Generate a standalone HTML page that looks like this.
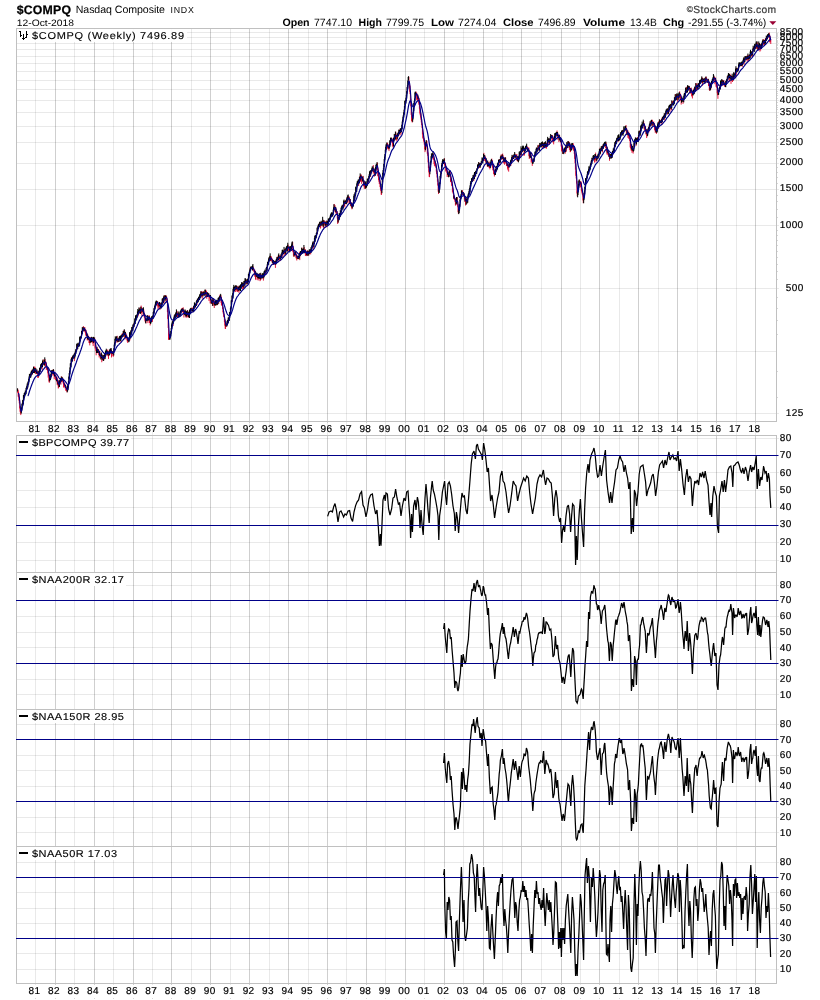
<!DOCTYPE html>
<html><head><meta charset="utf-8"><title>$COMPQ</title>
<style>html,body{margin:0;padding:0;background:#fff}svg{display:block}text{font-family:"Liberation Sans",sans-serif;text-rendering:geometricPrecision}.a{stroke:#000;stroke-width:0.2px}.b{stroke:#000;stroke-width:0.12px}</style></head>
<body><div style="will-change:transform;width:820px;height:1000px"><svg width="820" height="1000" viewBox="0 0 820 1000" shape-rendering="auto">
<line x1="35.5" y1="28" x2="35.5" y2="423" stroke="#000" stroke-width="1" stroke-opacity="0.088"/>
<line x1="55.5" y1="28" x2="55.5" y2="423" stroke="#000" stroke-width="1" stroke-opacity="0.19"/>
<line x1="74.5" y1="28" x2="74.5" y2="423" stroke="#000" stroke-width="1" stroke-opacity="0.088"/>
<line x1="94.5" y1="28" x2="94.5" y2="423" stroke="#000" stroke-width="1" stroke-opacity="0.19"/>
<line x1="113.5" y1="28" x2="113.5" y2="423" stroke="#000" stroke-width="1" stroke-opacity="0.088"/>
<line x1="133.5" y1="28" x2="133.5" y2="423" stroke="#000" stroke-width="1" stroke-opacity="0.19"/>
<line x1="152.5" y1="28" x2="152.5" y2="423" stroke="#000" stroke-width="1" stroke-opacity="0.088"/>
<line x1="171.5" y1="28" x2="171.5" y2="423" stroke="#000" stroke-width="1" stroke-opacity="0.19"/>
<line x1="191.5" y1="28" x2="191.5" y2="423" stroke="#000" stroke-width="1" stroke-opacity="0.088"/>
<line x1="210.5" y1="28" x2="210.5" y2="423" stroke="#000" stroke-width="1" stroke-opacity="0.19"/>
<line x1="230.5" y1="28" x2="230.5" y2="423" stroke="#000" stroke-width="1" stroke-opacity="0.088"/>
<line x1="249.5" y1="28" x2="249.5" y2="423" stroke="#000" stroke-width="1" stroke-opacity="0.19"/>
<line x1="269.5" y1="28" x2="269.5" y2="423" stroke="#000" stroke-width="1" stroke-opacity="0.088"/>
<line x1="288.5" y1="28" x2="288.5" y2="423" stroke="#000" stroke-width="1" stroke-opacity="0.19"/>
<line x1="308.5" y1="28" x2="308.5" y2="423" stroke="#000" stroke-width="1" stroke-opacity="0.088"/>
<line x1="327.5" y1="28" x2="327.5" y2="423" stroke="#000" stroke-width="1" stroke-opacity="0.19"/>
<line x1="346.5" y1="28" x2="346.5" y2="423" stroke="#000" stroke-width="1" stroke-opacity="0.088"/>
<line x1="366.5" y1="28" x2="366.5" y2="423" stroke="#000" stroke-width="1" stroke-opacity="0.19"/>
<line x1="385.5" y1="28" x2="385.5" y2="423" stroke="#000" stroke-width="1" stroke-opacity="0.088"/>
<line x1="405.5" y1="28" x2="405.5" y2="423" stroke="#000" stroke-width="1" stroke-opacity="0.19"/>
<line x1="424.5" y1="28" x2="424.5" y2="423" stroke="#000" stroke-width="1" stroke-opacity="0.088"/>
<line x1="444.5" y1="28" x2="444.5" y2="423" stroke="#000" stroke-width="1" stroke-opacity="0.19"/>
<line x1="463.5" y1="28" x2="463.5" y2="423" stroke="#000" stroke-width="1" stroke-opacity="0.088"/>
<line x1="483.5" y1="28" x2="483.5" y2="423" stroke="#000" stroke-width="1" stroke-opacity="0.19"/>
<line x1="502.5" y1="28" x2="502.5" y2="423" stroke="#000" stroke-width="1" stroke-opacity="0.088"/>
<line x1="521.5" y1="28" x2="521.5" y2="423" stroke="#000" stroke-width="1" stroke-opacity="0.19"/>
<line x1="541.5" y1="28" x2="541.5" y2="423" stroke="#000" stroke-width="1" stroke-opacity="0.088"/>
<line x1="561.5" y1="28" x2="561.5" y2="423" stroke="#000" stroke-width="1" stroke-opacity="0.19"/>
<line x1="580.5" y1="28" x2="580.5" y2="423" stroke="#000" stroke-width="1" stroke-opacity="0.088"/>
<line x1="599.5" y1="28" x2="599.5" y2="423" stroke="#000" stroke-width="1" stroke-opacity="0.19"/>
<line x1="619.5" y1="28" x2="619.5" y2="423" stroke="#000" stroke-width="1" stroke-opacity="0.088"/>
<line x1="638.5" y1="28" x2="638.5" y2="423" stroke="#000" stroke-width="1" stroke-opacity="0.19"/>
<line x1="658.5" y1="28" x2="658.5" y2="423" stroke="#000" stroke-width="1" stroke-opacity="0.088"/>
<line x1="677.5" y1="28" x2="677.5" y2="423" stroke="#000" stroke-width="1" stroke-opacity="0.19"/>
<line x1="697.5" y1="28" x2="697.5" y2="423" stroke="#000" stroke-width="1" stroke-opacity="0.088"/>
<line x1="716.5" y1="28" x2="716.5" y2="423" stroke="#000" stroke-width="1" stroke-opacity="0.19"/>
<line x1="736.5" y1="28" x2="736.5" y2="423" stroke="#000" stroke-width="1" stroke-opacity="0.088"/>
<line x1="755.5" y1="28" x2="755.5" y2="423" stroke="#000" stroke-width="1" stroke-opacity="0.19"/>
<line x1="16" y1="413.5" x2="779" y2="413.5" stroke="#000" stroke-width="1" stroke-opacity="0.088"/>
<line x1="16" y1="351.5" x2="776" y2="351.5" stroke="#000" stroke-width="1" stroke-opacity="0.088"/>
<line x1="16" y1="288.5" x2="779" y2="288.5" stroke="#000" stroke-width="1" stroke-opacity="0.088"/>
<line x1="16" y1="225.5" x2="779" y2="225.5" stroke="#000" stroke-width="1" stroke-opacity="0.088"/>
<line x1="16" y1="189.5" x2="779" y2="189.5" stroke="#000" stroke-width="1" stroke-opacity="0.088"/>
<line x1="16" y1="163.5" x2="779" y2="163.5" stroke="#000" stroke-width="1" stroke-opacity="0.088"/>
<line x1="16" y1="142.5" x2="779" y2="142.5" stroke="#000" stroke-width="1" stroke-opacity="0.088"/>
<line x1="16" y1="126.5" x2="779" y2="126.5" stroke="#000" stroke-width="1" stroke-opacity="0.088"/>
<line x1="16" y1="112.5" x2="779" y2="112.5" stroke="#000" stroke-width="1" stroke-opacity="0.088"/>
<line x1="16" y1="100.5" x2="779" y2="100.5" stroke="#000" stroke-width="1" stroke-opacity="0.088"/>
<line x1="16" y1="89.5" x2="779" y2="89.5" stroke="#000" stroke-width="1" stroke-opacity="0.088"/>
<line x1="16" y1="80.5" x2="779" y2="80.5" stroke="#000" stroke-width="1" stroke-opacity="0.088"/>
<line x1="16" y1="71.5" x2="779" y2="71.5" stroke="#000" stroke-width="1" stroke-opacity="0.088"/>
<line x1="16" y1="63.5" x2="779" y2="63.5" stroke="#000" stroke-width="1" stroke-opacity="0.088"/>
<line x1="16" y1="56.5" x2="779" y2="56.5" stroke="#000" stroke-width="1" stroke-opacity="0.088"/>
<line x1="16" y1="49.5" x2="779" y2="49.5" stroke="#000" stroke-width="1" stroke-opacity="0.088"/>
<line x1="16" y1="43.5" x2="779" y2="43.5" stroke="#000" stroke-width="1" stroke-opacity="0.088"/>
<line x1="16" y1="37.5" x2="779" y2="37.5" stroke="#000" stroke-width="1" stroke-opacity="0.088"/>
<line x1="16" y1="32.5" x2="779" y2="32.5" stroke="#000" stroke-width="1" stroke-opacity="0.088"/>
<line x1="35.5" y1="423" x2="35.5" y2="435" stroke="#ececec" stroke-width="1" />
<line x1="35.5" y1="998" x2="35.5" y2="999" stroke="#d8d8d8" stroke-width="1" />
<line x1="55.5" y1="423" x2="55.5" y2="435" stroke="#ececec" stroke-width="1" />
<line x1="55.5" y1="998" x2="55.5" y2="999" stroke="#d8d8d8" stroke-width="1" />
<line x1="74.5" y1="423" x2="74.5" y2="435" stroke="#ececec" stroke-width="1" />
<line x1="74.5" y1="998" x2="74.5" y2="999" stroke="#d8d8d8" stroke-width="1" />
<line x1="94.5" y1="423" x2="94.5" y2="435" stroke="#ececec" stroke-width="1" />
<line x1="94.5" y1="998" x2="94.5" y2="999" stroke="#d8d8d8" stroke-width="1" />
<line x1="113.5" y1="423" x2="113.5" y2="435" stroke="#ececec" stroke-width="1" />
<line x1="113.5" y1="998" x2="113.5" y2="999" stroke="#d8d8d8" stroke-width="1" />
<line x1="133.5" y1="423" x2="133.5" y2="435" stroke="#ececec" stroke-width="1" />
<line x1="133.5" y1="998" x2="133.5" y2="999" stroke="#d8d8d8" stroke-width="1" />
<line x1="152.5" y1="423" x2="152.5" y2="435" stroke="#ececec" stroke-width="1" />
<line x1="152.5" y1="998" x2="152.5" y2="999" stroke="#d8d8d8" stroke-width="1" />
<line x1="171.5" y1="423" x2="171.5" y2="435" stroke="#ececec" stroke-width="1" />
<line x1="171.5" y1="998" x2="171.5" y2="999" stroke="#d8d8d8" stroke-width="1" />
<line x1="191.5" y1="423" x2="191.5" y2="435" stroke="#ececec" stroke-width="1" />
<line x1="191.5" y1="998" x2="191.5" y2="999" stroke="#d8d8d8" stroke-width="1" />
<line x1="210.5" y1="423" x2="210.5" y2="435" stroke="#ececec" stroke-width="1" />
<line x1="210.5" y1="998" x2="210.5" y2="999" stroke="#d8d8d8" stroke-width="1" />
<line x1="230.5" y1="423" x2="230.5" y2="435" stroke="#ececec" stroke-width="1" />
<line x1="230.5" y1="998" x2="230.5" y2="999" stroke="#d8d8d8" stroke-width="1" />
<line x1="249.5" y1="423" x2="249.5" y2="435" stroke="#ececec" stroke-width="1" />
<line x1="249.5" y1="998" x2="249.5" y2="999" stroke="#d8d8d8" stroke-width="1" />
<line x1="269.5" y1="423" x2="269.5" y2="435" stroke="#ececec" stroke-width="1" />
<line x1="269.5" y1="998" x2="269.5" y2="999" stroke="#d8d8d8" stroke-width="1" />
<line x1="288.5" y1="423" x2="288.5" y2="435" stroke="#ececec" stroke-width="1" />
<line x1="288.5" y1="998" x2="288.5" y2="999" stroke="#d8d8d8" stroke-width="1" />
<line x1="308.5" y1="423" x2="308.5" y2="435" stroke="#ececec" stroke-width="1" />
<line x1="308.5" y1="998" x2="308.5" y2="999" stroke="#d8d8d8" stroke-width="1" />
<line x1="327.5" y1="423" x2="327.5" y2="435" stroke="#ececec" stroke-width="1" />
<line x1="327.5" y1="998" x2="327.5" y2="999" stroke="#d8d8d8" stroke-width="1" />
<line x1="346.5" y1="423" x2="346.5" y2="435" stroke="#ececec" stroke-width="1" />
<line x1="346.5" y1="998" x2="346.5" y2="999" stroke="#d8d8d8" stroke-width="1" />
<line x1="366.5" y1="423" x2="366.5" y2="435" stroke="#ececec" stroke-width="1" />
<line x1="366.5" y1="998" x2="366.5" y2="999" stroke="#d8d8d8" stroke-width="1" />
<line x1="385.5" y1="423" x2="385.5" y2="435" stroke="#ececec" stroke-width="1" />
<line x1="385.5" y1="998" x2="385.5" y2="999" stroke="#d8d8d8" stroke-width="1" />
<line x1="405.5" y1="423" x2="405.5" y2="435" stroke="#ececec" stroke-width="1" />
<line x1="405.5" y1="998" x2="405.5" y2="999" stroke="#d8d8d8" stroke-width="1" />
<line x1="424.5" y1="423" x2="424.5" y2="435" stroke="#ececec" stroke-width="1" />
<line x1="424.5" y1="998" x2="424.5" y2="999" stroke="#d8d8d8" stroke-width="1" />
<line x1="444.5" y1="423" x2="444.5" y2="435" stroke="#ececec" stroke-width="1" />
<line x1="444.5" y1="998" x2="444.5" y2="999" stroke="#d8d8d8" stroke-width="1" />
<line x1="463.5" y1="423" x2="463.5" y2="435" stroke="#ececec" stroke-width="1" />
<line x1="463.5" y1="998" x2="463.5" y2="999" stroke="#d8d8d8" stroke-width="1" />
<line x1="483.5" y1="423" x2="483.5" y2="435" stroke="#ececec" stroke-width="1" />
<line x1="483.5" y1="998" x2="483.5" y2="999" stroke="#d8d8d8" stroke-width="1" />
<line x1="502.5" y1="423" x2="502.5" y2="435" stroke="#ececec" stroke-width="1" />
<line x1="502.5" y1="998" x2="502.5" y2="999" stroke="#d8d8d8" stroke-width="1" />
<line x1="521.5" y1="423" x2="521.5" y2="435" stroke="#ececec" stroke-width="1" />
<line x1="521.5" y1="998" x2="521.5" y2="999" stroke="#d8d8d8" stroke-width="1" />
<line x1="541.5" y1="423" x2="541.5" y2="435" stroke="#ececec" stroke-width="1" />
<line x1="541.5" y1="998" x2="541.5" y2="999" stroke="#d8d8d8" stroke-width="1" />
<line x1="561.5" y1="423" x2="561.5" y2="435" stroke="#ececec" stroke-width="1" />
<line x1="561.5" y1="998" x2="561.5" y2="999" stroke="#d8d8d8" stroke-width="1" />
<line x1="580.5" y1="423" x2="580.5" y2="435" stroke="#ececec" stroke-width="1" />
<line x1="580.5" y1="998" x2="580.5" y2="999" stroke="#d8d8d8" stroke-width="1" />
<line x1="599.5" y1="423" x2="599.5" y2="435" stroke="#ececec" stroke-width="1" />
<line x1="599.5" y1="998" x2="599.5" y2="999" stroke="#d8d8d8" stroke-width="1" />
<line x1="619.5" y1="423" x2="619.5" y2="435" stroke="#ececec" stroke-width="1" />
<line x1="619.5" y1="998" x2="619.5" y2="999" stroke="#d8d8d8" stroke-width="1" />
<line x1="638.5" y1="423" x2="638.5" y2="435" stroke="#ececec" stroke-width="1" />
<line x1="638.5" y1="998" x2="638.5" y2="999" stroke="#d8d8d8" stroke-width="1" />
<line x1="658.5" y1="423" x2="658.5" y2="435" stroke="#ececec" stroke-width="1" />
<line x1="658.5" y1="998" x2="658.5" y2="999" stroke="#d8d8d8" stroke-width="1" />
<line x1="677.5" y1="423" x2="677.5" y2="435" stroke="#ececec" stroke-width="1" />
<line x1="677.5" y1="998" x2="677.5" y2="999" stroke="#d8d8d8" stroke-width="1" />
<line x1="697.5" y1="423" x2="697.5" y2="435" stroke="#ececec" stroke-width="1" />
<line x1="697.5" y1="998" x2="697.5" y2="999" stroke="#d8d8d8" stroke-width="1" />
<line x1="716.5" y1="423" x2="716.5" y2="435" stroke="#ececec" stroke-width="1" />
<line x1="716.5" y1="998" x2="716.5" y2="999" stroke="#d8d8d8" stroke-width="1" />
<line x1="736.5" y1="423" x2="736.5" y2="435" stroke="#ececec" stroke-width="1" />
<line x1="736.5" y1="998" x2="736.5" y2="999" stroke="#d8d8d8" stroke-width="1" />
<line x1="755.5" y1="423" x2="755.5" y2="435" stroke="#ececec" stroke-width="1" />
<line x1="755.5" y1="998" x2="755.5" y2="999" stroke="#d8d8d8" stroke-width="1" />
<line x1="777" y1="397.5" x2="778" y2="397.5" stroke="#d8d8d8" stroke-width="1" />
<line x1="777" y1="371.5" x2="778" y2="371.5" stroke="#d8d8d8" stroke-width="1" />
<line x1="777" y1="334.5" x2="778" y2="334.5" stroke="#d8d8d8" stroke-width="1" />
<line x1="777" y1="320.5" x2="778" y2="320.5" stroke="#d8d8d8" stroke-width="1" />
<line x1="777" y1="308.5" x2="778" y2="308.5" stroke="#d8d8d8" stroke-width="1" />
<line x1="777" y1="297.5" x2="778" y2="297.5" stroke="#d8d8d8" stroke-width="1" />
<line x1="777" y1="279.5" x2="778" y2="279.5" stroke="#d8d8d8" stroke-width="1" />
<line x1="777" y1="271.5" x2="778" y2="271.5" stroke="#d8d8d8" stroke-width="1" />
<line x1="777" y1="264.5" x2="778" y2="264.5" stroke="#d8d8d8" stroke-width="1" />
<line x1="777" y1="257.5" x2="778" y2="257.5" stroke="#d8d8d8" stroke-width="1" />
<line x1="777" y1="251.5" x2="778" y2="251.5" stroke="#d8d8d8" stroke-width="1" />
<line x1="777" y1="245.5" x2="778" y2="245.5" stroke="#d8d8d8" stroke-width="1" />
<line x1="777" y1="240.5" x2="778" y2="240.5" stroke="#d8d8d8" stroke-width="1" />
<line x1="777" y1="235.5" x2="778" y2="235.5" stroke="#d8d8d8" stroke-width="1" />
<line x1="777" y1="230.5" x2="778" y2="230.5" stroke="#d8d8d8" stroke-width="1" />
<line x1="777" y1="217.5" x2="778" y2="217.5" stroke="#d8d8d8" stroke-width="1" />
<line x1="777" y1="209.5" x2="778" y2="209.5" stroke="#d8d8d8" stroke-width="1" />
<line x1="777" y1="201.5" x2="778" y2="201.5" stroke="#d8d8d8" stroke-width="1" />
<line x1="777" y1="195.5" x2="778" y2="195.5" stroke="#d8d8d8" stroke-width="1" />
<line x1="777" y1="183.5" x2="778" y2="183.5" stroke="#d8d8d8" stroke-width="1" />
<line x1="777" y1="177.5" x2="778" y2="177.5" stroke="#d8d8d8" stroke-width="1" />
<line x1="777" y1="172.5" x2="778" y2="172.5" stroke="#d8d8d8" stroke-width="1" />
<line x1="777" y1="167.5" x2="778" y2="167.5" stroke="#d8d8d8" stroke-width="1" />
<line x1="777" y1="158.5" x2="778" y2="158.5" stroke="#d8d8d8" stroke-width="1" />
<line x1="777" y1="154.5" x2="778" y2="154.5" stroke="#d8d8d8" stroke-width="1" />
<line x1="777" y1="150.5" x2="778" y2="150.5" stroke="#d8d8d8" stroke-width="1" />
<line x1="777" y1="146.5" x2="778" y2="146.5" stroke="#d8d8d8" stroke-width="1" />
<line x1="777" y1="139.5" x2="778" y2="139.5" stroke="#d8d8d8" stroke-width="1" />
<line x1="777" y1="135.5" x2="778" y2="135.5" stroke="#d8d8d8" stroke-width="1" />
<line x1="777" y1="132.5" x2="778" y2="132.5" stroke="#d8d8d8" stroke-width="1" />
<line x1="777" y1="129.5" x2="778" y2="129.5" stroke="#d8d8d8" stroke-width="1" />
<line x1="777" y1="123.5" x2="778" y2="123.5" stroke="#d8d8d8" stroke-width="1" />
<line x1="777" y1="120.5" x2="778" y2="120.5" stroke="#d8d8d8" stroke-width="1" />
<line x1="777" y1="117.5" x2="778" y2="117.5" stroke="#d8d8d8" stroke-width="1" />
<line x1="777" y1="115.5" x2="778" y2="115.5" stroke="#d8d8d8" stroke-width="1" />
<line x1="777" y1="109.5" x2="778" y2="109.5" stroke="#d8d8d8" stroke-width="1" />
<line x1="777" y1="107.5" x2="778" y2="107.5" stroke="#d8d8d8" stroke-width="1" />
<line x1="777" y1="105.5" x2="778" y2="105.5" stroke="#d8d8d8" stroke-width="1" />
<line x1="777" y1="102.5" x2="778" y2="102.5" stroke="#d8d8d8" stroke-width="1" />
<line x1="777" y1="98.5" x2="778" y2="98.5" stroke="#d8d8d8" stroke-width="1" />
<line x1="777" y1="95.5" x2="778" y2="95.5" stroke="#d8d8d8" stroke-width="1" />
<line x1="777" y1="93.5" x2="778" y2="93.5" stroke="#d8d8d8" stroke-width="1" />
<line x1="777" y1="91.5" x2="778" y2="91.5" stroke="#d8d8d8" stroke-width="1" />
<line x1="777" y1="87.5" x2="778" y2="87.5" stroke="#d8d8d8" stroke-width="1" />
<line x1="777" y1="85.5" x2="778" y2="85.5" stroke="#d8d8d8" stroke-width="1" />
<line x1="777" y1="83.5" x2="778" y2="83.5" stroke="#d8d8d8" stroke-width="1" />
<line x1="777" y1="82.5" x2="778" y2="82.5" stroke="#d8d8d8" stroke-width="1" />
<line x1="777" y1="78.5" x2="778" y2="78.5" stroke="#d8d8d8" stroke-width="1" />
<line x1="777" y1="76.5" x2="778" y2="76.5" stroke="#d8d8d8" stroke-width="1" />
<line x1="777" y1="74.5" x2="778" y2="74.5" stroke="#d8d8d8" stroke-width="1" />
<line x1="777" y1="73.5" x2="778" y2="73.5" stroke="#d8d8d8" stroke-width="1" />
<line x1="777" y1="69.5" x2="778" y2="69.5" stroke="#d8d8d8" stroke-width="1" />
<line x1="777" y1="68.5" x2="778" y2="68.5" stroke="#d8d8d8" stroke-width="1" />
<line x1="777" y1="66.5" x2="778" y2="66.5" stroke="#d8d8d8" stroke-width="1" />
<line x1="777" y1="65.5" x2="778" y2="65.5" stroke="#d8d8d8" stroke-width="1" />
<line x1="777" y1="62.5" x2="778" y2="62.5" stroke="#d8d8d8" stroke-width="1" />
<line x1="777" y1="60.5" x2="778" y2="60.5" stroke="#d8d8d8" stroke-width="1" />
<line x1="777" y1="59.5" x2="778" y2="59.5" stroke="#d8d8d8" stroke-width="1" />
<line x1="777" y1="57.5" x2="778" y2="57.5" stroke="#d8d8d8" stroke-width="1" />
<line x1="777" y1="55.5" x2="778" y2="55.5" stroke="#d8d8d8" stroke-width="1" />
<line x1="777" y1="53.5" x2="778" y2="53.5" stroke="#d8d8d8" stroke-width="1" />
<line x1="777" y1="52.5" x2="778" y2="52.5" stroke="#d8d8d8" stroke-width="1" />
<line x1="777" y1="51.5" x2="778" y2="51.5" stroke="#d8d8d8" stroke-width="1" />
<line x1="777" y1="48.5" x2="778" y2="48.5" stroke="#d8d8d8" stroke-width="1" />
<line x1="777" y1="47.5" x2="778" y2="47.5" stroke="#d8d8d8" stroke-width="1" />
<line x1="777" y1="45.5" x2="778" y2="45.5" stroke="#d8d8d8" stroke-width="1" />
<line x1="777" y1="44.5" x2="778" y2="44.5" stroke="#d8d8d8" stroke-width="1" />
<line x1="777" y1="42.5" x2="778" y2="42.5" stroke="#d8d8d8" stroke-width="1" />
<line x1="777" y1="41.5" x2="778" y2="41.5" stroke="#d8d8d8" stroke-width="1" />
<line x1="777" y1="40.5" x2="778" y2="40.5" stroke="#d8d8d8" stroke-width="1" />
<line x1="777" y1="38.5" x2="778" y2="38.5" stroke="#d8d8d8" stroke-width="1" />
<line x1="777" y1="36.5" x2="778" y2="36.5" stroke="#d8d8d8" stroke-width="1" />
<line x1="777" y1="35.5" x2="778" y2="35.5" stroke="#d8d8d8" stroke-width="1" />
<line x1="777" y1="34.5" x2="778" y2="34.5" stroke="#d8d8d8" stroke-width="1" />
<line x1="777" y1="33.5" x2="778" y2="33.5" stroke="#d8d8d8" stroke-width="1" />
<rect x="16.5" y="28.5" width="760" height="393" fill="none" stroke="#c0c0c0"/>
<text x="803.6" y="416.1" font-size="10" text-anchor="end" font-weight="normal" fill="#000" letter-spacing="0.4" class="a">125</text>
<text x="803.6" y="290.8" font-size="10" text-anchor="end" font-weight="normal" fill="#000" letter-spacing="0.4" class="a">500</text>
<text x="803.6" y="228.1" font-size="10" text-anchor="end" font-weight="normal" fill="#000" letter-spacing="0.4" class="a">1000</text>
<text x="803.6" y="191.4" font-size="10" text-anchor="end" font-weight="normal" fill="#000" letter-spacing="0.4" class="a">1500</text>
<text x="803.6" y="165.4" font-size="10" text-anchor="end" font-weight="normal" fill="#000" letter-spacing="0.4" class="a">2000</text>
<text x="803.6" y="145.3" font-size="10" text-anchor="end" font-weight="normal" fill="#000" letter-spacing="0.4" class="a">2500</text>
<text x="803.6" y="128.8" font-size="10" text-anchor="end" font-weight="normal" fill="#000" letter-spacing="0.4" class="a">3000</text>
<text x="803.6" y="114.9" font-size="10" text-anchor="end" font-weight="normal" fill="#000" letter-spacing="0.4" class="a">3500</text>
<text x="803.6" y="102.8" font-size="10" text-anchor="end" font-weight="normal" fill="#000" letter-spacing="0.4" class="a">4000</text>
<text x="803.6" y="92.1" font-size="10" text-anchor="end" font-weight="normal" fill="#000" letter-spacing="0.4" class="a">4500</text>
<text x="803.6" y="82.6" font-size="10" text-anchor="end" font-weight="normal" fill="#000" letter-spacing="0.4" class="a">5000</text>
<text x="803.6" y="74.0" font-size="10" text-anchor="end" font-weight="normal" fill="#000" letter-spacing="0.4" class="a">5500</text>
<text x="803.6" y="66.1" font-size="10" text-anchor="end" font-weight="normal" fill="#000" letter-spacing="0.4" class="a">6000</text>
<text x="803.6" y="58.9" font-size="10" text-anchor="end" font-weight="normal" fill="#000" letter-spacing="0.4" class="a">6500</text>
<text x="803.6" y="52.2" font-size="10" text-anchor="end" font-weight="normal" fill="#000" letter-spacing="0.4" class="a">7000</text>
<text x="803.6" y="46.0" font-size="10" text-anchor="end" font-weight="normal" fill="#000" letter-spacing="0.4" class="a">7500</text>
<text x="803.6" y="40.1" font-size="10" text-anchor="end" font-weight="normal" fill="#000" letter-spacing="0.4" class="a">8000</text>
<text x="803.6" y="34.6" font-size="10" text-anchor="end" font-weight="normal" fill="#000" letter-spacing="0.4" class="a">8500</text>
<path d="M17.79 388.79V393.13M18.16 390.10V396.68M18.54 391.77V397.28M18.91 394.07V400.60M19.29 397.07V403.39M19.66 400.22V408.55M20.04 406.04V411.74M20.41 408.40V413.49M20.79 410.72V415.09M27.54 383.62V388.64M30.16 374.74V376.31M32.03 369.62V374.85M33.91 366.81V372.51M34.28 366.62V373.00M35.03 366.83V372.27M35.41 368.67V373.94M36.16 369.43V373.71M37.28 370.73V374.37M37.66 371.66V377.78M38.03 372.51V375.80M38.41 373.24V377.81M39.91 369.09V370.70M42.16 362.89V369.90M43.28 359.45V364.04M43.66 361.59V365.27M45.16 359.11V366.73M45.53 361.85V366.18M45.91 361.65V366.46M46.28 362.80V369.91M46.66 365.39V369.17M47.03 367.54V369.53M47.41 367.66V370.39M47.78 367.07V373.33M48.16 368.77V377.59M48.53 371.00V375.63M48.91 373.82V381.65M49.28 375.45V382.83M50.03 375.96V379.49M51.91 370.32V375.89M52.66 369.88V372.91M53.03 369.70V375.26M53.78 369.85V375.52M54.16 372.61V379.24M54.91 372.39V377.14M55.28 374.63V378.61M55.66 375.43V380.06M56.03 375.51V380.07M56.78 377.40V382.15M57.16 377.36V384.71M57.53 379.65V385.31M58.28 379.81V388.52M58.66 382.99V388.04M60.91 378.79V384.73M61.66 376.35V382.06M62.78 377.84V382.26M63.16 379.46V383.54M63.53 381.17V387.57M63.91 381.68V385.25M64.28 383.24V387.03M64.66 383.15V386.70M65.03 384.19V388.35M65.78 385.89V390.56M66.16 387.11V390.99M66.53 388.41V390.58M66.91 388.22V392.33M71.78 356.96V362.51M74.41 353.66V361.07M77.03 344.98V347.69M77.41 344.16V349.51M78.53 343.58V346.48M81.91 330.83V334.08M82.66 327.95V330.71M83.41 326.10V329.87M83.78 327.26V331.39M84.53 327.54V331.33M84.91 327.18V331.34M85.28 329.81V332.96M85.66 329.31V334.72M86.03 330.02V335.93M86.41 331.74V336.60M87.16 333.59V340.32M87.91 334.66V340.37M88.66 336.07V339.56M89.03 337.02V343.00M89.41 338.05V343.13M89.78 339.71V345.40M90.91 337.04V342.83M92.41 337.58V342.09M92.78 339.95V343.54M93.16 340.73V346.07M94.66 337.46V342.50M95.03 339.59V348.43M95.41 344.35V346.67M95.78 344.56V350.86M96.16 347.07V355.31M97.28 347.32V353.19M98.41 349.11V353.10M98.78 350.61V355.06M99.16 350.43V357.45M99.91 350.96V356.31M100.28 353.37V358.72M100.66 355.36V358.55M101.78 354.08V362.24M102.53 355.38V359.93M102.91 356.93V360.63M104.03 355.66V359.48M104.78 353.81V359.32M107.03 349.88V356.11M107.78 349.54V353.44M108.16 350.91V356.21M108.53 352.89V358.94M109.28 350.87V354.97M110.78 348.43V353.76M111.53 349.95V357.45M111.91 351.57V355.76M112.28 351.99V353.87M113.03 351.45V356.35M113.41 350.86V356.61M116.03 337.14V342.85M117.16 335.78V340.66M117.53 338.82V342.36M118.28 338.80V341.80M119.78 336.83V340.51M120.16 337.67V342.15M122.03 333.62V338.07M122.78 333.01V336.25M123.53 330.50V335.21M124.66 330.42V337.42M125.03 332.47V339.42M125.78 333.09V337.35M126.16 333.75V338.46M126.91 335.58V340.26M127.28 336.96V341.72M127.66 337.63V342.90M128.41 338.35V341.46M129.91 333.02V340.40M130.28 334.72V337.87M131.41 329.79V334.01M132.53 326.79V330.90M133.66 323.72V327.58M138.16 311.36V316.34M139.66 307.70V313.48M141.16 305.57V309.98M141.53 307.17V313.03M141.91 307.69V315.78M142.66 308.90V310.93M143.03 308.97V313.38M143.78 309.54V315.84M144.16 313.15V317.35M144.53 314.59V317.58M144.91 314.14V320.74M145.28 317.72V322.08M146.03 318.84V323.40M146.41 319.02V320.90M147.91 315.09V323.16M148.28 317.93V320.21M149.41 315.46V322.97M149.78 317.97V322.91M150.16 319.91V325.45M152.41 316.23V322.02M157.28 301.20V306.35M157.66 301.27V304.59M158.03 302.58V309.05M158.41 303.36V306.51M158.78 303.29V307.89M159.91 303.01V310.03M160.28 302.88V308.72M162.53 298.61V302.03M163.28 298.48V303.62M164.41 295.73V298.18M164.78 295.03V302.60M166.28 295.45V300.08M166.66 296.63V302.78M167.03 298.36V302.53M167.41 300.29V312.09M167.78 307.16V318.86M168.16 314.88V327.97M168.53 322.96V339.74M168.91 333.31V339.91M169.28 336.19V339.50M173.03 320.33V325.97M174.53 314.78V320.06M176.78 310.73V315.55M177.16 311.40V315.97M177.53 312.67V317.20M177.91 313.12V316.60M178.66 312.99V316.65M181.66 308.19V311.37M182.41 308.37V312.07M183.16 307.24V313.11M183.53 309.22V313.98M183.91 310.47V317.49M185.41 310.21V315.83M186.16 313.49V317.90M186.91 312.41V316.99M187.66 310.11V316.72M188.03 313.87V317.67M188.78 312.17V316.13M189.16 313.14V317.87M191.41 307.85V310.70M191.78 308.43V310.60M192.16 307.64V310.80M192.91 307.55V312.23M195.16 304.01V307.82M197.03 299.75V304.97M198.91 297.22V300.01M201.16 291.25V296.78M201.53 291.45V296.55M202.28 291.81V298.59M202.66 293.60V295.92M203.41 291.15V295.45M204.16 291.57V295.41M204.53 292.25V295.07M205.66 289.60V293.91M206.03 290.35V297.39M206.41 291.09V297.35M206.78 292.95V298.75M207.91 292.73V296.10M209.03 293.77V301.04M209.41 295.63V297.65M209.78 295.49V298.76M210.16 296.63V303.39M210.91 298.08V303.42M211.66 299.43V303.74M212.41 300.13V305.68M213.53 298.75V304.27M213.91 300.24V305.77M214.28 300.74V308.01M215.03 301.18V305.63M215.78 301.37V305.14M216.91 300.17V305.37M217.66 300.05V304.78M218.78 297.73V303.80M219.91 294.66V299.38M221.03 295.36V302.81M221.41 296.97V305.10M221.78 299.43V305.85M222.16 300.77V304.91M222.53 302.54V309.06M222.91 306.79V312.28M223.28 310.69V313.75M223.66 311.22V316.79M224.03 313.76V317.43M224.41 316.02V322.08M224.78 318.94V325.66M225.16 319.77V328.73M225.53 322.89V329.02M226.28 322.50V326.84M226.66 324.50V326.41M232.28 295.91V301.91M234.16 287.25V291.49M235.66 285.44V292.03M236.41 286.34V290.56M237.16 286.33V291.78M237.53 286.47V291.46M237.91 287.85V292.04M239.03 285.77V292.90M239.78 285.96V289.85M242.41 282.65V289.08M243.53 284.17V289.31M244.66 281.41V286.58M245.78 278.77V283.96M246.16 280.16V283.68M246.53 280.07V283.24M247.28 281.13V284.55M250.28 267.50V270.41M252.16 266.56V269.64M253.28 266.54V270.24M253.66 268.10V271.39M254.03 269.70V271.86M254.41 270.07V274.59M254.78 269.75V276.75M255.53 270.85V279.33M255.91 272.89V280.07M257.41 273.81V279.57M258.16 274.65V280.50M258.91 274.50V277.98M259.28 275.51V278.71M260.03 273.10V281.14M260.41 275.90V280.32M261.16 274.24V279.32M261.91 275.69V278.40M263.41 273.91V280.59M265.28 270.66V275.27M265.66 270.28V273.93M266.78 266.64V270.79M269.41 256.98V260.61M270.53 256.04V260.98M270.91 256.17V258.97M271.28 256.59V261.13M271.66 257.77V260.68M272.03 258.31V262.31M272.78 259.65V263.61M273.16 261.32V264.74M273.91 261.01V264.78M274.66 260.78V264.70M275.03 260.91V263.82M275.41 260.88V267.90M277.28 256.52V260.08M278.03 256.81V261.14M279.16 255.13V260.50M279.53 256.20V259.71M280.28 254.95V261.11M282.91 251.68V257.87M284.41 248.91V253.68M284.78 249.89V255.19M285.53 249.27V255.40M287.03 246.93V251.57M288.16 244.68V247.97M288.53 246.43V250.40M288.91 246.83V251.32M289.28 246.89V251.69M290.41 246.28V251.22M291.16 246.39V250.96M292.66 241.90V251.36M293.03 245.83V252.29M293.41 248.39V255.66M293.78 249.94V256.90M295.66 251.88V256.33M296.03 252.81V258.27M296.41 254.96V257.82M296.78 254.58V260.48M297.53 255.75V259.06M297.91 255.75V259.04M299.78 251.61V260.10M300.91 251.48V254.06M302.03 247.66V253.72M302.78 248.95V252.35M304.28 247.09V252.83M305.41 249.23V255.96M305.78 251.18V254.55M306.16 250.77V256.06M306.91 252.39V256.07M307.66 250.36V254.29M308.03 251.03V255.29M308.41 252.42V255.69M309.53 250.44V253.99M310.66 248.75V254.40M313.28 242.65V248.93M313.66 241.98V246.72M317.41 228.45V233.95M319.28 223.33V226.69M320.41 221.86V228.64M320.78 222.79V227.58M321.91 221.52V224.41M323.03 219.68V227.04M323.41 221.51V228.16M324.16 220.44V223.84M324.53 221.16V224.62M324.91 221.37V225.31M325.28 222.36V227.47M326.41 220.60V225.18M326.78 222.40V227.42M334.28 203.96V211.44M335.03 205.20V209.61M335.41 207.06V212.70M336.16 208.37V214.11M336.53 209.65V213.72M336.91 211.26V213.95M337.28 211.35V218.52M337.66 214.84V223.99M338.41 217.89V222.51M342.53 205.08V208.79M344.41 200.98V206.04M344.78 200.88V207.33M346.28 199.19V204.28M347.41 196.27V202.86M348.53 196.30V198.76M348.91 197.08V202.83M349.28 196.59V201.27M349.66 199.22V203.54M350.41 199.14V206.03M350.78 202.06V205.42M351.53 202.36V207.83M351.91 205.21V209.31M354.53 195.09V200.63M356.41 188.57V191.98M358.66 180.03V186.06M359.78 176.13V180.92M360.53 174.69V181.84M361.28 174.48V180.25M361.66 175.94V183.86M362.03 177.93V181.40M363.16 175.89V182.36M363.53 180.51V186.28M364.28 180.98V188.82M364.66 183.12V186.87M365.03 184.63V188.84M365.78 182.82V186.58M366.16 183.51V188.24M368.41 177.95V182.91M370.66 170.69V177.02M373.28 165.03V173.59M373.66 169.10V172.38M374.41 168.91V176.63M374.78 171.04V174.96M377.41 162.61V170.19M377.78 167.78V176.11M378.16 169.99V176.49M378.53 171.36V180.00M378.91 173.75V181.70M379.28 177.96V184.06M379.66 178.34V183.53M380.03 180.45V187.00M380.41 182.68V189.40M380.78 186.14V191.16M381.16 188.80V194.64M381.53 189.84V194.90M387.16 143.21V148.25M387.53 142.64V148.50M387.91 144.10V148.53M388.28 144.68V149.54M389.03 146.32V151.11M391.28 137.40V142.52M392.03 138.48V141.62M392.41 139.35V146.54M392.78 140.58V144.05M393.16 141.48V147.73M394.66 134.42V140.84M395.03 134.83V140.06M395.78 131.65V136.50M396.16 134.39V140.14M396.53 134.72V138.84M396.91 135.55V141.43M397.66 133.92V137.99M399.16 130.55V133.31M399.91 129.18V135.44M401.03 128.34V134.69M408.91 76.77V83.66M409.28 81.69V87.97M409.66 84.45V91.75M410.03 85.71V94.14M410.41 91.64V102.82M410.78 98.74V106.29M411.16 103.08V114.83M411.53 111.40V121.39M411.91 114.60V120.70M412.28 115.50V122.55M416.03 91.54V94.82M416.41 92.67V96.50M416.78 92.87V99.80M417.16 94.22V100.37M417.53 95.16V101.08M418.28 96.39V100.82M418.66 97.18V103.53M419.03 98.21V105.01M419.41 101.19V108.82M419.78 105.09V113.53M420.16 108.81V115.31M420.53 110.33V117.52M420.91 113.31V119.67M421.28 117.24V122.42M421.66 119.05V125.08M422.03 123.51V128.12M422.41 125.88V134.38M422.78 129.19V138.53M423.16 132.85V137.49M423.53 135.54V140.60M423.91 138.04V142.23M424.28 139.92V144.62M424.66 141.91V149.30M425.03 146.03V152.11M426.53 140.41V146.11M426.91 140.86V148.59M427.28 146.02V153.77M427.66 148.27V155.79M428.03 152.53V162.48M428.41 159.56V168.09M428.78 165.51V172.41M429.16 169.30V176.86M429.53 171.10V177.16M431.78 155.17V159.90M433.28 153.35V158.93M433.66 154.47V160.07M434.03 157.81V164.09M434.41 158.41V165.92M434.78 160.50V163.84M435.16 160.88V166.74M435.53 162.96V165.83M435.91 163.53V167.95M436.28 165.54V171.54M436.66 169.36V174.05M437.03 170.85V177.53M437.41 175.32V181.67M437.78 179.20V185.55M438.16 183.25V191.66M438.53 186.07V194.02M444.53 158.39V165.31M444.91 162.63V165.90M445.28 163.25V167.14M445.66 164.43V171.49M446.03 166.25V169.90M446.41 167.15V170.55M446.78 169.01V172.85M447.16 169.68V177.00M447.91 171.37V175.51M448.28 172.37V176.69M449.78 171.17V175.71M450.16 171.42V176.45M450.53 173.99V182.09M450.91 176.33V182.14M451.66 178.73V185.73M452.03 181.43V186.16M452.41 184.02V192.48M452.78 187.63V191.11M453.16 189.24V193.84M453.53 191.98V198.37M454.28 195.62V199.79M454.66 197.18V200.35M455.03 198.03V201.93M455.41 198.84V205.52M455.78 199.08V205.30M457.28 197.06V204.97M457.66 201.24V206.75M458.03 204.36V212.22M458.41 206.85V213.92M462.16 190.51V194.67M462.53 190.40V195.09M462.91 192.16V194.68M463.66 192.33V196.48M464.41 194.20V199.64M464.78 196.54V201.90M465.53 197.90V205.53M465.91 200.55V204.24M466.66 197.96V202.11M467.41 199.66V202.67M473.78 175.23V181.15M475.28 172.95V176.82M477.91 164.58V168.79M479.03 162.50V167.59M479.78 163.55V168.06M483.91 152.86V159.10M484.28 156.78V160.89M485.03 155.65V160.48M485.41 157.00V161.12M485.78 157.68V162.84M486.53 159.47V164.21M487.28 160.99V166.49M488.03 162.30V167.02M489.16 161.53V168.10M489.53 163.69V167.70M489.91 165.17V169.36M491.78 158.60V161.72M492.16 160.00V163.65M492.53 160.84V167.73M492.91 163.94V170.18M493.28 166.34V170.65M493.66 166.79V174.08M494.03 170.05V174.37M494.41 170.65V176.50M496.28 166.19V171.72M499.28 159.06V165.40M500.03 159.53V162.17M501.16 154.36V157.78M501.53 155.09V159.62M502.66 153.56V158.91M503.03 155.06V159.78M503.41 157.92V163.32M504.16 157.67V161.47M504.53 157.65V164.74M505.66 157.57V162.81M506.03 160.01V163.93M506.41 160.58V165.79M506.78 162.41V166.15M507.53 163.93V168.67M507.91 164.57V170.28M508.28 163.84V167.61M508.66 164.75V171.64M509.41 163.84V166.83M510.91 161.67V165.79M512.41 155.60V161.38M512.78 155.82V159.03M515.03 153.63V158.88M516.16 154.74V156.88M516.53 154.52V160.31M516.91 154.11V159.78M517.28 156.48V161.08M518.03 156.58V162.00M520.28 152.39V157.53M521.41 148.26V155.56M522.16 148.33V151.69M524.03 148.23V155.96M524.41 148.72V155.14M527.03 145.95V149.87M527.78 146.96V151.29M528.16 147.61V150.95M528.91 147.54V156.14M529.28 150.64V158.99M529.66 154.53V157.65M530.78 151.97V157.99M531.16 154.51V162.56M531.53 157.82V161.17M531.91 158.62V162.44M532.28 159.95V165.90M536.78 147.67V152.20M537.53 147.93V150.69M538.28 144.81V149.72M538.66 145.65V149.51M539.03 146.37V149.54M540.53 143.87V146.12M540.91 144.41V147.00M542.03 142.70V146.13M542.78 143.55V148.77M543.53 142.82V147.93M545.03 142.55V147.22M545.78 142.13V148.25M546.16 142.97V147.45M546.53 143.31V148.62M548.03 138.95V141.31M548.78 139.25V144.66M549.53 138.54V144.56M551.03 135.22V140.80M552.16 135.00V138.04M552.53 135.44V141.56M552.91 136.55V142.47M553.28 138.14V141.51M553.66 137.85V144.36M557.03 130.54V136.43M557.78 132.70V139.71M558.16 134.78V137.76M558.91 134.55V142.08M559.66 135.46V139.21M560.41 137.12V142.36M561.16 139.58V146.51M561.53 142.90V151.47M561.91 145.52V150.32M562.28 145.58V149.29M562.66 147.12V153.94M565.28 147.18V153.64M566.41 145.23V151.56M567.16 141.93V145.90M567.53 143.79V148.11M568.66 141.03V146.47M569.41 142.05V149.94M570.16 143.90V152.21M570.53 145.41V152.01M572.03 144.25V147.92M572.78 143.02V149.24M573.16 143.38V147.99M573.53 144.79V150.77M573.91 146.10V149.28M574.28 146.27V153.79M574.66 150.31V158.85M575.03 153.20V163.22M575.41 159.53V169.64M575.78 164.16V175.78M576.16 171.13V178.48M576.53 174.23V183.58M576.91 181.03V193.49M577.28 190.44V196.33M579.53 179.64V185.75M580.28 181.47V187.35M580.66 181.60V187.24M581.03 181.44V186.03M581.41 182.40V191.09M581.78 187.84V192.65M582.16 189.32V194.39M582.53 191.35V195.27M582.91 192.78V200.47M583.28 194.75V203.18M586.28 178.02V180.76M592.28 158.13V161.11M593.78 156.36V159.21M594.53 156.01V162.61M595.66 152.60V160.59M596.03 155.91V162.38M596.41 156.58V160.22M597.16 155.18V159.87M600.16 147.65V154.71M602.41 145.40V152.47M605.41 142.54V148.07M606.16 142.41V150.50M606.53 144.41V151.62M606.91 146.56V154.50M607.66 148.70V154.22M608.03 150.02V155.16M608.41 151.33V155.60M608.78 152.79V156.86M609.53 154.45V160.77M610.66 154.03V158.34M612.91 150.77V154.58M615.16 143.03V146.72M618.16 136.87V141.98M618.91 136.70V140.10M622.66 129.89V134.73M624.16 128.53V130.89M626.03 125.05V131.33M626.41 128.08V134.20M626.78 128.64V134.87M627.91 130.40V137.80M628.66 131.70V138.66M629.03 133.67V136.21M629.41 132.88V139.31M629.78 135.19V141.10M630.16 137.98V147.39M630.53 141.45V148.10M630.91 144.00V149.46M631.28 145.30V151.04M632.03 145.81V152.86M632.78 145.84V151.66M633.16 148.75V153.58M635.78 137.68V142.26M636.16 138.69V145.77M637.66 137.02V141.98M639.53 130.82V134.41M639.91 131.48V135.86M641.78 125.10V129.05M642.53 124.55V127.68M643.66 121.11V125.92M644.03 123.22V125.55M644.41 123.84V130.59M644.78 125.69V129.55M645.53 126.12V131.68M645.91 128.87V134.50M646.66 129.21V138.04M647.03 133.07V136.15M648.91 126.29V132.36M650.41 121.20V125.42M650.78 122.89V126.14M651.91 119.89V123.07M652.28 119.80V126.33M652.66 122.25V125.10M653.78 121.44V125.53M654.16 123.16V126.37M654.53 123.38V130.36M654.91 125.35V128.90M655.28 125.84V132.91M655.66 128.86V131.80M656.41 128.07V133.93M658.66 121.22V128.57M659.78 119.70V123.69M661.28 119.58V123.37M662.03 117.83V124.79M662.78 116.85V119.59M664.66 113.65V120.46M667.66 108.59V114.61M669.91 106.10V112.24M670.66 104.25V109.03M671.41 103.86V110.30M672.16 100.84V104.69M672.53 101.22V104.62M675.53 94.03V100.32M677.41 93.92V100.31M677.78 95.50V102.31M678.53 95.53V98.13M679.66 91.25V97.69M680.03 93.47V99.18M680.41 93.78V99.74M680.78 94.56V100.90M681.16 95.75V104.59M682.28 98.18V100.52M683.03 98.64V103.90M683.41 99.04V102.06M686.41 86.80V93.04M686.78 90.20V91.89M687.91 86.90V89.38M689.41 86.05V89.83M689.78 87.61V93.26M690.53 88.11V93.51M691.28 87.59V92.17M691.66 89.59V96.31M692.03 90.50V96.31M692.41 91.56V98.47M693.91 88.33V93.66M695.03 87.25V90.61M696.16 83.22V86.98M696.53 84.07V90.00M696.91 83.45V88.94M697.28 85.99V89.53M698.78 82.94V86.48M702.16 77.35V82.97M702.53 78.03V85.74M703.28 79.14V82.04M704.03 78.66V82.23M705.16 78.43V83.64M705.53 77.08V81.92M706.28 76.72V80.27M706.66 78.31V81.42M707.03 78.94V81.69M707.41 79.90V82.76M708.53 79.06V86.08M708.91 80.79V85.96M709.28 84.17V90.09M709.66 87.14V90.81M710.78 83.25V89.44M714.16 76.61V80.90M714.53 76.72V79.86M714.91 77.13V84.20M715.66 77.80V82.83M716.03 79.95V86.72M716.41 82.75V87.43M716.78 83.95V87.50M717.16 84.93V93.23M717.53 88.29V95.30M717.91 91.29V98.80M722.41 79.91V85.18M722.78 80.15V85.65M723.91 80.15V85.13M724.66 82.74V86.63M725.03 82.60V86.65M727.66 75.89V80.38M729.16 75.23V81.65M729.91 73.75V81.51M730.66 74.94V78.57M731.03 75.33V83.86M731.78 76.94V79.71M732.53 75.86V81.99M732.91 76.93V80.95M734.41 73.16V78.32M736.28 67.89V75.71M737.03 67.83V71.88M737.41 69.05V71.28M740.41 63.61V66.39M742.28 62.08V66.87M744.16 57.64V64.73M745.66 57.30V60.39M746.41 56.46V60.13M747.16 55.37V61.67M748.28 55.08V61.34M749.03 54.85V60.61M750.91 51.29V57.15M751.28 53.34V56.48M752.41 51.17V56.60M753.53 47.24V50.51M755.03 44.69V48.92M756.53 42.59V48.82M757.28 42.12V47.65M757.66 45.57V50.71M758.41 45.76V49.89M759.16 42.84V49.53M759.91 44.41V51.62M760.66 44.28V50.49M761.03 44.44V48.56M763.28 39.03V44.53M763.66 40.19V44.88M764.41 40.05V46.18M765.16 38.82V42.24M765.91 37.99V40.99M766.66 36.32V39.12M769.28 32.57V38.12M769.66 34.73V42.28M770.03 35.96V42.24M770.41 37.66V41.84M770.78 39.31V43.98" stroke="#e0002a" stroke-width="0.9" fill="none"/>
<path d="M17.41 388.27V391.58M21.16 409.01V413.64M21.54 407.35V412.49M21.91 403.85V410.50M22.29 402.92V407.20M22.66 400.10V406.25M23.04 399.75V405.30M23.41 395.14V404.03M23.79 394.98V400.33M24.16 393.20V398.17M24.54 392.59V397.10M24.91 392.65V396.38M25.29 390.53V394.88M25.66 391.23V394.59M26.04 387.96V394.07M26.41 387.18V391.34M26.79 385.70V389.73M27.16 383.51V389.17M27.91 381.73V387.50M28.29 381.36V384.58M28.66 378.70V384.29M29.04 376.47V381.71M29.41 373.85V379.24M29.79 374.41V377.21M30.54 373.61V377.79M30.91 372.25V377.36M31.29 370.86V375.53M31.66 370.63V373.95M32.41 370.37V374.34M32.78 369.41V372.71M33.16 368.48V372.39M33.53 366.65V373.01M34.66 368.04V373.12M35.78 368.03V371.98M36.53 370.82V373.32M36.91 369.40V373.77M38.78 370.97V376.32M39.16 370.29V374.75M39.53 367.80V374.14M40.28 367.26V371.90M40.66 364.55V369.46M41.03 363.96V368.52M41.41 363.52V366.24M41.78 362.95V367.00M42.53 360.80V367.15M42.91 359.70V363.97M44.03 362.59V365.13M44.41 359.98V365.52M44.78 357.34V362.61M49.66 375.10V381.47M50.41 376.37V380.15M50.78 373.91V378.89M51.16 370.03V377.19M51.53 370.98V373.64M52.28 369.98V373.98M53.41 369.14V374.23M54.53 372.41V376.43M56.41 377.17V380.98M57.91 381.18V384.13M59.03 383.69V386.92M59.41 380.90V386.95M59.78 379.83V384.23M60.16 379.39V382.38M60.53 378.28V382.23M61.28 376.62V381.47M62.03 377.69V381.08M62.41 377.37V379.65M65.41 384.95V387.90M67.28 385.63V392.30M67.66 385.33V391.14M68.03 384.14V389.91M68.41 381.00V387.65M68.78 376.50V383.80M69.16 373.09V379.19M69.53 370.63V376.97M69.91 367.38V374.23M70.28 363.33V369.18M70.66 363.21V367.37M71.03 359.27V367.23M71.41 357.74V361.72M72.16 357.52V361.36M72.53 356.30V361.40M72.91 355.45V359.30M73.28 355.31V357.69M73.66 355.31V358.31M74.03 353.83V356.85M74.78 352.80V358.49M75.16 351.62V356.57M75.53 350.46V353.88M75.91 348.94V353.78M76.28 348.95V351.78M76.66 343.67V351.02M77.78 342.89V349.09M78.16 343.99V346.88M78.91 342.88V346.61M79.28 341.85V346.40M79.66 336.64V345.42M80.03 337.71V341.57M80.41 336.33V340.50M80.78 336.77V338.74M81.16 335.45V338.36M81.53 330.83V337.74M82.28 327.15V334.22M83.03 326.92V331.32M84.16 327.65V331.12M86.78 332.69V335.92M87.53 334.51V339.23M88.28 335.90V339.79M90.16 338.40V343.10M90.53 337.96V341.59M91.28 338.19V342.04M91.66 336.80V342.17M92.03 336.99V341.66M93.53 336.87V342.80M93.91 338.16V341.28M94.28 337.43V340.17M96.53 348.45V352.99M96.91 346.72V352.04M97.66 348.95V353.00M98.03 348.89V353.01M99.53 351.23V355.74M101.03 354.90V359.62M101.41 352.48V358.03M102.16 354.70V359.58M103.28 357.88V360.85M103.66 354.97V360.92M104.41 354.27V358.37M105.16 354.16V358.85M105.53 351.11V356.63M105.91 350.16V354.98M106.28 348.71V353.21M106.66 350.64V353.43M107.41 351.20V354.74M108.91 351.10V355.92M109.66 349.68V355.11M110.03 348.88V352.74M110.41 348.67V352.60M111.16 348.09V353.51M112.66 351.13V354.07M113.78 348.28V355.45M114.16 344.59V350.48M114.53 342.50V347.42M114.91 338.79V345.73M115.28 336.29V343.22M115.66 337.51V341.21M116.41 336.74V341.34M116.78 336.18V339.77M117.91 338.82V342.17M118.66 338.30V341.51M119.03 337.39V341.79M119.41 335.94V339.96M120.53 335.77V340.72M120.91 335.31V340.99M121.28 336.11V338.49M121.66 334.68V338.05M122.41 334.13V336.97M123.16 330.97V336.92M123.91 331.32V335.50M124.28 329.28V335.21M125.41 331.89V337.14M126.53 335.95V337.91M128.03 337.39V341.04M128.78 339.25V342.25M129.16 337.65V341.50M129.53 332.13V339.62M130.66 331.19V338.43M131.03 330.03V335.49M131.78 326.95V334.25M132.16 327.27V330.30M132.91 324.56V330.73M133.28 324.49V328.23M134.03 322.75V326.94M134.41 321.37V325.22M134.78 318.56V323.88M135.16 318.29V324.02M135.53 315.44V321.74M135.91 315.32V320.80M136.28 317.11V319.09M136.66 314.67V319.62M137.03 314.53V317.91M137.41 311.50V316.64M137.78 309.01V315.18M138.53 310.06V314.37M138.91 307.44V312.97M139.28 308.65V311.83M140.03 310.17V313.67M140.41 309.34V313.88M140.78 306.71V312.64M142.28 308.25V311.90M143.41 307.29V313.77M145.66 318.10V323.32M146.78 318.22V320.85M147.16 315.13V321.20M147.53 315.77V320.16M148.66 316.61V320.65M149.03 315.89V319.74M150.53 320.95V323.82M150.91 318.43V323.41M151.28 319.08V322.19M151.66 316.60V321.16M152.03 315.99V318.86M152.78 315.37V319.25M153.16 312.05V318.69M153.53 311.39V315.58M153.91 308.24V314.16M154.28 307.80V312.61M154.66 305.78V310.15M155.03 304.50V308.84M155.41 302.36V307.09M155.78 301.47V305.16M156.16 300.63V305.46M156.53 300.76V304.99M156.91 300.94V302.57M159.16 302.57V306.48M159.53 301.96V306.24M160.66 305.40V307.72M161.03 302.63V308.67M161.41 303.08V307.07M161.78 302.35V305.99M162.16 298.66V305.14M162.91 297.95V302.56M163.66 296.45V302.90M164.03 295.38V299.93M165.16 295.80V300.89M165.53 295.42V299.30M165.91 295.74V297.51M169.66 336.30V339.56M170.03 334.42V339.53M170.41 333.86V337.49M170.78 330.97V336.53M171.16 328.06V333.60M171.53 324.58V329.44M171.91 323.30V328.83M172.28 321.99V326.46M172.66 321.01V326.17M173.41 319.42V323.61M173.78 317.43V322.11M174.16 315.56V320.53M174.91 314.31V320.79M175.28 314.55V317.18M175.66 312.45V318.18M176.03 313.69V317.02M176.41 309.38V316.75M178.28 311.46V317.70M179.03 314.63V316.57M179.41 314.04V317.07M179.78 312.35V316.85M180.16 311.05V316.07M180.53 310.78V315.05M180.91 310.16V314.75M181.28 308.96V312.52M182.03 309.05V311.55M182.78 308.10V311.40M184.28 311.18V315.16M184.66 310.54V314.19M185.03 309.37V314.40M185.78 311.11V316.66M186.53 311.23V316.43M187.28 310.22V315.15M188.41 311.62V317.23M189.53 309.90V317.99M189.91 309.28V314.47M190.28 308.59V313.16M190.66 308.27V311.13M191.03 307.86V312.37M192.53 308.63V311.33M193.28 308.57V311.77M193.66 305.65V312.09M194.03 305.95V309.03M194.41 302.38V308.02M194.78 302.81V306.63M195.53 303.60V307.34M195.91 303.91V305.97M196.28 301.29V305.97M196.66 300.22V303.27M197.41 298.72V302.69M197.78 298.45V302.79M198.16 298.79V302.02M198.53 296.73V301.39M199.28 296.77V299.88M199.66 294.39V300.18M200.03 294.52V298.42M200.41 293.51V297.09M200.78 291.35V297.77M201.91 291.76V296.15M203.03 291.78V296.49M203.78 292.00V294.94M204.91 289.64V296.03M205.28 289.85V294.64M207.16 294.02V296.08M207.53 292.26V296.96M208.28 294.23V296.12M208.66 293.14V296.58M210.53 295.02V300.28M211.28 300.32V303.64M212.03 300.82V303.45M212.78 297.93V305.99M213.16 299.64V301.93M214.66 302.04V305.31M215.41 300.98V305.54M216.16 301.09V305.24M216.53 299.85V304.37M217.28 300.22V305.03M218.03 298.26V304.10M218.41 297.58V302.13M219.16 296.82V301.81M219.53 296.23V300.42M220.28 295.12V298.37M220.66 293.87V297.79M225.91 323.52V326.60M227.03 320.99V326.31M227.41 319.96V325.01M227.78 319.86V323.83M228.16 317.51V322.90M228.53 318.28V322.52M228.91 316.65V321.03M229.28 316.86V320.92M229.66 311.86V318.25M230.03 312.15V316.01M230.41 308.00V315.31M230.78 306.46V310.35M231.16 300.38V308.46M231.53 300.20V305.18M231.91 295.48V301.65M232.66 293.22V298.82M233.03 288.95V298.47M233.41 287.12V294.14M233.78 284.89V291.67M234.53 286.80V291.08M234.91 286.07V289.99M235.28 285.62V289.66M236.03 285.20V289.18M236.78 285.72V289.38M238.28 287.30V291.08M238.66 286.57V289.81M239.41 285.54V290.31M240.16 287.63V290.74M240.53 284.53V291.00M240.91 284.62V289.00M241.28 284.07V288.48M241.66 282.23V286.11M242.03 282.27V286.61M242.78 283.15V286.81M243.16 282.94V286.06M243.91 281.06V287.71M244.28 280.81V284.92M245.03 278.22V285.68M245.41 278.43V282.59M246.91 279.14V284.50M247.66 278.84V283.57M248.03 278.53V282.48M248.41 273.80V282.39M248.78 273.67V278.64M249.16 271.79V276.01M249.53 270.36V274.12M249.91 268.51V273.31M250.66 266.64V270.80M251.03 266.80V268.69M251.41 266.51V268.94M251.78 266.71V268.75M252.53 265.38V270.50M252.91 263.99V269.38M255.16 271.22V275.32M256.28 273.81V277.08M256.66 272.60V276.29M257.03 274.04V276.27M257.78 273.27V278.02M258.53 274.09V278.59M259.66 273.38V278.80M260.78 272.79V279.35M261.53 274.93V277.75M262.28 274.71V278.43M262.66 273.10V277.89M263.03 273.81V277.20M263.78 272.47V278.28M264.16 271.08V276.91M264.53 271.20V274.86M264.91 269.65V273.07M266.03 268.15V273.34M266.41 266.99V271.64M267.16 264.35V270.93M267.53 261.86V267.56M267.91 262.16V264.46M268.28 260.66V264.56M268.66 258.35V264.72M269.03 257.22V261.19M269.78 255.74V261.25M270.16 253.32V260.33M272.41 259.59V262.88M273.53 260.09V264.44M274.28 261.02V264.03M275.78 260.68V264.81M276.16 259.37V263.77M276.53 258.69V263.14M276.91 257.07V262.60M277.66 257.32V260.18M278.41 254.64V260.03M278.78 253.38V258.74M279.91 256.57V258.70M280.66 255.97V259.52M281.03 253.78V257.81M281.41 255.06V257.63M281.78 252.43V257.91M282.16 249.80V254.91M282.53 249.72V253.62M283.28 250.29V254.22M283.66 250.93V254.06M284.03 246.93V252.85M285.16 248.60V253.50M285.91 247.87V253.76M286.28 246.86V250.51M286.66 246.04V250.04M287.41 245.18V251.51M287.78 242.77V249.24M289.66 246.41V252.39M290.03 246.76V250.22M290.78 245.94V250.20M291.53 244.53V249.56M291.91 242.36V247.26M292.28 241.41V246.84M294.16 253.33V256.43M294.53 253.03V255.11M294.91 251.41V255.10M295.28 251.48V254.62M297.16 255.96V258.75M298.28 255.99V259.08M298.66 255.89V258.06M299.03 253.77V259.13M299.41 253.12V257.67M300.16 252.45V256.24M300.53 251.03V255.64M301.28 251.02V254.76M301.66 247.74V253.34M302.41 248.78V253.41M303.16 249.95V252.62M303.53 248.43V251.96M303.91 244.99V252.52M304.66 250.40V253.30M305.03 249.78V252.39M306.53 251.81V254.87M307.28 250.63V255.78M308.78 250.96V255.52M309.16 249.56V254.17M309.91 249.00V253.59M310.28 249.91V252.39M311.03 247.09V252.97M311.41 248.04V250.95M311.78 245.56V251.12M312.16 244.60V247.78M312.53 242.72V246.88M312.91 241.48V246.75M314.03 240.93V247.32M314.41 238.03V243.92M314.78 236.06V240.87M315.16 235.07V241.76M315.53 235.50V239.39M315.91 235.37V238.64M316.28 232.93V237.84M316.66 232.43V235.57M317.03 227.66V234.25M317.78 226.30V231.46M318.16 224.79V228.73M318.53 224.36V228.80M318.91 223.69V227.25M319.66 221.83V226.75M320.03 221.79V225.78M321.16 220.72V225.94M321.53 222.23V224.36M322.28 221.21V225.75M322.66 216.81V223.96M323.78 220.10V226.79M325.66 221.70V225.87M326.03 221.70V224.65M327.16 220.68V226.12M327.53 221.28V224.49M327.91 221.82V224.69M328.28 218.59V224.45M328.66 218.53V222.46M329.03 218.94V222.04M329.41 218.17V221.27M329.78 217.30V221.44M330.16 215.60V219.63M330.53 214.50V217.99M330.91 213.69V217.43M331.28 212.81V217.08M331.66 212.55V216.60M332.03 212.18V216.00M332.41 213.56V216.64M332.78 213.26V216.18M333.16 209.65V214.94M333.53 207.33V212.52M333.91 204.27V209.91M334.66 206.54V210.08M335.78 207.01V212.26M338.03 217.24V222.63M338.78 216.60V220.51M339.16 213.17V219.85M339.53 213.91V218.60M339.91 213.00V216.51M340.28 210.26V217.02M340.66 210.84V213.73M341.03 207.66V213.92M341.41 207.43V212.08M341.78 206.03V211.31M342.16 204.87V208.04M342.91 205.75V209.90M343.28 204.02V208.38M343.66 200.56V206.47M344.03 199.57V203.46M345.16 200.95V203.80M345.53 200.54V203.62M345.91 200.32V203.60M346.66 198.41V203.95M347.03 197.11V202.05M347.78 195.21V200.71M348.16 194.46V199.90M350.03 198.97V203.90M351.16 203.11V206.47M352.28 204.21V208.56M352.66 203.96V206.65M353.03 202.54V207.07M353.41 199.99V205.89M353.78 195.69V203.15M354.16 193.99V200.84M354.91 192.41V199.35M355.28 192.47V196.06M355.66 186.61V195.61M356.03 187.46V191.59M356.78 183.40V191.75M357.16 181.36V186.25M357.53 181.36V185.38M357.91 180.57V185.45M358.28 179.42V183.75M359.03 179.38V183.74M359.41 177.09V182.94M360.16 173.40V180.55M360.91 175.47V178.77M362.41 177.23V181.54M362.78 176.37V179.10M363.91 180.41V185.39M365.41 181.39V188.66M366.53 184.27V187.65M366.91 181.20V186.29M367.28 178.75V185.74M367.66 179.00V181.75M368.03 178.21V181.43M368.78 175.88V181.59M369.16 174.10V178.17M369.53 171.25V176.44M369.91 173.45V176.77M370.28 170.45V175.51M371.03 170.08V174.53M371.41 169.99V172.65M371.78 168.26V171.65M372.16 166.51V171.51M372.53 168.16V170.77M372.91 166.38V169.52M374.03 168.31V172.06M375.16 170.16V176.00M375.53 167.12V173.59M375.91 164.98V170.73M376.28 163.72V169.03M376.66 164.30V167.32M377.03 162.14V166.13M381.91 183.71V193.23M382.28 179.72V186.67M382.66 172.77V182.43M383.03 170.12V175.70M383.41 167.85V172.84M383.78 163.83V171.13M384.16 159.13V166.95M384.53 156.52V161.76M384.91 154.07V159.78M385.28 149.71V156.28M385.66 146.73V152.41M386.03 144.38V149.51M386.41 144.65V149.63M386.78 142.46V147.55M388.66 145.92V148.60M389.41 143.73V148.57M389.78 140.19V147.11M390.16 141.16V144.83M390.53 137.87V143.67M390.91 137.61V139.85M391.66 138.21V141.15M393.53 137.77V146.56M393.91 137.63V140.43M394.28 133.91V139.66M395.41 131.62V139.36M397.28 132.80V139.30M398.03 133.98V136.35M398.41 131.96V136.20M398.78 129.64V134.77M399.53 130.04V133.91M400.28 128.27V133.08M400.66 128.61V132.57M401.41 128.11V132.15M401.78 124.67V130.57M402.16 121.54V128.84M402.53 119.70V125.21M402.91 116.67V121.93M403.28 115.10V119.66M403.66 112.30V117.49M404.03 109.66V114.99M404.41 105.97V113.67M404.78 100.96V109.39M405.16 100.27V104.74M405.53 100.32V103.61M405.91 97.70V103.50M406.28 94.80V101.03M406.66 91.14V98.73M407.03 87.08V93.71M407.41 85.13V90.95M407.78 80.54V89.02M408.16 76.94V85.08M408.53 76.21V80.10M412.66 115.50V121.85M413.03 112.24V119.51M413.41 108.01V115.85M413.78 103.00V110.96M414.16 100.89V106.14M414.53 98.46V104.90M414.91 92.53V100.88M415.28 91.59V97.79M415.66 92.30V94.64M417.91 94.69V98.85M425.41 144.51V150.31M425.78 141.80V146.69M426.16 140.09V144.79M429.91 166.78V174.29M430.28 162.04V171.08M430.66 160.66V164.82M431.03 156.19V162.43M431.41 153.28V159.75M432.16 153.93V158.12M432.53 153.25V157.20M432.91 151.27V156.21M438.91 189.61V192.76M439.28 185.66V192.84M439.66 182.29V189.81M440.03 175.94V184.13M440.41 174.12V178.83M440.78 171.97V178.35M441.16 169.42V173.98M441.53 164.70V172.01M441.91 163.00V167.22M442.28 161.14V166.04M442.66 159.33V163.91M443.03 159.30V163.16M443.41 159.93V164.00M443.78 159.85V163.51M444.16 158.33V163.27M447.53 171.89V174.73M448.66 173.73V177.33M449.03 171.40V176.94M449.41 170.96V174.33M451.28 178.80V180.96M453.91 195.51V198.80M456.16 200.31V204.38M456.53 197.01V203.57M456.91 197.10V201.64M458.78 208.96V214.15M459.16 207.69V213.04M459.53 204.23V210.72M459.91 199.40V206.78M460.28 196.66V201.25M460.66 195.77V199.69M461.03 194.05V198.89M461.41 190.38V197.66M461.78 190.45V192.79M463.28 192.21V195.26M464.03 193.00V196.06M465.16 196.09V201.25M466.28 198.80V204.65M467.03 198.26V203.59M467.78 195.50V202.74M468.16 193.73V197.59M468.53 193.29V196.95M468.91 191.23V195.70M469.28 189.10V194.45M469.66 187.74V193.56M470.03 185.33V192.49M470.41 182.95V188.29M470.78 181.10V186.41M471.16 181.14V183.75M471.53 178.26V183.71M471.91 178.31V181.54M472.28 178.70V182.07M472.66 177.17V180.83M473.03 175.05V180.73M473.41 175.39V178.75M474.16 173.63V179.25M474.53 172.01V178.86M474.91 172.38V176.79M475.66 170.83V176.18M476.03 170.83V173.91M476.41 170.67V173.63M476.78 168.48V173.71M477.16 168.16V170.05M477.53 164.49V169.92M478.28 164.20V168.27M478.66 162.09V167.61M479.41 163.31V166.57M480.16 163.40V167.78M480.53 163.07V166.34M480.91 162.67V164.65M481.28 160.88V165.19M481.66 161.74V163.57M482.03 157.45V163.49M482.41 159.31V162.99M482.78 158.04V163.25M483.16 157.41V160.42M483.53 153.78V160.72M484.66 154.87V159.03M486.16 158.17V162.51M486.91 161.54V164.09M487.66 160.48V166.48M488.41 163.24V166.32M488.78 162.32V165.76M490.28 163.87V167.92M490.66 161.60V167.39M491.03 159.89V165.47M491.41 159.14V161.79M494.78 172.08V174.90M495.16 170.48V174.47M495.53 169.18V174.95M495.91 166.70V172.30M496.66 166.08V170.85M497.03 165.62V169.81M497.41 163.65V169.32M497.78 162.71V165.04M498.16 162.59V165.54M498.53 159.92V164.61M498.91 159.51V161.90M499.66 159.35V162.80M500.41 156.75V162.75M500.78 155.62V159.66M501.91 155.85V158.68M502.28 154.34V158.80M503.78 157.37V161.05M504.91 158.13V162.17M505.28 157.19V162.11M507.16 163.15V165.85M509.03 162.76V167.81M509.78 163.13V166.54M510.16 162.63V165.88M510.53 160.17V164.71M511.28 159.03V163.85M511.66 157.09V162.22M512.03 154.85V160.95M513.16 155.36V158.92M513.53 155.72V158.98M513.91 154.34V158.17M514.28 154.61V157.32M514.66 152.03V156.58M515.41 154.70V157.42M515.78 154.79V157.86M517.66 156.29V160.93M518.41 157.37V162.35M518.78 155.74V161.02M519.16 151.71V159.45M519.53 152.67V156.89M519.91 151.05V155.03M520.66 150.78V154.71M521.03 146.25V154.76M521.78 148.05V152.69M522.53 146.45V151.71M522.91 145.52V150.46M523.28 145.86V150.85M523.66 146.67V149.53M524.78 147.69V152.35M525.16 147.94V151.37M525.53 146.18V150.96M525.91 145.96V149.19M526.28 145.08V148.82M526.66 143.61V148.16M527.41 148.40V151.23M528.53 148.51V151.38M530.03 153.62V157.74M530.41 152.13V157.49M532.66 160.63V163.89M533.03 158.60V163.68M533.41 159.58V162.39M533.78 158.55V161.70M534.16 155.76V161.75M534.53 154.66V157.49M534.91 151.62V157.07M535.28 152.39V155.53M535.66 151.32V154.19M536.03 148.79V155.21M536.41 147.54V151.77M537.16 148.17V152.34M537.91 145.33V150.95M539.41 145.07V150.84M539.78 143.02V147.87M540.16 142.86V147.15M541.28 143.13V147.36M541.66 141.97V146.32M542.41 141.41V145.97M543.16 143.45V146.49M543.91 143.41V146.82M544.28 142.17V147.33M544.66 142.60V144.59M545.41 141.19V146.39M546.91 143.30V146.66M547.28 139.55V146.34M547.66 136.87V143.21M548.41 138.26V141.86M549.16 138.40V143.07M549.91 138.70V142.32M550.28 136.21V140.84M550.66 134.04V138.67M551.41 135.39V138.41M551.78 135.10V137.41M554.03 137.99V141.44M554.41 136.01V140.96M554.78 133.26V139.71M555.16 133.39V138.37M555.53 132.81V137.90M555.91 133.06V136.49M556.28 132.34V135.19M556.66 131.86V135.06M557.41 131.99V136.21M558.53 135.70V138.30M559.28 134.75V140.47M560.03 136.88V140.33M560.78 138.76V142.09M563.03 149.15V153.94M563.41 151.40V153.18M563.78 149.81V154.15M564.16 148.12V152.18M564.53 148.60V152.25M564.91 147.40V151.39M565.66 146.33V152.04M566.03 144.90V148.52M566.78 142.13V148.21M567.91 141.08V148.03M568.28 141.50V145.72M569.03 142.37V145.09M569.78 143.00V147.31M570.91 147.57V150.98M571.28 147.13V149.61M571.66 143.21V150.17M572.41 143.08V147.28M577.66 191.25V197.32M578.03 189.57V194.97M578.41 184.03V191.43M578.78 180.56V187.80M579.16 179.51V184.74M579.91 181.23V184.36M583.66 197.48V203.25M584.03 193.11V200.16M584.41 190.39V196.45M584.78 186.74V194.27M585.16 184.49V189.32M585.53 178.30V186.60M585.91 177.97V182.83M586.66 176.34V181.01M587.03 174.44V178.28M587.41 171.93V177.59M587.78 170.91V174.49M588.16 171.46V173.48M588.53 169.30V174.58M588.91 166.28V173.65M589.28 167.56V170.95M589.66 166.80V171.08M590.03 165.45V169.95M590.41 163.92V168.66M590.78 162.71V167.02M591.16 160.67V164.89M591.53 160.08V163.80M591.91 157.73V164.09M592.66 158.24V161.04M593.03 155.75V160.62M593.41 155.03V158.29M594.16 155.64V159.51M594.91 154.17V159.19M595.28 154.10V156.72M596.78 155.99V161.01M597.53 156.11V158.68M597.91 154.48V158.62M598.28 153.55V158.39M598.66 153.92V155.78M599.03 151.44V156.82M599.41 148.84V152.76M599.78 148.81V152.66M600.53 149.82V153.77M600.91 148.12V151.58M601.28 146.14V150.75M601.66 147.51V150.84M602.03 145.99V151.09M602.78 146.12V148.88M603.16 144.16V147.80M603.53 144.33V148.73M603.91 143.29V146.63M604.28 142.86V146.39M604.66 142.01V146.14M605.03 141.76V145.69M605.78 141.46V146.12M607.28 147.37V152.89M609.16 153.15V157.07M609.91 155.86V159.00M610.28 154.09V157.07M611.03 153.98V158.34M611.41 153.69V158.43M611.78 153.59V158.01M612.16 151.76V157.84M612.53 150.87V155.95M613.28 148.37V154.08M613.66 148.82V152.98M614.03 147.39V152.81M614.41 144.77V151.40M614.78 142.05V146.96M615.53 140.85V146.39M615.91 141.07V144.43M616.28 139.85V143.66M616.66 138.22V143.42M617.03 137.66V141.15M617.41 138.10V139.90M617.78 135.31V140.66M618.53 134.41V140.92M619.28 137.19V140.71M619.66 136.53V139.89M620.03 134.34V139.75M620.41 133.28V138.30M620.78 132.07V136.99M621.16 132.03V135.67M621.53 130.61V134.57M621.91 131.10V133.96M622.28 130.02V134.91M623.03 131.69V135.88M623.41 130.44V133.77M623.78 126.37V132.77M624.53 128.68V131.45M624.91 126.28V130.70M625.28 126.23V130.09M625.66 125.86V130.34M627.16 130.56V134.90M627.53 130.74V132.92M628.28 132.49V135.55M631.66 144.26V149.67M632.41 146.07V150.69M633.53 148.43V151.49M633.91 142.33V150.66M634.28 143.18V146.49M634.66 139.40V146.86M635.03 138.82V142.86M635.41 137.47V141.40M636.53 138.33V144.43M636.91 137.72V141.56M637.28 138.43V141.87M638.03 137.60V141.68M638.41 135.19V141.73M638.78 131.27V137.11M639.16 130.66V133.85M640.28 130.46V135.63M640.66 125.47V133.58M641.03 126.37V130.87M641.41 124.30V129.06M642.16 121.57V128.03M642.91 123.03V128.58M643.28 119.67V125.45M645.16 126.59V129.35M646.28 129.71V133.81M647.41 132.55V136.20M647.78 129.23V135.41M648.16 128.16V132.17M648.53 127.22V130.18M649.28 124.57V129.67M649.66 123.45V127.42M650.03 121.37V126.08M651.16 120.05V125.68M651.53 119.83V123.90M653.03 121.93V125.62M653.41 122.31V123.99M656.03 126.05V132.23M656.78 128.41V132.86M657.16 126.95V132.21M657.53 124.34V130.31M657.91 122.42V128.92M658.28 122.68V126.20M659.03 122.21V127.00M659.41 119.30V124.54M660.16 120.77V123.20M660.53 120.85V122.84M660.91 120.12V122.69M661.66 118.79V123.06M662.41 116.69V121.88M663.16 117.06V119.81M663.53 115.60V119.35M663.91 115.73V118.45M664.28 113.16V118.40M665.03 114.52V118.00M665.41 112.70V117.46M665.78 110.69V115.85M666.16 109.44V113.74M666.53 109.63V112.20M666.91 108.83V112.28M667.28 108.26V111.31M668.03 110.53V114.08M668.41 109.57V113.77M668.78 106.24V111.82M669.16 105.26V109.70M669.53 104.94V109.33M670.28 103.89V108.09M671.03 104.35V109.27M671.78 100.38V108.30M672.91 102.68V105.24M673.28 102.51V105.28M673.66 100.71V105.32M674.03 100.16V104.25M674.41 97.18V103.65M674.78 97.76V100.33M675.16 94.26V100.59M675.91 97.24V100.19M676.28 95.82V100.03M676.66 94.15V98.43M677.03 93.10V96.89M678.16 93.97V100.21M678.91 92.81V98.42M679.28 92.19V96.18M681.53 97.42V102.70M681.91 96.66V99.84M682.66 98.43V101.81M683.78 95.64V102.36M684.16 93.62V98.74M684.53 92.96V97.81M684.91 93.88V97.08M685.28 90.90V95.87M685.66 87.85V93.09M686.03 87.42V92.73M687.16 88.74V92.72M687.53 85.17V92.15M688.28 86.66V90.66M688.66 85.65V89.31M689.03 86.25V88.93M690.16 88.67V91.87M690.91 88.34V91.23M692.78 90.63V95.17M693.16 90.87V95.41M693.53 89.73V94.29M694.28 89.39V94.17M694.66 86.60V90.68M695.41 88.03V91.23M695.78 83.08V89.65M697.66 84.98V88.56M698.03 83.45V89.22M698.41 83.28V86.47M699.16 84.26V85.59M699.53 80.23V86.95M699.91 81.21V83.68M700.28 79.73V83.49M700.66 79.80V83.70M701.03 79.76V82.73M701.41 78.51V82.06M701.78 76.37V82.18M702.91 78.09V82.59M703.66 78.90V82.23M704.41 79.88V82.39M704.78 77.83V82.59M705.91 76.53V81.61M707.78 79.91V82.81M708.16 78.80V82.34M710.03 87.28V90.60M710.41 82.73V89.86M711.16 83.75V88.13M711.53 80.84V86.52M711.91 81.11V83.72M712.28 79.07V83.93M712.66 78.50V81.63M713.03 77.19V81.57M713.41 74.05V80.42M713.78 75.37V79.75M715.28 78.03V81.26M718.28 90.65V94.97M718.66 89.98V94.69M719.03 88.24V92.08M719.41 86.75V90.13M719.78 86.83V89.24M720.16 84.20V89.64M720.53 80.43V88.40M720.91 82.94V86.26M721.28 81.82V86.10M721.66 79.22V85.44M722.03 79.51V83.25M723.16 80.73V85.08M723.53 80.66V83.11M724.28 82.67V85.21M725.41 84.23V86.98M725.78 80.78V87.21M726.16 81.07V83.89M726.53 79.46V84.35M726.91 78.75V82.29M727.28 76.34V80.40M728.03 74.86V79.61M728.41 73.09V77.64M728.78 73.31V76.71M729.53 74.08V78.18M730.28 75.21V79.14M731.41 75.90V80.57M732.16 73.63V79.84M733.28 75.92V80.41M733.66 72.21V80.10M734.03 73.31V77.55M734.78 73.80V76.33M735.16 71.97V77.02M735.53 68.66V75.08M735.91 66.20V72.84M736.66 68.07V72.04M737.78 68.43V72.25M738.16 67.70V70.69M738.53 64.43V70.36M738.91 62.59V67.21M739.28 62.32V65.81M739.66 62.77V66.22M740.03 63.14V65.70M740.78 62.36V65.86M741.16 62.37V65.77M741.53 62.28V65.73M741.91 61.41V65.68M742.66 61.47V65.22M743.03 59.87V64.14M743.41 58.53V62.59M743.78 57.37V61.94M744.53 58.84V62.17M744.91 56.45V62.26M745.28 56.01V59.19M746.03 56.35V58.92M746.78 56.10V59.75M747.53 56.16V58.90M747.91 53.55V59.47M748.66 56.10V59.14M749.41 54.38V58.80M749.78 55.11V58.23M750.16 51.54V58.26M750.53 49.82V55.56M751.66 51.59V55.59M752.03 51.07V55.53M752.78 48.49V54.73M753.16 45.69V50.47M753.91 47.73V51.11M754.28 45.94V52.03M754.66 43.87V49.56M755.41 45.32V48.66M755.78 43.45V48.36M756.16 41.66V46.62M756.91 41.08V47.19M758.03 44.71V50.16M758.78 41.41V48.52M759.53 43.26V47.51M760.28 44.51V48.18M761.41 43.56V48.95M761.78 43.39V46.73M762.16 41.55V46.43M762.53 40.55V44.68M762.91 39.45V44.08M764.03 39.99V42.64M764.78 40.01V44.05M765.53 38.41V43.71M766.28 35.57V41.19M767.03 36.23V39.26M767.41 34.79V39.37M767.78 34.25V37.71M768.16 33.97V36.99M768.53 33.41V36.46M768.91 33.46V37.48" stroke="#000" stroke-width="1" fill="none"/>
<path d="M27.91 396.12 L28.29 395.13 L28.66 393.97 L29.04 392.73 L29.41 391.49 L29.79 390.29 L30.16 389.20 L30.54 388.16 L30.91 387.09 L31.29 386.00 L31.66 384.95 L32.03 384.07 L32.41 383.11 L32.78 382.21 L33.16 381.36 L33.53 380.40 L33.91 379.54 L34.28 378.91 L34.66 378.16 L35.03 377.56 L35.41 377.07 L35.78 376.63 L36.16 376.32 L36.53 376.05 L36.91 375.70 L37.28 375.52 L37.66 375.41 L38.03 375.36 L38.41 375.37 L38.78 375.27 L39.16 375.07 L39.53 374.68 L39.91 374.34 L40.28 373.90 L40.66 373.41 L41.03 372.83 L41.41 372.23 L41.78 371.66 L42.16 371.24 L42.53 370.62 L42.91 369.96 L43.28 369.41 L43.66 369.01 L44.03 368.61 L44.41 368.08 L44.78 367.49 L45.16 367.17 L45.53 366.91 L45.91 366.68 L46.28 366.67 L46.66 366.80 L47.03 366.92 L47.41 367.08 L47.78 367.29 L48.16 367.68 L48.53 368.19 L48.91 368.85 L49.28 369.63 L49.66 370.21 L50.03 370.82 L50.41 371.32 L50.78 371.67 L51.16 371.70 L51.53 371.71 L51.91 371.82 L52.28 371.75 L52.66 371.74 L53.03 371.85 L53.41 371.83 L53.78 372.01 L54.16 372.22 L54.53 372.39 L54.91 372.60 L55.28 372.90 L55.66 373.21 L56.03 373.66 L56.41 374.03 L56.78 374.43 L57.16 374.97 L57.53 375.50 L57.91 375.98 L58.28 376.59 L58.66 377.30 L59.03 377.86 L59.41 378.18 L59.78 378.44 L60.16 378.61 L60.53 378.68 L60.91 378.81 L61.28 378.80 L61.66 378.91 L62.03 378.90 L62.41 378.88 L62.78 379.00 L63.16 379.26 L63.53 379.60 L63.91 379.95 L64.28 380.33 L64.66 380.73 L65.03 381.20 L65.41 381.63 L65.78 382.11 L66.16 382.63 L66.53 383.14 L66.91 383.68 L67.28 384.12 L67.66 384.48 L68.03 384.55 L68.41 384.33 L68.78 383.88 L69.16 383.21 L69.53 382.42 L69.91 381.38 L70.28 380.20 L70.66 379.09 L71.03 377.69 L71.41 376.31 L71.78 375.05 L72.16 373.88 L72.53 372.73 L72.91 371.56 L73.28 370.48 L73.66 369.42 L74.03 368.32 L74.41 367.45 L74.78 366.51 L75.16 365.49 L75.53 364.48 L75.91 363.45 L76.28 362.44 L76.66 361.24 L77.03 360.13 L77.41 359.19 L77.78 358.15 L78.16 357.15 L78.53 356.24 L78.91 355.36 L79.28 354.52 L79.66 353.45 L80.03 352.37 L80.41 351.29 L80.78 350.28 L81.16 349.29 L81.53 348.00 L81.91 346.86 L82.28 345.58 L82.66 344.43 L83.03 343.18 L83.41 342.06 L83.78 341.10 L84.16 340.16 L84.53 339.34 L84.91 338.69 L85.28 338.11 L85.66 337.61 L86.03 337.33 L86.41 337.16 L86.78 336.98 L87.16 337.09 L87.53 337.05 L87.91 337.13 L88.28 337.20 L88.66 337.31 L89.03 337.52 L89.41 337.74 L89.78 338.01 L90.16 338.12 L90.53 338.17 L90.91 338.37 L91.28 338.50 L91.66 338.61 L92.03 338.63 L92.41 338.83 L92.78 339.02 L93.16 339.25 L93.53 339.28 L93.91 339.30 L94.28 339.25 L94.66 339.45 L95.03 339.89 L95.41 340.31 L95.78 340.98 L96.16 341.71 L96.53 342.35 L96.91 342.80 L97.28 343.43 L97.66 344.00 L98.03 344.50 L98.41 345.05 L98.78 345.62 L99.16 346.28 L99.53 346.78 L99.91 347.38 L100.28 348.06 L100.66 348.75 L101.03 349.32 L101.41 349.79 L101.78 350.35 L102.16 350.88 L102.53 351.40 L102.91 352.00 L103.28 352.51 L103.66 352.81 L104.03 353.17 L104.41 353.37 L104.78 353.62 L105.16 353.78 L105.53 353.74 L105.91 353.61 L106.28 353.48 L106.66 353.32 L107.03 353.26 L107.41 353.15 L107.78 353.12 L108.16 353.17 L108.53 353.26 L108.91 353.20 L109.28 353.20 L109.66 353.03 L110.03 352.85 L110.41 352.63 L110.78 352.63 L111.16 352.56 L111.53 352.56 L111.91 352.58 L112.28 352.62 L112.66 352.63 L113.03 352.66 L113.41 352.69 L113.78 352.44 L114.16 351.99 L114.53 351.38 L114.91 350.63 L115.28 349.77 L115.66 348.96 L116.03 348.32 L116.41 347.56 L116.78 346.86 L117.16 346.33 L117.53 345.88 L117.91 345.43 L118.28 345.08 L118.66 344.73 L119.03 344.31 L119.41 343.85 L119.78 343.46 L120.16 343.21 L120.53 342.88 L120.91 342.49 L121.28 342.08 L121.66 341.58 L122.03 341.17 L122.41 340.69 L122.78 340.32 L123.16 339.76 L123.53 339.34 L123.91 338.90 L124.28 338.38 L124.66 338.10 L125.03 337.89 L125.41 337.61 L125.78 337.43 L126.16 337.41 L126.53 337.40 L126.91 337.50 L127.28 337.64 L127.66 337.80 L128.03 337.94 L128.41 338.14 L128.78 338.26 L129.16 338.30 L129.53 338.05 L129.91 337.89 L130.28 337.76 L130.66 337.48 L131.03 337.08 L131.41 336.78 L131.78 336.19 L132.16 335.62 L132.53 335.19 L132.91 334.51 L133.28 333.85 L133.66 333.28 L134.03 332.57 L134.41 331.85 L134.78 331.14 L135.16 330.29 L135.53 329.44 L135.91 328.62 L136.28 327.84 L136.66 327.01 L137.03 326.14 L137.41 325.19 L137.78 324.26 L138.16 323.43 L138.53 322.61 L138.91 321.72 L139.28 320.83 L139.66 320.23 L140.03 319.64 L140.41 319.02 L140.78 318.16 L141.16 317.47 L141.53 316.86 L141.91 316.40 L142.28 315.93 L142.66 315.51 L143.03 315.24 L143.41 314.92 L143.78 314.89 L144.16 314.97 L144.53 315.05 L144.91 315.35 L145.28 315.80 L145.66 316.08 L146.03 316.36 L146.41 316.64 L146.78 316.87 L147.16 317.00 L147.53 317.00 L147.91 317.18 L148.28 317.36 L148.66 317.38 L149.03 317.35 L149.41 317.55 L149.78 317.80 L150.16 318.14 L150.53 318.44 L150.91 318.56 L151.28 318.67 L151.66 318.57 L152.03 318.47 L152.41 318.41 L152.78 318.33 L153.16 318.03 L153.53 317.59 L153.91 317.06 L154.28 316.44 L154.66 315.80 L155.03 315.09 L155.41 314.30 L155.78 313.55 L156.16 312.75 L156.53 311.94 L156.91 311.20 L157.28 310.58 L157.66 310.05 L158.03 309.62 L158.41 309.24 L158.78 308.92 L159.16 308.63 L159.53 308.27 L159.91 308.04 L160.28 307.93 L160.66 307.82 L161.03 307.65 L161.41 307.46 L161.78 307.14 L162.16 306.67 L162.53 306.28 L162.91 305.82 L163.28 305.47 L163.66 305.01 L164.03 304.38 L164.41 303.80 L164.78 303.46 L165.16 303.06 L165.53 302.58 L165.91 302.14 L166.28 301.84 L166.66 301.64 L167.03 301.60 L167.41 302.12 L167.78 303.13 L168.16 304.71 L168.53 306.94 L168.91 309.23 L169.28 311.40 L169.66 313.40 L170.03 315.07 L170.41 316.52 L170.78 317.71 L171.16 318.53 L171.53 319.14 L171.91 319.58 L172.28 319.91 L172.66 320.03 L173.03 320.24 L173.41 320.30 L173.78 320.15 L174.16 319.90 L174.53 319.81 L174.91 319.54 L175.28 319.30 L175.66 319.06 L176.03 318.75 L176.41 318.32 L176.78 317.96 L177.16 317.67 L177.53 317.48 L177.91 317.34 L178.28 317.16 L178.66 317.04 L179.03 316.94 L179.41 316.80 L179.78 316.60 L180.16 316.33 L180.53 316.09 L180.91 315.70 L181.28 315.29 L181.66 314.96 L182.03 314.57 L182.41 314.26 L182.78 313.89 L183.16 313.62 L183.53 313.52 L183.91 313.49 L184.28 313.45 L184.66 313.40 L185.03 313.26 L185.41 313.34 L185.78 313.42 L186.16 313.54 L186.53 313.53 L186.91 313.54 L187.28 313.45 L187.66 313.54 L188.03 313.72 L188.41 313.73 L188.78 313.81 L189.16 313.96 L189.53 313.88 L189.91 313.67 L190.28 313.43 L190.66 313.19 L191.03 312.86 L191.41 312.58 L191.78 312.34 L192.16 312.14 L192.53 311.97 L192.91 311.86 L193.28 311.75 L193.66 311.43 L194.03 311.09 L194.41 310.69 L194.78 310.27 L195.16 309.88 L195.53 309.51 L195.91 309.16 L196.28 308.65 L196.66 308.08 L197.03 307.58 L197.41 307.08 L197.78 306.57 L198.16 306.06 L198.53 305.48 L198.91 304.99 L199.28 304.49 L199.66 303.95 L200.03 303.37 L200.41 302.82 L200.78 302.11 L201.16 301.49 L201.53 301.00 L201.91 300.46 L202.28 300.04 L202.66 299.66 L203.03 299.19 L203.41 298.77 L203.78 298.36 L204.16 298.03 L204.53 297.73 L204.91 297.39 L205.28 296.97 L205.66 296.61 L206.03 296.33 L206.41 296.20 L206.78 296.14 L207.16 296.05 L207.53 295.94 L207.91 295.90 L208.28 295.87 L208.66 295.83 L209.03 295.87 L209.41 295.93 L209.78 296.06 L210.16 296.26 L210.53 296.44 L210.91 296.85 L211.28 297.16 L211.66 297.55 L212.03 297.91 L212.41 298.34 L212.78 298.50 L213.16 298.65 L213.53 298.86 L213.91 299.11 L214.28 299.49 L214.66 299.75 L215.03 300.02 L215.41 300.25 L215.78 300.49 L216.16 300.69 L216.53 300.82 L216.91 300.97 L217.28 301.01 L217.66 301.13 L218.03 301.06 L218.41 300.96 L218.78 300.95 L219.16 300.76 L219.53 300.47 L219.91 300.22 L220.28 299.98 L220.66 299.75 L221.03 299.69 L221.41 299.78 L221.78 300.01 L222.16 300.27 L222.53 300.85 L222.91 301.64 L223.28 302.46 L223.66 303.40 L224.03 304.39 L224.41 305.59 L224.78 306.78 L225.16 308.09 L225.53 309.37 L225.91 310.49 L226.28 311.58 L226.66 312.62 L227.03 313.46 L227.41 314.11 L227.78 314.69 L228.16 315.11 L228.53 315.40 L228.91 315.66 L229.28 315.81 L229.66 315.68 L230.03 315.53 L230.41 315.10 L230.78 314.51 L231.16 313.67 L231.53 312.72 L231.91 311.55 L232.28 310.51 L232.66 309.47 L233.03 308.19 L233.41 306.83 L233.78 305.44 L234.16 304.27 L234.53 303.09 L234.91 301.95 L235.28 300.88 L235.66 299.91 L236.03 298.97 L236.41 298.19 L236.78 297.40 L237.16 296.75 L237.53 296.24 L237.91 295.77 L238.28 295.29 L238.66 294.74 L239.03 294.25 L239.41 293.75 L239.78 293.40 L240.16 293.06 L240.53 292.65 L240.91 292.18 L241.28 291.67 L241.66 291.14 L242.03 290.65 L242.41 290.22 L242.78 289.84 L243.16 289.47 L243.53 289.21 L243.91 288.77 L244.28 288.31 L244.66 288.05 L245.03 287.52 L245.41 287.01 L245.78 286.60 L246.16 286.25 L246.53 285.97 L246.91 285.69 L247.28 285.45 L247.66 285.17 L248.03 284.83 L248.41 284.21 L248.78 283.48 L249.16 282.74 L249.53 281.88 L249.91 280.95 L250.28 280.11 L250.66 279.18 L251.03 278.33 L251.41 277.54 L251.78 276.82 L252.16 276.20 L252.53 275.62 L252.91 275.00 L253.28 274.55 L253.66 274.26 L254.03 274.00 L254.41 273.85 L254.78 273.85 L255.16 273.79 L255.53 273.83 L255.91 274.02 L256.28 274.07 L256.66 274.14 L257.03 274.18 L257.41 274.36 L257.78 274.51 L258.16 274.70 L258.53 274.79 L258.91 274.91 L259.28 275.04 L259.66 275.06 L260.03 275.28 L260.41 275.52 L260.78 275.54 L261.16 275.66 L261.53 275.74 L261.91 275.83 L262.28 275.91 L262.66 275.82 L263.03 275.75 L263.41 275.81 L263.78 275.75 L264.16 275.58 L264.53 275.33 L264.91 275.04 L265.28 274.80 L265.66 274.62 L266.03 274.30 L266.41 273.86 L266.78 273.48 L267.16 272.88 L267.53 272.18 L267.91 271.52 L268.28 270.87 L268.66 270.09 L269.03 269.25 L269.41 268.49 L269.78 267.77 L270.16 266.98 L270.53 266.31 L270.91 265.71 L271.28 265.27 L271.66 264.88 L272.03 264.56 L272.41 264.27 L272.78 264.12 L273.16 264.07 L273.53 263.93 L273.91 263.87 L274.28 263.72 L274.66 263.61 L275.03 263.57 L275.41 263.59 L275.78 263.48 L276.16 263.31 L276.53 263.13 L276.91 262.81 L277.28 262.54 L277.66 262.23 L278.03 262.00 L278.41 261.68 L278.78 261.26 L279.16 260.97 L279.53 260.74 L279.91 260.48 L280.28 260.31 L280.66 260.07 L281.03 259.76 L281.41 259.48 L281.78 259.03 L282.16 258.58 L282.53 258.16 L282.91 257.81 L283.28 257.40 L283.66 256.99 L284.03 256.51 L284.41 256.07 L284.78 255.77 L285.16 255.34 L285.53 255.09 L285.91 254.68 L286.28 254.26 L286.66 253.86 L287.03 253.54 L287.41 253.09 L287.78 252.52 L288.16 252.13 L288.53 251.84 L288.91 251.59 L289.28 251.50 L289.66 251.30 L290.03 251.06 L290.41 250.85 L290.78 250.62 L291.16 250.49 L291.53 250.17 L291.91 249.86 L292.28 249.39 L292.66 249.27 L293.03 249.26 L293.41 249.45 L293.78 249.86 L294.16 250.18 L294.53 250.46 L294.91 250.71 L295.28 250.93 L295.66 251.18 L296.03 251.54 L296.41 251.90 L296.78 252.26 L297.16 252.59 L297.53 253.00 L297.91 253.38 L298.28 253.66 L298.66 253.91 L299.03 254.05 L299.41 254.03 L299.78 254.11 L300.16 254.14 L300.53 254.00 L300.91 253.93 L301.28 253.81 L301.66 253.50 L302.03 253.35 L302.41 253.15 L302.78 253.00 L303.16 252.83 L303.53 252.65 L303.91 252.38 L304.28 252.28 L304.66 252.20 L305.03 252.13 L305.41 252.13 L305.78 252.18 L306.16 252.31 L306.53 252.41 L306.91 252.53 L307.28 252.48 L307.66 252.45 L308.03 252.51 L308.41 252.63 L308.78 252.61 L309.16 252.54 L309.53 252.56 L309.91 252.43 L310.28 252.29 L310.66 252.20 L311.03 251.96 L311.41 251.75 L311.78 251.36 L312.16 250.96 L312.53 250.51 L312.91 250.04 L313.28 249.61 L313.66 249.28 L314.03 248.73 L314.41 248.08 L314.78 247.45 L315.16 246.69 L315.53 245.97 L315.91 245.25 L316.28 244.43 L316.66 243.62 L317.03 242.63 L317.41 241.74 L317.78 240.71 L318.16 239.69 L318.53 238.69 L318.91 237.71 L319.28 236.84 L319.66 235.96 L320.03 235.04 L320.41 234.21 L320.78 233.51 L321.16 232.77 L321.53 232.04 L321.91 231.41 L322.28 230.75 L322.66 230.00 L323.03 229.53 L323.41 229.20 L323.78 228.61 L324.16 228.11 L324.53 227.70 L324.91 227.40 L325.28 227.15 L325.66 226.87 L326.03 226.55 L326.41 226.33 L326.78 226.25 L327.16 226.07 L327.53 225.86 L327.91 225.67 L328.28 225.30 L328.66 224.96 L329.03 224.60 L329.41 224.28 L329.78 223.86 L330.16 223.36 L330.53 222.85 L330.91 222.35 L331.28 221.79 L331.66 221.24 L332.03 220.74 L332.41 220.26 L332.78 219.81 L333.16 219.15 L333.53 218.42 L333.91 217.48 L334.28 216.81 L334.66 216.12 L335.03 215.54 L335.41 215.13 L335.78 214.70 L336.16 214.46 L336.53 214.35 L336.91 214.27 L337.28 214.47 L337.66 214.92 L338.03 215.26 L338.41 215.60 L338.78 215.81 L339.16 215.89 L339.53 215.84 L339.91 215.76 L340.28 215.52 L340.66 215.26 L341.03 214.85 L341.41 214.45 L341.78 213.91 L342.16 213.36 L342.53 212.94 L342.91 212.47 L343.28 211.90 L343.66 211.22 L344.03 210.52 L344.41 209.91 L344.78 209.40 L345.16 208.90 L345.53 208.41 L345.91 207.89 L346.28 207.46 L346.66 206.90 L347.03 206.28 L347.41 205.74 L347.78 205.17 L348.16 204.60 L348.53 204.09 L348.91 203.69 L349.28 203.47 L349.66 203.34 L350.03 203.17 L350.41 203.18 L350.78 203.28 L351.16 203.37 L351.53 203.63 L351.91 203.88 L352.28 204.03 L352.66 204.12 L353.03 204.15 L353.41 203.92 L353.78 203.59 L354.16 203.07 L354.53 202.65 L354.91 202.01 L355.28 201.37 L355.66 200.55 L356.03 199.75 L356.41 199.03 L356.78 197.95 L357.16 196.89 L357.53 195.91 L357.91 194.93 L358.28 193.90 L358.66 193.08 L359.03 192.18 L359.41 191.12 L359.78 190.20 L360.16 189.15 L360.53 188.28 L360.91 187.38 L361.28 186.60 L361.66 186.04 L362.03 185.54 L362.41 185.01 L362.78 184.50 L363.16 184.28 L363.53 184.20 L363.91 184.08 L364.28 184.12 L364.66 184.24 L365.03 184.42 L365.41 184.42 L365.78 184.46 L366.16 184.56 L366.53 184.61 L366.91 184.61 L367.28 184.27 L367.66 183.95 L368.03 183.63 L368.41 183.42 L368.78 182.95 L369.16 182.39 L369.53 181.81 L369.91 181.28 L370.28 180.65 L370.66 180.09 L371.03 179.40 L371.41 178.76 L371.78 178.09 L372.16 177.47 L372.53 176.83 L372.91 176.12 L373.28 175.68 L373.66 175.34 L374.03 175.03 L374.41 174.84 L374.78 174.78 L375.16 174.54 L375.53 174.16 L375.91 173.66 L376.28 173.06 L376.66 172.46 L377.03 171.86 L377.41 171.65 L377.78 171.63 L378.16 171.76 L378.53 172.04 L378.91 172.53 L379.28 173.13 L379.66 173.81 L380.03 174.64 L380.41 175.60 L380.78 176.69 L381.16 177.78 L381.53 178.83 L381.91 179.30 L382.28 179.40 L382.66 179.05 L383.03 178.50 L383.41 177.82 L383.78 176.87 L384.16 175.67 L384.53 174.35 L384.91 172.94 L385.28 171.29 L385.66 169.59 L386.03 167.95 L386.41 166.27 L386.78 164.64 L387.16 163.15 L387.53 161.84 L387.91 160.72 L388.28 159.74 L388.66 158.81 L389.03 157.97 L389.41 157.07 L389.78 156.10 L390.16 155.08 L390.53 153.91 L390.91 152.78 L391.28 151.79 L391.66 150.87 L392.03 150.14 L392.41 149.59 L392.78 149.10 L393.16 148.79 L393.53 148.10 L393.91 147.39 L394.28 146.49 L394.66 145.70 L395.03 145.08 L395.41 144.23 L395.78 143.55 L396.16 143.04 L396.53 142.58 L396.91 142.24 L397.28 141.68 L397.66 141.23 L398.03 140.75 L398.41 140.19 L398.78 139.54 L399.16 138.97 L399.53 138.40 L399.91 137.93 L400.28 137.47 L400.66 136.91 L401.03 136.46 L401.41 135.93 L401.78 135.30 L402.16 134.41 L402.53 133.39 L402.91 132.30 L403.28 131.08 L403.66 129.82 L404.03 128.54 L404.41 127.00 L404.78 125.24 L405.16 123.58 L405.53 121.98 L405.91 120.31 L406.28 118.56 L406.66 116.63 L407.03 114.58 L407.41 112.57 L407.78 110.39 L408.16 108.08 L408.53 105.87 L408.91 104.18 L409.28 102.83 L409.66 101.65 L410.03 100.96 L410.41 100.88 L410.78 101.20 L411.16 102.06 L411.53 103.13 L411.91 104.21 L412.28 105.45 L412.66 106.35 L413.03 106.89 L413.41 107.04 L413.78 106.88 L414.16 106.57 L414.53 106.04 L414.91 105.27 L415.28 104.40 L415.66 103.57 L416.03 102.83 L416.41 102.20 L416.78 101.70 L417.16 101.34 L417.53 101.05 L417.91 100.79 L418.28 100.64 L418.66 100.54 L419.03 100.72 L419.41 101.17 L419.78 101.83 L420.16 102.62 L420.53 103.53 L420.91 104.65 L421.28 105.87 L421.66 107.25 L422.03 108.74 L422.41 110.34 L422.78 112.13 L423.16 113.92 L423.53 115.77 L423.91 117.62 L424.28 119.47 L424.66 121.49 L425.03 123.53 L425.41 125.19 L425.78 126.56 L426.16 127.72 L426.53 128.84 L426.91 130.20 L427.28 131.65 L427.66 133.34 L428.03 135.35 L428.41 137.68 L428.78 140.12 L429.16 142.57 L429.53 144.87 L429.91 146.66 L430.28 147.93 L430.66 148.93 L431.03 149.61 L431.41 150.10 L431.78 150.62 L432.16 150.99 L432.53 151.24 L432.91 151.45 L433.28 151.76 L433.66 152.27 L434.03 152.82 L434.41 153.47 L434.78 154.12 L435.16 154.82 L435.53 155.54 L435.91 156.36 L436.28 157.42 L436.66 158.49 L437.03 159.78 L437.41 161.30 L437.78 162.98 L438.16 164.83 L438.53 166.85 L438.91 168.72 L439.28 170.13 L439.66 171.09 L440.03 171.53 L440.41 171.91 L440.78 172.02 L441.16 171.88 L441.53 171.47 L441.91 170.95 L442.28 170.30 L442.66 169.70 L443.03 169.14 L443.41 168.57 L443.78 168.02 L444.16 167.47 L444.53 167.23 L444.91 167.06 L445.28 166.92 L445.66 166.99 L446.03 167.14 L446.41 167.34 L446.78 167.64 L447.16 168.07 L447.53 168.44 L447.91 168.83 L448.28 169.30 L448.66 169.69 L449.03 169.96 L449.41 170.19 L449.78 170.43 L450.16 170.80 L450.53 171.36 L450.91 172.01 L451.28 172.58 L451.66 173.37 L452.03 174.24 L452.41 175.33 L452.78 176.45 L453.16 177.69 L453.53 179.18 L453.91 180.53 L454.28 181.84 L454.66 183.13 L455.03 184.35 L455.41 185.59 L455.78 186.92 L456.16 188.06 L456.53 188.92 L456.91 189.64 L457.28 190.62 L457.66 191.73 L458.03 193.01 L458.41 194.43 L458.78 195.67 L459.16 196.66 L459.53 197.28 L459.91 197.52 L460.28 197.51 L460.66 197.47 L461.03 197.32 L461.41 196.94 L461.78 196.56 L462.16 196.25 L462.53 196.02 L462.91 195.84 L463.28 195.67 L463.66 195.61 L464.03 195.55 L464.41 195.76 L464.78 196.05 L465.16 196.26 L465.53 196.67 L465.91 197.13 L466.28 197.31 L466.66 197.60 L467.03 197.81 L467.41 198.01 L467.78 197.90 L468.16 197.75 L468.53 197.51 L468.91 197.17 L469.28 196.73 L469.66 196.28 L470.03 195.59 L470.41 194.77 L470.78 193.87 L471.16 192.98 L471.53 192.05 L471.91 191.18 L472.28 190.33 L472.66 189.48 L473.03 188.57 L473.41 187.67 L473.78 186.89 L474.16 186.13 L474.53 185.32 L474.91 184.46 L475.28 183.71 L475.66 182.84 L476.03 182.01 L476.41 181.23 L476.78 180.36 L477.16 179.53 L477.53 178.57 L477.91 177.72 L478.28 176.88 L478.66 175.95 L479.03 175.18 L479.41 174.38 L479.78 173.76 L480.16 173.07 L480.53 172.39 L480.91 171.75 L481.28 171.09 L481.66 170.46 L482.03 169.78 L482.41 169.14 L482.78 168.44 L483.16 167.73 L483.53 166.77 L483.91 166.09 L484.28 165.50 L484.66 164.85 L485.03 164.37 L485.41 164.04 L485.78 163.85 L486.16 163.58 L486.53 163.52 L486.91 163.44 L487.28 163.57 L487.66 163.61 L488.03 163.71 L488.41 163.75 L488.78 163.75 L489.16 163.91 L489.53 164.13 L489.91 164.36 L490.28 164.49 L490.66 164.43 L491.03 164.16 L491.41 163.89 L491.78 163.67 L492.16 163.58 L492.53 163.73 L492.91 164.03 L493.28 164.40 L493.66 164.89 L494.03 165.43 L494.41 166.03 L494.78 166.58 L495.16 167.06 L495.53 167.31 L495.91 167.34 L496.28 167.46 L496.66 167.49 L497.03 167.51 L497.41 167.28 L497.78 167.01 L498.16 166.73 L498.53 166.31 L498.91 165.87 L499.28 165.51 L499.66 165.18 L500.03 164.89 L500.41 164.42 L500.78 163.82 L501.16 163.33 L501.53 162.91 L501.91 162.47 L502.28 161.95 L502.66 161.61 L503.03 161.38 L503.41 161.22 L503.78 161.02 L504.16 160.91 L504.53 160.90 L504.91 160.85 L505.28 160.71 L505.66 160.73 L506.03 160.85 L506.41 161.02 L506.78 161.32 L507.16 161.57 L507.53 161.87 L507.91 162.18 L508.28 162.50 L508.66 162.85 L509.03 163.00 L509.41 163.22 L509.78 163.37 L510.16 163.40 L510.53 163.33 L510.91 163.28 L511.28 163.07 L511.66 162.77 L512.03 162.34 L512.41 161.98 L512.78 161.71 L513.16 161.39 L513.53 161.05 L513.91 160.64 L514.28 160.27 L514.66 159.83 L515.03 159.58 L515.41 159.33 L515.78 159.05 L516.16 158.82 L516.53 158.64 L516.91 158.63 L517.28 158.74 L517.66 158.73 L518.03 158.83 L518.41 158.91 L518.78 158.81 L519.16 158.52 L519.53 158.18 L519.91 157.80 L520.28 157.47 L520.66 157.11 L521.03 156.59 L521.41 156.18 L521.78 155.68 L522.16 155.33 L522.53 154.90 L522.91 154.48 L523.28 154.07 L523.66 153.69 L524.03 153.47 L524.41 153.28 L524.78 153.08 L525.16 152.84 L525.53 152.45 L525.91 152.07 L526.28 151.71 L526.66 151.37 L527.03 151.19 L527.41 151.04 L527.78 150.92 L528.16 150.84 L528.53 150.74 L528.91 150.88 L529.28 151.21 L529.66 151.55 L530.03 151.83 L530.41 151.96 L530.78 152.29 L531.16 152.80 L531.53 153.32 L531.91 153.90 L532.28 154.55 L532.66 155.13 L533.03 155.51 L533.41 155.86 L533.78 156.14 L534.16 156.17 L534.53 156.13 L534.91 155.94 L535.28 155.75 L535.66 155.58 L536.03 155.24 L536.41 154.73 L536.78 154.40 L537.16 154.04 L537.53 153.74 L537.91 153.21 L538.28 152.77 L538.66 152.44 L539.03 152.16 L539.41 151.72 L539.78 151.26 L540.16 150.76 L540.53 150.36 L540.91 150.02 L541.28 149.67 L541.66 149.22 L542.03 148.91 L542.41 148.59 L542.78 148.33 L543.16 148.06 L543.53 147.89 L543.91 147.72 L544.28 147.42 L544.66 147.15 L545.03 147.02 L545.41 146.79 L545.78 146.61 L546.16 146.51 L546.53 146.44 L546.91 146.29 L547.28 145.94 L547.66 145.48 L548.03 145.10 L548.41 144.74 L548.78 144.56 L549.16 144.20 L549.53 143.90 L549.91 143.60 L550.28 143.11 L550.66 142.61 L551.03 142.18 L551.41 141.72 L551.78 141.30 L552.16 140.99 L552.53 140.72 L552.91 140.64 L553.28 140.59 L553.66 140.57 L554.03 140.53 L554.41 140.34 L554.78 140.09 L555.16 139.87 L555.53 139.52 L555.91 139.11 L556.28 138.72 L556.66 138.27 L557.03 137.97 L557.41 137.64 L557.78 137.51 L558.16 137.44 L558.53 137.37 L558.91 137.46 L559.28 137.40 L559.66 137.47 L560.03 137.53 L560.41 137.78 L560.78 138.01 L561.16 138.49 L561.53 139.15 L561.91 139.79 L562.28 140.45 L562.66 141.33 L563.03 142.15 L563.41 142.89 L563.78 143.53 L564.16 144.11 L564.53 144.59 L564.91 144.94 L565.28 145.30 L565.66 145.45 L566.03 145.54 L566.41 145.64 L566.78 145.51 L567.16 145.43 L567.53 145.47 L567.91 145.34 L568.28 145.19 L568.66 145.07 L569.03 144.92 L569.41 144.98 L569.78 144.99 L570.16 145.18 L570.53 145.55 L570.91 145.75 L571.28 145.92 L571.66 145.87 L572.03 145.89 L572.41 145.79 L572.78 145.74 L573.16 145.78 L573.53 145.92 L573.91 146.10 L574.28 146.52 L574.66 147.18 L575.03 148.19 L575.41 149.46 L575.78 151.13 L576.16 152.99 L576.53 155.20 L576.91 157.87 L577.28 160.63 L577.66 163.01 L578.03 165.02 L578.41 166.55 L578.78 167.75 L579.16 168.79 L579.53 169.81 L579.91 170.73 L580.28 171.62 L580.66 172.50 L581.03 173.40 L581.41 174.55 L581.78 175.78 L582.16 177.03 L582.53 178.26 L582.91 179.60 L583.28 181.29 L583.66 182.58 L584.03 183.55 L584.41 184.19 L584.78 184.53 L585.16 184.59 L585.53 184.34 L585.91 183.94 L586.28 183.65 L586.66 183.17 L587.03 182.69 L587.41 182.00 L587.78 181.31 L588.16 180.65 L588.53 180.04 L588.91 179.26 L589.28 178.54 L589.66 177.80 L590.03 176.95 L590.41 176.14 L590.78 175.23 L591.16 174.29 L591.53 173.41 L591.91 172.35 L592.28 171.43 L592.66 170.50 L593.03 169.55 L593.41 168.67 L593.78 167.92 L594.16 167.14 L594.53 166.47 L594.91 165.67 L595.28 164.86 L595.66 164.32 L596.03 163.84 L596.41 163.46 L596.78 163.01 L597.16 162.64 L597.53 162.21 L597.91 161.77 L598.28 161.24 L598.66 160.75 L599.03 160.11 L599.41 159.42 L599.78 158.69 L600.16 158.18 L600.53 157.62 L600.91 157.02 L601.28 156.42 L601.66 155.86 L602.03 155.24 L602.41 154.69 L602.78 154.13 L603.16 153.56 L603.53 152.93 L603.91 152.35 L604.28 151.74 L604.66 151.15 L605.03 150.61 L605.41 150.21 L605.78 149.77 L606.16 149.52 L606.53 149.40 L606.91 149.50 L607.28 149.55 L607.66 149.69 L608.03 149.93 L608.41 150.23 L608.78 150.68 L609.16 151.09 L609.53 151.60 L609.91 151.96 L610.28 152.18 L610.66 152.56 L611.03 152.88 L611.41 153.16 L611.78 153.35 L612.16 153.48 L612.53 153.41 L612.91 153.36 L613.28 153.18 L613.66 153.01 L614.03 152.74 L614.41 152.22 L614.78 151.61 L615.16 151.13 L615.53 150.58 L615.91 149.94 L616.28 149.32 L616.66 148.65 L617.03 147.94 L617.41 147.28 L617.78 146.63 L618.16 146.08 L618.53 145.46 L618.91 144.95 L619.28 144.46 L619.66 143.97 L620.03 143.42 L620.41 142.81 L620.78 142.18 L621.16 141.54 L621.53 140.88 L621.91 140.27 L622.28 139.64 L622.66 139.20 L623.03 138.75 L623.41 138.22 L623.78 137.56 L624.16 137.00 L624.53 136.47 L624.91 135.92 L625.28 135.37 L625.66 134.75 L626.03 134.35 L626.41 134.02 L626.78 133.97 L627.16 133.84 L627.53 133.70 L627.91 133.70 L628.28 133.71 L628.66 133.78 L629.03 133.88 L629.41 134.03 L629.78 134.46 L630.16 135.07 L630.53 135.89 L630.91 136.69 L631.28 137.50 L631.66 138.22 L632.03 139.03 L632.41 139.69 L632.78 140.41 L633.16 141.12 L633.53 141.73 L633.91 142.00 L634.28 142.20 L634.66 142.15 L635.03 141.96 L635.41 141.70 L635.78 141.64 L636.16 141.70 L636.53 141.64 L636.91 141.52 L637.28 141.35 L637.66 141.32 L638.03 141.19 L638.41 140.84 L638.78 140.26 L639.16 139.66 L639.53 139.19 L639.91 138.80 L640.28 138.26 L640.66 137.61 L641.03 136.92 L641.41 136.10 L641.78 135.46 L642.16 134.73 L642.53 134.13 L642.91 133.36 L643.28 132.58 L643.66 131.94 L644.03 131.40 L644.41 131.09 L644.78 130.88 L645.16 130.68 L645.53 130.67 L645.91 130.78 L646.28 130.77 L646.66 131.02 L647.03 131.28 L647.41 131.48 L647.78 131.39 L648.16 131.22 L648.53 131.02 L648.91 130.87 L649.28 130.53 L649.66 130.13 L650.03 129.61 L650.41 129.17 L650.78 128.80 L651.16 128.28 L651.53 127.76 L651.91 127.34 L652.28 127.03 L652.66 126.76 L653.03 126.51 L653.41 126.25 L653.78 126.07 L654.16 125.99 L654.53 126.06 L654.91 126.20 L655.28 126.55 L655.66 126.88 L656.03 127.10 L656.41 127.41 L656.78 127.65 L657.16 127.74 L657.53 127.67 L657.91 127.41 L658.28 127.11 L658.66 126.93 L659.03 126.65 L659.41 126.26 L659.78 125.94 L660.16 125.63 L660.53 125.36 L660.91 125.10 L661.28 124.90 L661.66 124.53 L662.03 124.22 L662.41 123.79 L662.78 123.41 L663.16 123.00 L663.53 122.57 L663.91 122.17 L664.28 121.70 L664.66 121.28 L665.03 120.86 L665.41 120.37 L665.78 119.81 L666.16 119.19 L666.53 118.57 L666.91 117.98 L667.28 117.42 L667.66 117.10 L668.03 116.69 L668.41 116.25 L668.78 115.67 L669.16 115.06 L669.53 114.48 L669.91 113.95 L670.28 113.36 L670.66 112.94 L671.03 112.43 L671.41 112.00 L671.78 111.33 L672.16 110.75 L672.53 110.22 L672.91 109.72 L673.28 109.25 L673.66 108.76 L674.03 108.26 L674.41 107.59 L674.78 106.93 L675.16 106.14 L675.53 105.53 L675.91 104.97 L676.28 104.39 L676.66 103.75 L677.03 103.13 L677.41 102.71 L677.78 102.37 L678.16 101.93 L678.53 101.57 L678.91 101.06 L679.28 100.50 L679.66 100.06 L680.03 99.69 L680.41 99.39 L680.78 99.22 L681.16 99.34 L681.53 99.31 L681.91 99.30 L682.28 99.32 L682.66 99.35 L683.03 99.44 L683.41 99.56 L683.78 99.40 L684.16 99.19 L684.53 98.89 L684.91 98.58 L685.28 98.10 L685.66 97.54 L686.03 96.89 L686.41 96.45 L686.78 96.05 L687.16 95.66 L687.53 95.09 L687.91 94.61 L688.28 94.14 L688.66 93.62 L689.03 93.15 L689.41 92.85 L689.78 92.63 L690.16 92.42 L690.53 92.27 L690.91 92.09 L691.28 92.00 L691.66 92.01 L692.03 92.14 L692.41 92.29 L692.78 92.41 L693.16 92.42 L693.53 92.29 L693.91 92.26 L694.28 92.09 L694.66 91.84 L695.03 91.68 L695.41 91.46 L695.78 90.97 L696.16 90.54 L696.53 90.16 L696.91 89.93 L697.28 89.74 L697.66 89.56 L698.03 89.23 L698.41 88.89 L698.78 88.60 L699.16 88.33 L699.53 87.92 L699.91 87.50 L700.28 87.05 L700.66 86.63 L701.03 86.23 L701.41 85.79 L701.78 85.26 L702.16 84.88 L702.53 84.60 L702.91 84.27 L703.28 84.01 L703.66 83.77 L704.03 83.56 L704.41 83.36 L704.78 83.04 L705.16 82.77 L705.53 82.53 L705.91 82.15 L706.28 81.93 L706.66 81.81 L707.03 81.73 L707.41 81.69 L707.78 81.62 L708.16 81.55 L708.53 81.64 L708.91 81.91 L709.28 82.41 L709.66 82.89 L710.03 83.30 L710.41 83.36 L710.78 83.54 L711.16 83.71 L711.53 83.66 L711.91 83.54 L712.28 83.35 L712.66 83.08 L713.03 82.73 L713.41 82.39 L713.78 82.03 L714.16 81.76 L714.53 81.53 L714.91 81.38 L715.28 81.25 L715.66 81.27 L716.03 81.43 L716.41 81.75 L716.78 82.09 L717.16 82.63 L717.53 83.34 L717.91 84.12 L718.28 84.74 L718.66 85.18 L719.03 85.46 L719.41 85.69 L719.78 85.90 L720.16 85.93 L720.53 85.81 L720.91 85.67 L721.28 85.49 L721.66 85.19 L722.03 84.91 L722.41 84.71 L722.78 84.63 L723.16 84.47 L723.53 84.32 L723.91 84.31 L724.28 84.24 L724.66 84.27 L725.03 84.37 L725.41 84.45 L725.78 84.35 L726.16 84.19 L726.53 83.91 L726.91 83.60 L727.28 83.17 L727.66 82.85 L728.03 82.34 L728.41 81.88 L728.78 81.45 L729.16 81.12 L729.53 80.74 L729.91 80.46 L730.28 80.15 L730.66 79.95 L731.03 79.88 L731.41 79.73 L731.78 79.60 L732.16 79.41 L732.53 79.33 L732.91 79.34 L733.28 79.23 L733.66 78.95 L734.03 78.69 L734.41 78.47 L734.78 78.23 L735.16 77.95 L735.53 77.41 L735.91 76.86 L736.28 76.45 L736.66 75.88 L737.03 75.43 L737.41 75.06 L737.78 74.64 L738.16 74.20 L738.53 73.63 L738.91 72.93 L739.28 72.29 L739.66 71.70 L740.03 71.14 L740.41 70.68 L740.78 70.20 L741.16 69.74 L741.53 69.29 L741.91 68.82 L742.28 68.47 L742.66 68.06 L743.03 67.59 L743.41 67.08 L743.78 66.52 L744.16 66.11 L744.53 65.67 L744.91 65.12 L745.28 64.59 L745.66 64.11 L746.03 63.64 L746.41 63.30 L746.78 62.85 L747.16 62.50 L747.53 62.16 L747.91 61.73 L748.28 61.38 L748.66 61.04 L749.03 60.76 L749.41 60.41 L749.78 60.09 L750.16 59.60 L750.53 59.10 L750.91 58.73 L751.28 58.43 L751.66 58.06 L752.03 57.62 L752.41 57.26 L752.78 56.69 L753.16 56.12 L753.53 55.66 L753.91 55.23 L754.28 54.67 L754.66 53.98 L755.03 53.49 L755.41 52.97 L755.78 52.35 L756.16 51.76 L756.53 51.30 L756.91 50.71 L757.28 50.43 L757.66 50.29 L758.03 50.02 L758.41 49.84 L758.78 49.46 L759.16 49.19 L759.53 48.89 L759.91 48.78 L760.28 48.58 L760.66 48.42 L761.03 48.37 L761.41 48.17 L761.78 47.88 L762.16 47.55 L762.53 47.19 L762.91 46.74 L763.28 46.36 L763.66 46.03 L764.03 45.68 L764.41 45.44 L764.78 45.09 L765.16 44.82 L765.53 44.44 L765.91 44.11 L766.28 43.58 L766.66 43.16 L767.03 42.74 L767.41 42.30 L767.78 41.83 L768.16 41.39 L768.53 40.94 L768.91 40.44 L769.28 40.12 L769.66 39.93 L770.03 39.88 L770.41 39.90 L770.78 40.09" stroke="#000088" stroke-width="1.2" fill="none" stroke-linejoin="round"/>
<path d="M18.54 392.81 L18.91 394.65 L19.29 397.03 L19.66 400.46 L20.04 404.15 L20.41 407.66 L20.79 410.20 L21.16 411.33 L21.54 411.20 L21.91 409.56 L22.29 407.77 L22.66 405.76 L23.04 403.95 L23.41 402.27 L23.79 400.09 L24.16 398.04 L24.54 396.11 L24.91 394.98 L25.29 394.11 L25.66 393.26 L26.04 392.00 L26.41 390.60 L26.79 389.27 L27.16 387.53 L27.54 386.54 L27.91 385.34 L28.29 384.18 L28.66 382.85 L29.04 380.79 L29.41 378.84 L29.79 377.00 L30.16 376.02 L30.54 375.48 L30.91 374.95 L31.29 374.20 L31.66 373.25 L32.03 372.76 L32.41 372.10 L32.78 371.76 L33.16 371.48 L33.53 370.28 L33.91 369.72 L34.28 369.73 L34.66 369.26 L35.03 369.67 L35.41 370.21 L35.78 370.23 L36.16 371.15 L36.53 371.82 L36.91 371.89 L37.28 372.44 L37.66 372.82 L38.03 373.35 L38.41 374.39 L38.78 374.57 L39.16 374.19 L39.53 372.95 L39.91 371.59 L40.28 370.20 L40.66 368.90 L41.03 367.84 L41.41 366.51 L41.78 365.55 L42.16 365.22 L42.53 364.55 L42.91 363.77 L43.28 363.29 L43.66 362.79 L44.03 362.96 L44.41 362.89 L44.78 362.29 L45.16 362.07 L45.53 362.09 L45.91 362.71 L46.28 364.30 L46.66 365.60 L47.03 366.81 L47.41 368.10 L47.78 368.96 L48.16 370.00 L48.53 371.54 L48.91 373.54 L49.28 375.88 L49.66 377.14 L50.03 378.09 L50.41 378.23 L50.78 377.40 L51.16 376.05 L51.53 374.38 L51.91 373.27 L52.28 371.99 L52.66 371.88 L53.03 372.23 L53.41 371.83 L53.78 372.67 L54.16 373.46 L54.53 373.80 L54.91 374.73 L55.28 375.29 L55.66 375.89 L56.03 377.05 L56.41 377.91 L56.78 378.62 L57.16 379.75 L57.53 380.50 L57.91 381.31 L58.28 382.53 L58.66 383.64 L59.03 384.29 L59.41 384.35 L59.78 383.71 L60.16 382.36 L60.53 381.07 L60.91 380.62 L61.28 379.85 L61.66 379.75 L62.03 379.53 L62.41 379.09 L62.78 379.55 L63.16 380.09 L63.53 381.36 L63.91 382.80 L64.28 383.94 L64.66 384.76 L65.03 385.56 L65.41 386.23 L65.78 386.98 L66.16 387.83 L66.53 388.45 L66.91 389.28 L67.28 389.66 L67.66 389.61 L68.03 388.62 L68.41 386.42 L68.78 383.56 L69.16 380.05 L69.53 376.82 L69.91 373.49 L70.28 370.32 L70.66 367.89 L71.03 364.80 L71.41 362.47 L71.78 360.94 L72.16 359.43 L72.53 358.99 L72.91 358.47 L73.28 357.87 L73.66 357.12 L74.03 356.16 L74.41 356.07 L74.78 355.54 L75.16 354.67 L75.53 353.97 L75.91 352.50 L76.28 351.25 L76.66 349.60 L77.03 348.24 L77.41 347.43 L77.78 346.25 L78.16 345.89 L78.53 345.54 L78.91 344.76 L79.28 344.49 L79.66 343.31 L80.03 341.82 L80.41 340.21 L80.78 338.58 L81.16 337.83 L81.53 336.06 L81.91 334.76 L82.28 332.76 L82.66 331.01 L83.03 329.95 L83.41 328.81 L83.78 328.69 L84.16 328.31 L84.53 328.67 L84.91 329.29 L85.28 329.74 L85.66 330.47 L86.03 331.65 L86.41 332.78 L86.78 333.74 L87.16 335.51 L87.53 336.19 L87.91 336.97 L88.28 337.78 L88.66 337.87 L89.03 338.76 L89.41 339.34 L89.78 340.17 L90.16 340.35 L90.53 340.04 L90.91 340.12 L91.28 339.84 L91.66 339.94 L92.03 339.99 L92.41 340.08 L92.78 340.39 L93.16 340.95 L93.53 341.13 L93.91 340.71 L94.28 340.00 L94.66 339.94 L95.03 341.37 L95.41 342.88 L95.78 345.54 L96.16 347.81 L96.53 349.04 L96.91 349.74 L97.28 350.23 L97.66 350.29 L98.03 350.39 L98.41 351.27 L98.78 351.64 L99.16 352.48 L99.53 353.05 L99.91 353.81 L100.28 354.75 L100.66 355.47 L101.03 356.32 L101.41 356.50 L101.78 356.74 L102.16 356.76 L102.53 357.10 L102.91 358.08 L103.28 358.44 L103.66 358.21 L104.03 358.16 L104.41 357.24 L104.78 356.72 L105.16 356.49 L105.53 355.40 L105.91 354.44 L106.28 353.19 L106.66 352.10 L107.03 351.92 L107.41 351.87 L107.78 352.11 L108.16 352.71 L108.53 353.18 L108.91 353.33 L109.28 353.45 L109.66 352.73 L110.03 351.80 L110.41 351.15 L110.78 351.00 L111.16 351.21 L111.53 351.68 L111.91 352.43 L112.28 352.55 L112.66 352.80 L113.03 352.92 L113.41 353.01 L113.78 352.04 L114.16 350.44 L114.53 348.16 L114.91 345.15 L115.28 342.59 L115.66 340.72 L116.03 339.84 L116.41 339.07 L116.78 338.82 L117.16 339.04 L117.53 339.03 L117.91 339.48 L118.28 340.13 L118.66 340.31 L119.03 339.99 L119.41 339.53 L119.78 339.01 L120.16 338.93 L120.53 338.89 L120.91 338.78 L121.28 338.35 L121.66 337.19 L122.03 336.47 L122.41 335.77 L122.78 335.44 L123.16 334.78 L123.53 334.31 L123.91 333.97 L124.28 333.05 L124.66 333.51 L125.03 333.81 L125.41 333.95 L125.78 334.78 L126.16 335.42 L126.53 335.92 L126.91 337.10 L127.28 338.16 L127.66 338.81 L128.03 339.40 L128.41 339.87 L128.78 339.98 L129.16 339.70 L129.53 338.53 L129.91 337.34 L130.28 336.42 L130.66 335.25 L131.03 334.54 L131.41 333.82 L131.78 331.98 L132.16 330.61 L132.53 330.03 L132.91 328.30 L133.28 327.48 L133.66 326.87 L134.03 325.37 L134.41 324.56 L134.78 323.76 L135.16 322.15 L135.53 320.92 L135.91 319.78 L136.28 318.73 L136.66 317.97 L137.03 317.09 L137.41 315.83 L137.78 314.44 L138.16 313.57 L138.53 312.82 L138.91 312.16 L139.28 311.45 L139.66 311.35 L140.03 311.34 L140.41 311.49 L140.78 310.91 L141.16 309.94 L141.53 309.21 L141.91 309.05 L142.28 309.72 L142.66 310.05 L143.03 310.71 L143.41 310.77 L143.78 311.87 L144.16 313.30 L144.53 314.37 L144.91 316.38 L145.28 318.13 L145.66 319.05 L146.03 319.96 L146.41 320.25 L146.78 319.84 L147.16 319.57 L147.53 318.90 L147.91 318.71 L148.28 318.67 L148.66 318.44 L149.03 318.40 L149.41 318.56 L149.78 318.90 L150.16 320.09 L150.53 321.40 L150.91 321.40 L151.28 321.17 L151.66 319.88 L152.03 318.66 L152.41 318.06 L152.78 317.39 L153.16 316.63 L153.53 315.33 L153.91 313.53 L154.28 311.37 L154.66 309.74 L155.03 308.28 L155.41 306.77 L155.78 305.63 L156.16 304.41 L156.53 303.30 L156.91 302.67 L157.28 302.34 L157.66 302.49 L158.03 303.10 L158.41 303.77 L158.78 304.29 L159.16 304.66 L159.53 304.55 L159.91 304.71 L160.28 305.10 L160.66 305.50 L161.03 305.91 L161.41 305.91 L161.78 305.05 L162.16 303.62 L162.53 302.60 L162.91 301.36 L163.28 300.85 L163.66 300.45 L164.03 299.23 L164.41 298.34 L164.78 297.88 L165.16 297.59 L165.53 297.63 L165.91 297.62 L166.28 297.34 L166.66 297.61 L167.03 298.73 L167.41 301.73 L167.78 306.17 L168.16 312.49 L168.53 320.90 L168.91 328.23 L169.28 333.90 L169.66 337.41 L170.03 337.70 L170.41 336.86 L170.78 335.38 L171.16 332.96 L171.53 330.70 L171.91 328.32 L172.28 326.17 L172.66 324.38 L173.03 323.36 L173.41 322.38 L173.78 320.95 L174.16 319.73 L174.53 318.70 L174.91 317.47 L175.28 316.96 L175.66 316.82 L176.03 315.88 L176.41 315.05 L176.78 314.34 L177.16 313.81 L177.53 313.89 L177.91 314.53 L178.28 314.91 L178.66 315.31 L179.03 315.42 L179.41 315.31 L179.78 315.10 L180.16 314.44 L180.53 313.80 L180.91 312.76 L181.28 311.77 L181.66 311.21 L182.03 310.37 L182.41 310.26 L182.78 310.04 L183.16 309.92 L183.53 310.55 L183.91 311.23 L184.28 312.15 L184.66 312.77 L185.03 312.59 L185.41 312.90 L185.78 313.25 L186.16 313.82 L186.53 314.31 L186.91 314.13 L187.28 313.61 L187.66 313.50 L188.03 314.15 L188.41 314.19 L188.78 314.84 L189.16 315.12 L189.53 314.35 L189.91 313.65 L190.28 312.54 L190.66 311.15 L191.03 310.09 L191.41 309.60 L191.78 309.32 L192.16 309.21 L192.53 309.49 L192.91 309.85 L193.28 310.09 L193.66 309.53 L194.03 308.78 L194.41 307.59 L194.78 306.23 L195.16 305.64 L195.53 305.15 L195.91 304.92 L196.28 304.25 L196.66 303.23 L197.03 302.35 L197.41 301.36 L197.78 300.83 L198.16 300.49 L198.53 299.73 L198.91 299.21 L199.28 298.75 L199.66 298.14 L200.03 297.59 L200.41 296.90 L200.78 295.64 L201.16 294.76 L201.53 294.46 L201.91 293.87 L202.28 294.26 L202.66 294.59 L203.03 294.19 L203.41 294.14 L203.78 293.77 L204.16 293.48 L204.53 293.66 L204.91 293.58 L205.28 293.19 L205.66 292.74 L206.03 292.46 L206.41 292.81 L206.78 293.71 L207.16 294.45 L207.53 294.85 L207.91 295.06 L208.28 295.10 L208.66 295.18 L209.03 295.66 L209.41 295.98 L209.78 296.50 L210.16 297.36 L210.53 297.94 L210.91 299.26 L211.28 300.12 L211.66 301.05 L212.03 301.97 L212.41 302.40 L212.78 302.27 L213.16 301.79 L213.53 301.56 L213.91 301.19 L214.28 302.14 L214.66 302.74 L215.03 303.21 L215.41 303.45 L215.78 303.24 L216.16 303.29 L216.53 303.05 L216.91 302.98 L217.28 302.49 L217.66 302.37 L218.03 301.80 L218.41 301.01 L218.78 300.87 L219.16 299.76 L219.53 298.93 L219.91 298.28 L220.28 297.30 L220.66 296.97 L221.03 297.48 L221.41 298.44 L221.78 299.92 L222.16 301.55 L222.53 303.84 L222.91 306.48 L223.28 308.96 L223.66 311.87 L224.03 314.04 L224.41 316.33 L224.78 318.51 L225.16 320.86 L225.53 323.02 L225.91 323.97 L226.28 324.88 L226.66 325.16 L227.03 324.84 L227.41 324.25 L227.78 323.47 L228.16 322.12 L228.53 320.88 L228.91 320.09 L229.28 318.99 L229.66 317.42 L230.03 316.08 L230.41 313.75 L230.78 311.14 L231.16 308.43 L231.53 305.21 L231.91 302.01 L232.28 299.62 L232.66 297.94 L233.03 295.79 L233.41 294.01 L233.78 291.62 L234.16 289.94 L234.53 288.95 L234.91 288.43 L235.28 288.29 L235.66 287.83 L236.03 287.57 L236.41 287.73 L236.78 287.74 L237.16 287.97 L237.53 288.59 L237.91 289.00 L238.28 289.42 L238.66 289.20 L239.03 288.82 L239.41 288.18 L239.78 288.15 L240.16 288.37 L240.53 288.19 L240.91 287.91 L241.28 286.98 L241.66 285.91 L242.03 285.16 L242.41 284.81 L242.78 284.72 L243.16 284.81 L243.53 285.20 L243.91 284.79 L244.28 284.17 L244.66 284.17 L245.03 282.87 L245.41 282.22 L245.78 281.95 L246.16 281.21 L246.53 281.63 L246.91 281.99 L247.28 282.25 L247.66 282.17 L248.03 281.72 L248.41 280.29 L248.78 278.27 L249.16 276.24 L249.53 273.84 L249.91 272.08 L250.28 270.87 L250.66 269.41 L251.03 268.54 L251.41 268.13 L251.78 267.69 L252.16 267.88 L252.53 268.08 L252.91 267.99 L253.28 268.25 L253.66 268.79 L254.03 269.42 L254.41 270.57 L254.78 271.79 L255.16 272.41 L255.53 273.29 L255.91 274.39 L256.28 274.64 L256.66 275.10 L257.03 275.19 L257.41 275.26 L257.78 275.66 L258.16 276.20 L258.53 276.50 L258.91 276.44 L259.28 276.53 L259.66 276.07 L260.03 276.59 L260.41 277.13 L260.78 276.90 L261.16 277.38 L261.53 277.04 L261.91 276.66 L262.28 276.93 L262.66 276.34 L263.03 275.89 L263.41 275.78 L263.78 275.27 L264.16 274.96 L264.53 274.29 L264.91 273.02 L265.28 272.24 L265.66 271.95 L266.03 271.48 L266.41 270.71 L266.78 269.95 L267.16 268.21 L267.53 266.47 L267.91 265.19 L268.28 263.69 L268.66 262.44 L269.03 261.27 L269.41 260.21 L269.78 259.21 L270.16 258.39 L270.53 258.19 L270.91 258.00 L271.28 258.25 L271.66 258.99 L272.03 259.64 L272.41 260.24 L272.78 260.87 L273.16 261.72 L273.53 262.15 L273.91 262.75 L274.28 262.64 L274.66 262.33 L275.03 262.55 L275.41 262.76 L275.78 262.81 L276.16 262.57 L276.53 262.02 L276.91 260.74 L277.28 260.02 L277.66 259.31 L278.03 258.86 L278.41 258.59 L278.78 257.81 L279.16 257.51 L279.53 257.22 L279.91 257.09 L280.28 257.64 L280.66 257.61 L281.03 257.09 L281.41 256.78 L281.78 255.59 L282.16 254.54 L282.53 253.82 L282.91 253.19 L283.28 252.89 L283.66 252.63 L284.03 252.01 L284.41 251.32 L284.78 251.25 L285.16 250.77 L285.53 251.15 L285.91 250.87 L286.28 250.12 L286.66 249.85 L287.03 249.24 L287.41 248.70 L287.78 247.81 L288.16 247.42 L288.53 247.09 L288.91 247.33 L289.28 248.59 L289.66 248.97 L290.03 248.91 L290.41 248.89 L290.78 248.21 L291.16 248.21 L291.53 247.75 L291.91 247.19 L292.28 246.14 L292.66 245.88 L293.03 246.62 L293.41 248.07 L293.78 250.92 L294.16 252.54 L294.53 253.73 L294.91 254.22 L295.28 253.92 L295.66 253.92 L296.03 254.46 L296.41 255.11 L296.78 255.86 L297.16 256.50 L297.53 256.99 L297.91 257.43 L298.28 257.53 L298.66 257.61 L299.03 257.04 L299.41 255.93 L299.78 255.44 L300.16 254.78 L300.53 253.91 L300.91 253.74 L301.28 253.02 L301.66 251.82 L302.03 251.61 L302.41 251.01 L302.78 250.71 L303.16 250.99 L303.53 250.74 L303.91 250.31 L304.28 250.31 L304.66 250.42 L305.03 250.60 L305.41 251.41 L305.78 251.83 L306.16 252.51 L306.53 253.13 L306.91 253.61 L307.28 253.37 L307.66 252.92 L308.03 252.81 L308.41 252.80 L308.78 252.97 L309.16 252.85 L309.53 252.74 L309.91 251.91 L310.28 251.45 L310.66 251.29 L311.03 250.36 L311.41 249.92 L311.78 248.91 L312.16 247.64 L312.53 246.60 L312.91 245.37 L313.28 244.81 L313.66 244.61 L314.03 243.85 L314.41 242.80 L314.78 241.64 L315.16 239.65 L315.53 238.43 L315.91 237.50 L316.28 236.16 L316.66 235.23 L317.03 233.56 L317.41 232.14 L317.78 230.53 L318.16 228.89 L318.53 227.87 L318.91 226.60 L319.28 226.16 L319.66 225.66 L320.03 225.00 L320.41 224.57 L320.78 224.28 L321.16 223.90 L321.53 223.76 L321.91 223.68 L322.28 223.12 L322.66 222.39 L323.03 222.58 L323.41 222.96 L323.78 222.65 L324.16 222.96 L324.53 222.67 L324.91 222.32 L325.28 223.00 L325.66 223.42 L326.03 223.41 L326.41 223.39 L326.78 223.69 L327.16 223.79 L327.53 223.97 L327.91 223.89 L328.28 222.76 L328.66 221.99 L329.03 221.21 L329.41 220.45 L329.78 219.92 L330.16 219.00 L330.53 218.10 L330.91 217.07 L331.28 216.12 L331.66 215.44 L332.03 214.93 L332.41 214.49 L332.78 214.34 L333.16 213.47 L333.53 212.15 L333.91 210.02 L334.28 208.58 L334.66 207.72 L335.03 207.51 L335.41 208.56 L335.78 208.77 L336.16 209.78 L336.53 210.94 L336.91 211.77 L337.28 213.69 L337.66 215.96 L338.03 217.56 L338.41 219.22 L338.78 219.57 L339.16 218.65 L339.53 217.59 L339.91 216.32 L340.28 214.85 L340.66 213.63 L341.03 212.27 L341.41 210.92 L341.78 209.59 L342.16 208.22 L342.53 207.70 L342.91 206.97 L343.28 206.40 L343.66 205.45 L344.03 203.96 L344.41 202.89 L344.78 202.43 L345.16 202.42 L345.53 202.57 L345.91 202.36 L346.28 202.10 L346.66 201.43 L347.03 200.46 L347.41 199.85 L347.78 198.87 L348.16 198.26 L348.53 198.07 L348.91 198.01 L349.28 198.65 L349.66 199.69 L350.03 200.54 L350.41 201.67 L350.78 202.65 L351.16 203.35 L351.53 204.78 L351.91 205.74 L352.28 206.08 L352.66 206.28 L353.03 205.69 L353.41 204.17 L353.78 202.59 L354.16 200.38 L354.53 198.62 L354.91 196.86 L355.28 195.31 L355.66 193.77 L356.03 191.83 L356.41 190.87 L356.78 188.65 L357.16 186.96 L357.53 185.46 L357.91 183.60 L358.28 182.74 L358.66 182.55 L359.03 181.85 L359.41 180.66 L359.78 180.09 L360.16 178.39 L360.53 177.53 L360.91 177.08 L361.28 176.60 L361.66 177.34 L362.03 177.80 L362.41 178.38 L362.78 178.71 L363.16 179.35 L363.53 180.30 L363.91 181.37 L364.28 182.99 L364.66 184.02 L365.03 184.91 L365.41 185.35 L365.78 185.45 L366.16 185.47 L366.53 185.12 L366.91 185.16 L367.28 183.91 L367.66 182.46 L368.03 181.03 L368.41 180.10 L368.78 179.36 L369.16 178.22 L369.53 176.98 L369.91 175.42 L370.28 174.35 L370.66 173.76 L371.03 172.80 L371.41 171.84 L371.78 171.09 L372.16 170.27 L372.53 169.76 L372.91 168.90 L373.28 168.99 L373.66 169.31 L374.03 169.92 L374.41 171.21 L374.78 172.19 L375.16 172.32 L375.53 171.85 L375.91 170.60 L376.28 168.47 L376.66 166.81 L377.03 165.59 L377.41 165.98 L377.78 167.44 L378.16 169.55 L378.53 172.33 L378.91 174.73 L379.28 177.05 L379.66 179.29 L380.03 181.63 L380.41 183.91 L380.78 186.31 L381.16 188.57 L381.53 190.32 L381.91 189.69 L382.28 187.29 L382.66 183.10 L383.03 178.02 L383.41 174.06 L383.78 170.18 L384.16 166.65 L384.53 163.22 L384.91 159.71 L385.28 156.10 L385.66 153.07 L386.03 150.45 L386.41 147.95 L386.78 146.34 L387.16 145.35 L387.53 144.88 L387.91 145.24 L388.28 146.05 L388.66 146.74 L389.03 147.21 L389.41 146.97 L389.78 146.11 L390.16 144.90 L390.53 142.86 L390.91 141.07 L391.28 139.91 L391.66 139.16 L392.03 139.60 L392.41 140.62 L392.78 141.54 L393.16 142.92 L393.53 142.55 L393.91 141.47 L394.28 139.51 L394.66 137.24 L395.03 136.72 L395.41 135.50 L395.78 135.47 L396.16 135.67 L396.53 135.53 L396.91 136.62 L397.28 136.52 L397.66 136.26 L398.03 135.74 L398.41 134.58 L398.78 133.77 L399.16 132.83 L399.53 131.96 L399.91 131.64 L400.28 131.72 L400.66 131.22 L401.03 131.12 L401.41 130.44 L401.78 129.36 L402.16 127.72 L402.53 125.18 L402.91 122.53 L403.28 119.60 L403.66 117.29 L404.03 115.28 L404.41 112.55 L404.78 109.41 L405.16 106.59 L405.53 103.93 L405.91 101.85 L406.28 100.23 L406.66 97.66 L407.03 94.41 L407.41 91.39 L407.78 88.02 L408.16 84.69 L408.53 82.02 L408.91 80.93 L409.28 81.61 L409.66 83.53 L410.03 87.06 L410.41 91.26 L410.78 96.08 L411.16 102.54 L411.53 108.60 L411.91 113.06 L412.28 117.00 L412.66 118.21 L413.03 117.47 L413.41 115.29 L413.78 111.25 L414.16 107.53 L414.53 103.98 L414.91 100.67 L415.28 97.81 L415.66 95.46 L416.03 93.99 L416.41 93.64 L416.78 94.14 L417.16 95.03 L417.53 96.03 L417.91 96.80 L418.28 97.64 L418.66 98.26 L419.03 99.62 L419.41 101.97 L419.78 104.80 L420.16 108.07 L420.53 111.06 L420.91 114.04 L421.28 116.78 L421.66 119.79 L422.03 122.93 L422.41 125.82 L422.78 129.19 L423.16 132.14 L423.53 135.00 L423.91 137.60 L424.28 139.61 L424.66 142.24 L425.03 144.78 L425.41 146.09 L425.78 146.34 L426.16 145.24 L426.53 143.65 L426.91 144.00 L427.28 145.53 L427.66 148.55 L428.03 152.98 L428.41 157.86 L428.78 163.10 L429.16 167.78 L429.53 171.08 L429.91 171.64 L430.28 169.90 L430.66 166.98 L431.03 163.07 L431.41 159.89 L431.78 158.22 L432.16 156.76 L432.53 155.85 L432.91 155.27 L433.28 154.94 L433.66 155.68 L434.03 157.00 L434.41 158.92 L434.78 160.52 L435.16 161.77 L435.53 162.97 L435.91 164.21 L436.28 166.35 L436.66 168.40 L437.03 171.28 L437.41 174.71 L437.78 178.03 L438.16 182.03 L438.53 186.07 L438.91 189.01 L439.28 189.98 L439.66 188.79 L440.03 185.00 L440.41 181.16 L440.78 177.52 L441.16 174.29 L441.53 171.62 L441.91 168.55 L442.28 165.79 L442.66 163.78 L443.03 162.75 L443.41 161.98 L443.78 161.72 L444.16 161.33 L444.53 161.85 L444.91 162.74 L445.28 163.75 L445.66 165.57 L446.03 166.75 L446.41 167.96 L446.78 169.52 L447.16 170.90 L447.53 171.95 L447.91 172.91 L448.28 173.83 L448.66 174.14 L449.03 174.19 L449.41 174.02 L449.78 173.62 L450.16 173.81 L450.53 175.07 L450.91 176.84 L451.28 178.39 L451.66 180.35 L452.03 182.05 L452.41 184.25 L452.78 186.95 L453.16 189.44 L453.53 192.59 L453.91 194.72 L454.28 196.65 L454.66 198.16 L455.03 198.63 L455.41 199.54 L455.78 200.87 L456.16 201.63 L456.53 201.65 L456.91 201.05 L457.28 200.87 L457.66 201.70 L458.03 204.03 L458.41 207.41 L458.78 209.50 L459.16 210.37 L459.53 209.36 L459.91 206.41 L460.28 203.00 L460.66 199.96 L461.03 197.56 L461.41 195.50 L461.78 194.08 L462.16 192.96 L462.53 192.40 L462.91 192.75 L463.28 193.16 L463.66 193.77 L464.03 194.20 L464.41 195.39 L464.78 196.93 L465.16 197.96 L465.53 199.68 L465.91 200.80 L466.28 200.78 L466.66 201.37 L467.03 201.01 L467.41 200.45 L467.78 199.70 L468.16 198.33 L468.53 196.88 L468.91 194.96 L469.28 193.64 L469.66 192.34 L470.03 190.42 L470.41 188.35 L470.78 186.19 L471.16 183.96 L471.53 182.38 L471.91 181.30 L472.28 180.56 L472.66 179.82 L473.03 179.01 L473.41 178.04 L473.78 177.39 L474.16 176.85 L474.53 176.35 L474.91 175.66 L475.28 174.99 L475.66 173.81 L476.03 172.91 L476.41 172.37 L476.78 171.14 L477.16 170.44 L477.53 169.15 L477.91 168.05 L478.28 167.31 L478.66 166.09 L479.03 165.85 L479.41 165.17 L479.78 165.05 L480.16 165.08 L480.53 164.67 L480.91 164.52 L481.28 163.72 L481.66 163.27 L482.03 162.61 L482.41 161.95 L482.78 161.20 L483.16 160.24 L483.53 158.62 L483.91 157.73 L484.28 157.31 L484.66 156.80 L485.03 157.70 L485.41 158.27 L485.78 159.12 L486.16 160.00 L486.53 161.09 L486.91 161.72 L487.28 162.66 L487.66 163.64 L488.03 164.16 L488.41 164.65 L488.78 164.26 L489.16 164.70 L489.53 165.21 L489.91 165.93 L490.28 166.55 L490.66 165.97 L491.03 164.47 L491.41 162.76 L491.78 161.47 L492.16 161.17 L492.53 162.36 L492.91 164.21 L493.28 166.23 L493.66 168.36 L494.03 170.00 L494.41 171.43 L494.78 172.54 L495.16 173.06 L495.53 172.61 L495.91 171.15 L496.28 170.04 L496.66 168.74 L497.03 168.10 L497.41 167.26 L497.78 165.92 L498.16 164.77 L498.53 163.07 L498.91 162.09 L499.28 161.41 L499.66 160.87 L500.03 160.93 L500.41 160.45 L500.78 159.31 L501.16 158.32 L501.53 157.44 L501.91 157.05 L502.28 156.82 L502.66 156.86 L503.03 157.07 L503.41 157.62 L503.78 158.41 L504.16 158.96 L504.53 159.52 L504.91 159.79 L505.28 159.86 L505.66 160.22 L506.03 160.63 L506.41 161.37 L506.78 162.88 L507.16 163.82 L507.53 164.61 L507.91 165.33 L508.28 165.72 L508.66 166.34 L509.03 166.19 L509.41 166.15 L509.78 165.83 L510.16 164.97 L510.53 164.34 L510.91 163.55 L511.28 162.34 L511.66 161.15 L512.03 159.78 L512.41 158.46 L512.78 157.93 L513.16 157.55 L513.53 157.48 L513.91 157.00 L514.28 156.35 L514.66 155.56 L515.03 155.51 L515.41 155.67 L515.78 155.64 L516.16 156.05 L516.53 156.00 L516.91 156.60 L517.28 157.75 L517.66 158.39 L518.03 159.34 L518.41 159.66 L518.78 159.02 L519.16 158.13 L519.53 156.57 L519.91 154.86 L520.28 153.82 L520.66 153.22 L521.03 152.26 L521.41 151.77 L521.78 150.78 L522.16 150.40 L522.53 150.25 L522.91 149.80 L523.28 149.67 L523.66 149.14 L524.03 149.46 L524.41 149.87 L524.78 150.28 L525.16 150.53 L525.53 149.71 L525.91 148.82 L526.28 147.98 L526.66 147.28 L527.03 147.67 L527.41 148.10 L527.78 148.68 L528.16 149.36 L528.53 149.46 L528.91 150.35 L529.28 151.80 L529.66 153.30 L530.03 154.76 L530.41 155.03 L530.78 155.30 L531.16 156.13 L531.53 157.26 L531.91 159.13 L532.28 160.69 L532.66 161.52 L533.03 161.61 L533.41 161.40 L533.78 160.65 L534.16 159.15 L534.53 158.02 L534.91 156.33 L535.28 154.77 L535.66 154.00 L536.03 152.85 L536.41 151.56 L536.78 150.77 L537.16 149.81 L537.53 149.53 L537.91 149.09 L538.28 148.34 L538.66 148.04 L539.03 147.72 L539.41 147.61 L539.78 147.17 L540.16 146.22 L540.53 145.38 L540.91 145.29 L541.28 145.24 L541.66 145.00 L542.03 144.95 L542.41 144.60 L542.78 144.56 L543.16 144.85 L543.53 145.03 L543.91 145.30 L544.28 144.94 L544.66 144.70 L545.03 144.61 L545.41 144.19 L545.78 144.35 L546.16 144.73 L546.53 144.77 L546.91 144.90 L547.28 144.20 L547.66 142.83 L548.03 141.50 L548.41 140.46 L548.78 140.69 L549.16 140.63 L549.53 140.61 L549.91 140.52 L550.28 139.17 L550.66 138.35 L551.03 137.49 L551.41 136.53 L551.78 136.29 L552.16 136.50 L552.53 136.65 L552.91 137.52 L553.28 138.51 L553.66 139.29 L554.03 139.99 L554.41 139.59 L554.78 138.83 L555.16 138.02 L555.53 136.80 L555.91 135.78 L556.28 135.02 L556.66 133.91 L557.03 133.66 L557.41 133.57 L557.78 134.08 L558.16 135.04 L558.53 135.60 L558.91 136.90 L559.28 137.08 L559.66 137.55 L560.03 137.99 L560.41 138.54 L560.78 139.59 L561.16 141.12 L561.53 143.42 L561.91 145.15 L562.28 147.09 L562.66 149.08 L563.03 150.29 L563.41 151.38 L563.78 152.10 L564.16 151.85 L564.53 151.40 L564.91 150.68 L565.28 150.26 L565.66 149.26 L566.03 148.30 L566.41 147.68 L566.78 146.20 L567.16 145.45 L567.53 145.28 L567.91 144.50 L568.28 144.35 L568.66 144.13 L569.03 143.41 L569.41 143.92 L569.78 144.35 L570.16 145.38 L570.53 147.15 L570.91 147.78 L571.28 148.51 L571.66 147.91 L572.03 146.91 L572.41 145.98 L572.78 145.28 L573.16 145.52 L573.53 145.91 L573.91 146.86 L574.28 148.51 L574.66 150.83 L575.03 154.08 L575.41 158.32 L575.78 163.39 L576.16 168.58 L576.53 174.12 L576.91 180.59 L577.28 186.36 L577.66 190.49 L578.03 192.32 L578.41 190.91 L578.78 187.83 L579.16 185.10 L579.53 183.18 L579.91 182.34 L580.28 182.36 L580.66 182.74 L581.03 183.27 L581.41 184.94 L581.78 187.03 L582.16 189.34 L582.53 191.61 L582.91 193.47 L583.28 196.26 L583.66 197.81 L584.03 198.28 L584.41 197.25 L584.78 193.84 L585.16 190.48 L585.53 186.88 L585.91 183.58 L586.28 181.41 L586.66 179.34 L587.03 178.21 L587.41 176.80 L587.78 174.97 L588.16 173.78 L588.53 172.71 L588.91 171.76 L589.28 170.95 L589.66 169.99 L590.03 168.48 L590.41 167.60 L590.78 166.21 L591.16 164.70 L591.53 163.70 L591.91 161.96 L592.28 160.98 L592.66 160.08 L593.03 158.89 L593.41 158.54 L593.78 158.20 L594.16 157.80 L594.53 157.93 L594.91 157.43 L595.28 156.46 L595.66 156.52 L596.03 156.45 L596.41 157.21 L596.78 157.86 L597.16 157.98 L597.53 157.76 L597.91 157.13 L598.28 156.45 L598.66 155.58 L599.03 154.39 L599.41 153.04 L599.78 151.78 L600.16 151.08 L600.53 150.68 L600.91 150.38 L601.28 150.21 L601.66 149.48 L602.03 148.73 L602.41 148.26 L602.78 147.81 L603.16 147.21 L603.53 146.60 L603.91 145.94 L604.28 145.17 L604.66 144.52 L605.03 144.19 L605.41 144.25 L605.78 144.30 L606.16 144.95 L606.53 145.95 L606.91 147.30 L607.28 148.78 L607.66 150.04 L608.03 151.33 L608.41 152.16 L608.78 153.68 L609.16 154.86 L609.53 156.10 L609.91 156.71 L610.28 156.41 L610.66 156.66 L611.03 156.42 L611.41 156.46 L611.78 156.63 L612.16 156.13 L612.53 154.98 L612.91 154.03 L613.28 152.81 L613.66 151.75 L614.03 150.98 L614.41 149.20 L614.78 147.50 L615.16 146.06 L615.53 144.63 L615.91 143.70 L616.28 143.06 L616.66 141.85 L617.03 140.74 L617.41 139.98 L617.78 139.21 L618.16 138.97 L618.53 138.60 L618.91 138.49 L619.28 138.47 L619.66 138.11 L620.03 137.83 L620.41 136.98 L620.78 135.97 L621.16 134.91 L621.53 133.89 L621.91 133.27 L622.28 132.65 L622.66 132.67 L623.03 132.82 L623.41 132.58 L623.78 131.93 L624.16 131.01 L624.53 130.19 L624.91 129.54 L625.28 129.34 L625.66 128.59 L626.03 128.45 L626.41 128.69 L626.78 129.90 L627.16 131.21 L627.53 131.86 L627.91 132.79 L628.28 132.94 L628.66 133.53 L629.03 134.34 L629.41 134.89 L629.78 136.38 L630.16 138.38 L630.53 141.12 L630.91 143.83 L631.28 145.78 L631.66 146.92 L632.03 147.70 L632.41 147.98 L632.78 148.44 L633.16 149.15 L633.53 149.15 L633.91 148.52 L634.28 147.33 L634.66 145.23 L635.03 142.80 L635.41 141.08 L635.78 140.11 L636.16 140.33 L636.53 140.69 L636.91 141.06 L637.28 140.65 L637.66 140.28 L638.03 139.92 L638.41 139.03 L638.78 137.51 L639.16 135.30 L639.53 133.74 L639.91 133.12 L640.28 132.72 L640.66 132.04 L641.03 130.80 L641.41 128.79 L641.78 127.76 L642.16 126.80 L642.53 126.39 L642.91 125.86 L643.28 124.70 L643.66 124.30 L644.03 123.79 L644.41 124.64 L644.78 126.04 L645.16 127.08 L645.53 128.55 L645.91 129.80 L646.28 130.37 L646.66 131.87 L647.03 132.89 L647.41 133.33 L647.78 133.24 L648.16 131.97 L648.53 130.44 L648.91 129.22 L649.28 128.21 L649.66 127.22 L650.03 125.90 L650.41 124.56 L650.78 124.03 L651.16 123.16 L651.53 122.72 L651.91 122.30 L652.28 122.07 L652.66 122.50 L653.03 122.99 L653.41 123.26 L653.78 123.42 L654.16 123.81 L654.53 124.69 L654.91 125.93 L655.28 127.68 L655.66 129.19 L656.03 129.94 L656.41 130.74 L656.78 130.69 L657.16 130.16 L657.53 129.39 L657.91 127.61 L658.28 125.81 L658.66 124.76 L659.03 123.84 L659.41 123.17 L659.78 122.78 L660.16 122.06 L660.53 121.78 L660.91 121.88 L661.28 121.99 L661.66 121.51 L662.03 121.13 L662.41 120.25 L662.78 119.35 L663.16 118.84 L663.53 118.02 L663.91 117.73 L664.28 117.01 L664.66 116.55 L665.03 116.16 L665.41 115.44 L665.78 114.67 L666.16 113.53 L666.53 112.34 L666.91 111.40 L667.28 110.82 L667.66 111.22 L668.03 111.41 L668.41 111.44 L668.78 110.98 L669.16 109.56 L669.53 108.46 L669.91 107.62 L670.28 106.98 L670.66 107.06 L671.03 106.77 L671.41 106.57 L671.78 105.83 L672.16 104.75 L672.53 104.18 L672.91 103.38 L673.28 103.48 L673.66 103.29 L674.03 102.87 L674.41 101.81 L674.78 100.63 L675.16 99.03 L675.53 98.03 L675.91 97.73 L676.28 97.34 L676.66 97.21 L677.03 96.55 L677.41 96.42 L677.78 96.68 L678.16 96.82 L678.53 97.26 L678.91 96.57 L679.28 95.41 L679.66 94.98 L680.03 94.46 L680.41 94.71 L680.78 95.61 L681.16 97.16 L681.53 98.15 L681.91 98.99 L682.28 99.64 L682.66 99.33 L683.03 99.75 L683.41 100.23 L683.78 99.68 L684.16 98.91 L684.53 97.54 L684.91 95.94 L685.28 94.63 L685.66 93.11 L686.03 91.54 L686.41 90.59 L686.78 90.32 L687.16 90.40 L687.53 90.17 L687.91 89.61 L688.28 88.90 L688.66 88.00 L689.03 87.81 L689.41 87.94 L689.78 88.36 L690.16 89.00 L690.53 89.81 L690.91 89.98 L691.28 90.23 L691.66 90.80 L692.03 91.63 L692.41 92.74 L692.78 93.48 L693.16 93.60 L693.53 92.82 L693.91 92.24 L694.28 91.28 L694.66 90.30 L695.03 90.06 L695.41 89.27 L695.78 87.98 L696.16 87.11 L696.53 86.06 L696.91 85.63 L697.28 86.26 L697.66 86.77 L698.03 86.70 L698.41 86.11 L698.78 85.50 L699.16 84.94 L699.53 84.35 L699.91 83.73 L700.28 82.86 L700.66 81.97 L701.03 81.57 L701.41 81.10 L701.78 80.36 L702.16 80.06 L702.53 80.03 L702.91 79.98 L703.28 80.56 L703.66 80.71 L704.03 80.66 L704.41 80.86 L704.78 80.40 L705.16 80.05 L705.53 79.70 L705.91 78.83 L706.28 78.87 L706.66 79.11 L707.03 79.40 L707.41 80.37 L707.78 80.73 L708.16 80.83 L708.53 81.35 L708.91 82.34 L709.28 84.35 L709.66 86.41 L710.03 87.81 L710.41 87.53 L710.78 86.81 L711.16 86.03 L711.53 84.71 L711.91 84.19 L712.28 82.96 L712.66 81.43 L713.03 80.26 L713.41 79.29 L713.78 78.45 L714.16 78.11 L714.53 78.19 L714.91 78.51 L715.28 79.04 L715.66 79.83 L716.03 81.00 L716.41 82.57 L716.78 84.26 L717.16 86.20 L717.53 88.43 L717.91 90.47 L718.28 92.01 L718.66 92.32 L719.03 91.51 L719.41 90.16 L719.78 89.16 L720.16 88.08 L720.53 86.90 L720.91 85.77 L721.28 84.44 L721.66 83.24 L722.03 82.51 L722.41 82.07 L722.78 82.17 L723.16 82.42 L723.53 82.67 L723.91 83.17 L724.28 83.12 L724.66 83.66 L725.03 84.47 L725.41 84.79 L725.78 84.72 L726.16 84.08 L726.53 82.79 L726.91 81.35 L727.28 80.03 L727.66 79.19 L728.03 78.08 L728.41 77.18 L728.78 76.74 L729.16 76.30 L729.53 76.30 L729.91 76.51 L730.28 76.56 L730.66 76.66 L731.03 77.43 L731.41 77.63 L731.78 78.09 L732.16 77.96 L732.53 77.80 L732.91 78.20 L733.28 78.16 L733.66 77.80 L734.03 77.05 L734.41 76.14 L734.78 75.47 L735.16 75.18 L735.53 74.01 L735.91 72.56 L736.28 71.59 L736.66 70.21 L737.03 69.96 L737.41 70.10 L737.78 69.58 L738.16 69.55 L738.53 68.75 L738.91 67.18 L739.28 65.94 L739.66 64.83 L740.03 64.25 L740.41 64.42 L740.78 64.38 L741.16 64.32 L741.53 64.20 L741.91 63.69 L742.28 63.68 L742.66 63.41 L743.03 62.91 L743.41 62.36 L743.78 61.23 L744.16 60.75 L744.53 60.36 L744.91 59.75 L745.28 59.33 L745.66 58.61 L746.03 58.01 L746.41 58.22 L746.78 58.05 L747.16 58.04 L747.53 58.09 L747.91 57.41 L748.28 57.32 L748.66 57.02 L749.03 56.85 L749.41 56.76 L749.78 56.54 L750.16 55.73 L750.53 54.62 L750.91 54.13 L751.28 53.79 L751.66 53.76 L752.03 53.57 L752.41 53.25 L752.78 51.97 L753.16 50.85 L753.53 50.32 L753.91 49.57 L754.28 49.10 L754.66 48.18 L755.03 47.56 L755.41 46.72 L755.78 45.95 L756.16 45.73 L756.53 45.27 L756.91 44.48 L757.28 45.05 L757.66 46.08 L758.03 46.34 L758.41 47.41 L758.78 46.86 L759.16 46.17 L759.53 45.81 L759.91 45.78 L760.28 46.11 L760.66 46.26 L761.03 46.91 L761.41 46.48 L761.78 46.04 L762.16 45.28 L762.53 44.03 L762.91 42.84 L763.28 42.20 L763.66 41.83 L764.03 41.46 L764.41 41.84 L764.78 41.60 L765.16 41.50 L765.53 41.08 L765.91 40.44 L766.28 39.52 L766.66 38.61 L767.03 38.08 L767.41 37.29 L767.78 37.04 L768.16 36.54 L768.53 35.98 L768.91 35.34 L769.28 35.35 L769.66 35.81 L770.03 36.78 L770.41 38.28 L770.78 39.86" stroke="#000088" stroke-width="1.1" fill="none" stroke-linejoin="round"/>
<line x1="35.5" y1="435" x2="35.5" y2="985" stroke="#000" stroke-width="1" stroke-opacity="0.088"/>
<line x1="55.5" y1="435" x2="55.5" y2="985" stroke="#000" stroke-width="1" stroke-opacity="0.19"/>
<line x1="74.5" y1="435" x2="74.5" y2="985" stroke="#000" stroke-width="1" stroke-opacity="0.088"/>
<line x1="94.5" y1="435" x2="94.5" y2="985" stroke="#000" stroke-width="1" stroke-opacity="0.19"/>
<line x1="113.5" y1="435" x2="113.5" y2="985" stroke="#000" stroke-width="1" stroke-opacity="0.088"/>
<line x1="133.5" y1="435" x2="133.5" y2="985" stroke="#000" stroke-width="1" stroke-opacity="0.19"/>
<line x1="152.5" y1="435" x2="152.5" y2="985" stroke="#000" stroke-width="1" stroke-opacity="0.088"/>
<line x1="171.5" y1="435" x2="171.5" y2="985" stroke="#000" stroke-width="1" stroke-opacity="0.19"/>
<line x1="191.5" y1="435" x2="191.5" y2="985" stroke="#000" stroke-width="1" stroke-opacity="0.088"/>
<line x1="210.5" y1="435" x2="210.5" y2="985" stroke="#000" stroke-width="1" stroke-opacity="0.19"/>
<line x1="230.5" y1="435" x2="230.5" y2="985" stroke="#000" stroke-width="1" stroke-opacity="0.088"/>
<line x1="249.5" y1="435" x2="249.5" y2="985" stroke="#000" stroke-width="1" stroke-opacity="0.19"/>
<line x1="269.5" y1="435" x2="269.5" y2="985" stroke="#000" stroke-width="1" stroke-opacity="0.088"/>
<line x1="288.5" y1="435" x2="288.5" y2="985" stroke="#000" stroke-width="1" stroke-opacity="0.19"/>
<line x1="308.5" y1="435" x2="308.5" y2="985" stroke="#000" stroke-width="1" stroke-opacity="0.088"/>
<line x1="327.5" y1="435" x2="327.5" y2="985" stroke="#000" stroke-width="1" stroke-opacity="0.19"/>
<line x1="346.5" y1="435" x2="346.5" y2="985" stroke="#000" stroke-width="1" stroke-opacity="0.088"/>
<line x1="366.5" y1="435" x2="366.5" y2="985" stroke="#000" stroke-width="1" stroke-opacity="0.19"/>
<line x1="385.5" y1="435" x2="385.5" y2="985" stroke="#000" stroke-width="1" stroke-opacity="0.088"/>
<line x1="405.5" y1="435" x2="405.5" y2="985" stroke="#000" stroke-width="1" stroke-opacity="0.19"/>
<line x1="424.5" y1="435" x2="424.5" y2="985" stroke="#000" stroke-width="1" stroke-opacity="0.088"/>
<line x1="444.5" y1="435" x2="444.5" y2="985" stroke="#000" stroke-width="1" stroke-opacity="0.19"/>
<line x1="463.5" y1="435" x2="463.5" y2="985" stroke="#000" stroke-width="1" stroke-opacity="0.088"/>
<line x1="483.5" y1="435" x2="483.5" y2="985" stroke="#000" stroke-width="1" stroke-opacity="0.19"/>
<line x1="502.5" y1="435" x2="502.5" y2="985" stroke="#000" stroke-width="1" stroke-opacity="0.088"/>
<line x1="521.5" y1="435" x2="521.5" y2="985" stroke="#000" stroke-width="1" stroke-opacity="0.19"/>
<line x1="541.5" y1="435" x2="541.5" y2="985" stroke="#000" stroke-width="1" stroke-opacity="0.088"/>
<line x1="561.5" y1="435" x2="561.5" y2="985" stroke="#000" stroke-width="1" stroke-opacity="0.19"/>
<line x1="580.5" y1="435" x2="580.5" y2="985" stroke="#000" stroke-width="1" stroke-opacity="0.088"/>
<line x1="599.5" y1="435" x2="599.5" y2="985" stroke="#000" stroke-width="1" stroke-opacity="0.19"/>
<line x1="619.5" y1="435" x2="619.5" y2="985" stroke="#000" stroke-width="1" stroke-opacity="0.088"/>
<line x1="638.5" y1="435" x2="638.5" y2="985" stroke="#000" stroke-width="1" stroke-opacity="0.19"/>
<line x1="658.5" y1="435" x2="658.5" y2="985" stroke="#000" stroke-width="1" stroke-opacity="0.088"/>
<line x1="677.5" y1="435" x2="677.5" y2="985" stroke="#000" stroke-width="1" stroke-opacity="0.19"/>
<line x1="697.5" y1="435" x2="697.5" y2="985" stroke="#000" stroke-width="1" stroke-opacity="0.088"/>
<line x1="716.5" y1="435" x2="716.5" y2="985" stroke="#000" stroke-width="1" stroke-opacity="0.19"/>
<line x1="736.5" y1="435" x2="736.5" y2="985" stroke="#000" stroke-width="1" stroke-opacity="0.088"/>
<line x1="755.5" y1="435" x2="755.5" y2="985" stroke="#000" stroke-width="1" stroke-opacity="0.19"/>
<line x1="16" y1="438.5" x2="779" y2="438.5" stroke="#000" stroke-width="1" stroke-opacity="0.088"/>
<line x1="16" y1="472.5" x2="779" y2="472.5" stroke="#000" stroke-width="1" stroke-opacity="0.088"/>
<line x1="16" y1="490.5" x2="779" y2="490.5" stroke="#000" stroke-width="1" stroke-opacity="0.088"/>
<line x1="16" y1="507.5" x2="779" y2="507.5" stroke="#000" stroke-width="1" stroke-opacity="0.088"/>
<line x1="16" y1="542.5" x2="779" y2="542.5" stroke="#000" stroke-width="1" stroke-opacity="0.088"/>
<line x1="16" y1="560.5" x2="779" y2="560.5" stroke="#000" stroke-width="1" stroke-opacity="0.088"/>
<line x1="16" y1="585.5" x2="779" y2="585.5" stroke="#000" stroke-width="1" stroke-opacity="0.088"/>
<line x1="16" y1="616.5" x2="779" y2="616.5" stroke="#000" stroke-width="1" stroke-opacity="0.088"/>
<line x1="16" y1="632.5" x2="779" y2="632.5" stroke="#000" stroke-width="1" stroke-opacity="0.088"/>
<line x1="16" y1="647.5" x2="779" y2="647.5" stroke="#000" stroke-width="1" stroke-opacity="0.088"/>
<line x1="16" y1="679.5" x2="779" y2="679.5" stroke="#000" stroke-width="1" stroke-opacity="0.088"/>
<line x1="16" y1="694.5" x2="779" y2="694.5" stroke="#000" stroke-width="1" stroke-opacity="0.088"/>
<line x1="16" y1="724.5" x2="779" y2="724.5" stroke="#000" stroke-width="1" stroke-opacity="0.088"/>
<line x1="16" y1="755.5" x2="779" y2="755.5" stroke="#000" stroke-width="1" stroke-opacity="0.088"/>
<line x1="16" y1="770.5" x2="779" y2="770.5" stroke="#000" stroke-width="1" stroke-opacity="0.088"/>
<line x1="16" y1="786.5" x2="779" y2="786.5" stroke="#000" stroke-width="1" stroke-opacity="0.088"/>
<line x1="16" y1="817.5" x2="779" y2="817.5" stroke="#000" stroke-width="1" stroke-opacity="0.088"/>
<line x1="16" y1="832.5" x2="779" y2="832.5" stroke="#000" stroke-width="1" stroke-opacity="0.088"/>
<line x1="16" y1="862.5" x2="779" y2="862.5" stroke="#000" stroke-width="1" stroke-opacity="0.088"/>
<line x1="16" y1="892.5" x2="779" y2="892.5" stroke="#000" stroke-width="1" stroke-opacity="0.088"/>
<line x1="16" y1="908.5" x2="779" y2="908.5" stroke="#000" stroke-width="1" stroke-opacity="0.088"/>
<line x1="16" y1="923.5" x2="779" y2="923.5" stroke="#000" stroke-width="1" stroke-opacity="0.088"/>
<line x1="16" y1="953.5" x2="779" y2="953.5" stroke="#000" stroke-width="1" stroke-opacity="0.088"/>
<line x1="16" y1="969.5" x2="779" y2="969.5" stroke="#000" stroke-width="1" stroke-opacity="0.088"/>
<rect x="16.5" y="435.5" width="760" height="548" fill="none" stroke="#c0c0c0"/>
<line x1="16" y1="572.5" x2="776" y2="572.5" stroke="#c0c0c0" stroke-width="1" />
<line x1="16" y1="709.5" x2="776" y2="709.5" stroke="#c0c0c0" stroke-width="1" />
<line x1="16" y1="846.5" x2="776" y2="846.5" stroke="#c0c0c0" stroke-width="1" />
<rect x="17" y="436" width="114" height="13" fill="#fff"/>
<rect x="19" y="441" width="9" height="2" fill="#000"/>
<text transform="translate(32,446) scale(1.1,1)" font-size="10" textLength="88.2" lengthAdjust="spacing" class="b">$BPCOMPQ 39.77</text>
<text x="791.8" y="441.1" font-size="10" text-anchor="end" font-weight="normal" fill="#000" letter-spacing="0.4" class="a">80</text>
<text x="791.8" y="458.4" font-size="10" text-anchor="end" font-weight="normal" fill="#000" letter-spacing="0.4" class="a">70</text>
<text x="791.8" y="475.6" font-size="10" text-anchor="end" font-weight="normal" fill="#000" letter-spacing="0.4" class="a">60</text>
<text x="791.8" y="492.9" font-size="10" text-anchor="end" font-weight="normal" fill="#000" letter-spacing="0.4" class="a">50</text>
<text x="791.8" y="510.1" font-size="10" text-anchor="end" font-weight="normal" fill="#000" letter-spacing="0.4" class="a">40</text>
<text x="791.8" y="527.4" font-size="10" text-anchor="end" font-weight="normal" fill="#000" letter-spacing="0.4" class="a">30</text>
<text x="791.8" y="544.7" font-size="10" text-anchor="end" font-weight="normal" fill="#000" letter-spacing="0.4" class="a">20</text>
<text x="791.8" y="561.9" font-size="10" text-anchor="end" font-weight="normal" fill="#000" letter-spacing="0.4" class="a">10</text>
<path d="M327.6 516.4 L329.0 512.0 L331.0 511.0 L332.4 512.0 L333.6 507.0 L335.0 503.6 L336.4 510.0 L338.0 522.0 L339.6 512.0 L341.0 511.0 L342.4 514.0 L343.6 517.0 L345.0 514.0 L346.4 515.0 L348.0 511.0 L349.6 510.6 L351.0 518.0 L352.6 521.4 L354.0 512.0 L355.6 505.6 L357.0 502.0 L358.6 500.0 L360.0 494.0 L361.6 491.6 L363.0 505.0 L364.4 508.0 L366.0 517.0 L367.6 509.0 L369.0 499.0 L370.6 495.0 L372.4 494.0 L374.0 506.0 L375.6 514.0 L377.0 510.0 L378.4 528.0 L379.4 546.0 L380.4 534.0 L381.0 545.6 L382.0 524.0 L383.0 500.0 L384.4 495.0 L385.2 501.0 L386.0 493.0 L387.4 494.0 L388.6 509.0 L390.0 515.0 L391.6 509.0 L393.0 498.0 L394.4 497.0 L395.6 489.0 L397.0 498.0 L398.4 504.0 L399.6 503.0 L401.0 516.0 L402.4 506.0 L404.0 498.0 L405.4 501.0 L406.6 492.0 L408.0 491.0 L409.0 506.0 L410.0 520.0 L410.6 538.0 L411.6 514.0 L412.4 532.0 L413.6 506.0 L415.0 500.0 L416.0 510.0 L417.4 497.0 L418.4 502.0 L419.4 516.0 L420.0 528.0 L421.0 510.0 L422.0 524.0 L423.2 535.0 L424.0 518.0 L425.0 498.0 L426.0 484.0 L427.0 496.0 L428.0 510.0 L429.2 523.0 L430.4 498.0 L431.6 486.0 L432.2 481.0 L433.2 490.0 L434.4 494.0 L435.6 500.0 L437.0 508.0 L438.0 516.0 L438.8 540.0 L439.6 516.0 L441.0 506.0 L442.4 492.0 L443.6 486.0 L444.6 481.0 L445.6 496.0 L446.6 505.0 L448.0 484.0 L449.2 482.0 L450.4 486.0 L451.6 494.0 L453.0 506.0 L454.4 514.0 L455.2 531.0 L456.4 512.0 L457.4 518.0 L458.6 533.0 L460.0 514.0 L461.2 500.0 L462.0 493.0 L463.2 497.0 L464.4 496.0 L466.0 510.0 L467.2 514.0 L468.6 498.0 L470.0 480.0 L471.2 464.0 L472.4 454.0 L474.0 451.0 L475.4 459.0 L476.4 446.0 L477.4 444.0 L478.4 449.0 L480.0 452.0 L481.6 455.0 L482.4 460.0 L483.6 443.0 L484.8 450.0 L486.0 460.0 L487.2 472.0 L488.4 468.0 L489.6 486.0 L490.6 501.0 L492.0 495.0 L493.2 504.0 L494.6 518.0 L496.0 508.0 L497.6 498.0 L499.0 492.0 L500.4 476.0 L502.0 471.0 L503.0 481.0 L504.4 483.0 L506.0 492.0 L507.4 504.0 L508.6 513.0 L510.0 506.0 L511.6 494.0 L513.2 481.0 L514.6 484.0 L516.0 486.0 L517.6 501.0 L519.0 494.0 L520.4 488.0 L522.0 483.0 L523.6 478.0 L525.2 481.0 L526.8 476.0 L528.4 478.0 L529.6 492.0 L531.0 504.0 L532.6 514.0 L534.0 506.0 L535.4 498.0 L537.0 484.0 L538.4 478.0 L540.0 475.0 L541.6 477.0 L543.4 470.0 L544.6 479.0 L545.6 485.0 L547.0 478.0 L548.4 479.0 L550.0 482.0 L551.2 483.0 L552.4 496.0 L553.6 516.0 L554.8 498.0 L556.0 490.0 L557.2 498.0 L558.4 516.0 L559.6 522.0 L560.6 518.0 L561.6 543.0 L562.6 530.0 L563.6 526.0 L564.6 532.0 L566.0 516.0 L567.2 507.0 L568.4 505.0 L569.6 514.0 L570.6 532.0 L571.6 516.0 L572.6 504.0 L574.0 506.0 L574.8 526.0 L575.6 565.0 L576.4 536.0 L577.2 560.0 L578.4 526.0 L579.4 510.0 L580.4 499.0 L581.4 518.0 L582.6 534.0 L583.6 547.0 L584.6 510.0 L585.6 488.0 L586.8 472.0 L588.0 464.0 L589.0 473.0 L590.0 460.0 L591.6 454.0 L593.0 451.0 L594.0 448.0 L595.2 455.0 L596.4 469.0 L597.6 477.0 L598.8 476.0 L600.0 465.0 L601.4 476.0 L602.6 467.0 L604.0 458.0 L605.4 450.0 L606.6 480.0 L608.0 492.0 L609.6 503.0 L610.6 492.0 L612.0 503.0 L613.4 490.0 L614.6 482.0 L616.0 470.0 L617.4 468.0 L618.8 460.0 L620.0 456.0 L621.4 460.0 L622.6 462.0 L624.0 472.0 L625.2 465.0 L626.4 473.0 L627.6 478.0 L628.8 489.0 L630.0 482.0 L631.2 534.0 L632.4 518.0 L633.4 532.0 L634.4 490.0 L635.6 494.0 L636.6 506.0 L638.0 492.0 L639.2 474.0 L640.4 467.0 L641.6 466.0 L643.0 465.0 L644.4 474.0 L645.6 482.0 L646.6 496.0 L648.0 490.0 L649.2 487.0 L650.6 483.0 L652.0 476.0 L653.2 474.0 L654.4 483.0 L655.6 496.0 L657.0 486.0 L658.4 472.0 L659.6 465.0 L661.0 463.0 L662.4 461.0 L663.6 468.0 L665.0 460.0 L666.4 465.0 L667.6 458.0 L669.0 452.0 L670.0 460.0 L671.4 457.0 L672.8 455.0 L674.0 459.0 L675.4 458.0 L676.6 461.0 L678.0 451.0 L679.2 471.0 L680.4 459.0 L681.6 469.0 L683.0 484.0 L684.4 495.0 L685.6 478.0 L687.0 469.0 L688.4 482.0 L689.6 476.0 L691.0 479.0 L692.4 506.0 L693.6 490.0 L694.8 481.0 L696.0 483.0 L697.4 480.0 L698.6 485.0 L700.0 473.0 L701.4 477.0 L702.6 472.0 L704.0 478.0 L705.2 471.0 L706.6 480.0 L708.0 485.0 L709.2 504.0 L710.0 515.0 L711.0 503.0 L711.6 517.0 L712.8 496.0 L714.0 486.0 L715.2 492.0 L716.4 496.0 L717.4 527.0 L718.6 533.0 L719.4 496.0 L720.6 490.0 L722.0 481.0 L723.2 492.0 L724.4 480.0 L725.6 492.0 L726.8 482.0 L728.0 470.0 L729.4 467.0 L730.8 466.0 L732.0 473.0 L732.8 487.0 L733.6 466.0 L735.0 465.0 L736.4 463.0 L738.0 462.0 L739.2 465.0 L740.4 470.0 L741.6 473.0 L742.8 468.0 L744.0 474.0 L745.4 467.0 L746.6 471.0 L748.0 481.0 L749.2 472.0 L750.6 465.0 L751.6 472.0 L752.8 467.0 L754.0 470.0 L755.2 463.0 L756.2 456.0 L757.2 489.0 L758.4 469.0 L759.6 486.0 L760.8 477.0 L762.0 480.0 L763.6 466.0 L765.0 473.0 L766.2 471.0 L767.2 482.0 L768.4 473.0 L769.4 479.0 L770.0 496.0 L770.8 508.0" stroke="#fff" stroke-opacity="0.85" stroke-width="3" fill="none" stroke-linejoin="round"/>
<path d="M327.6 516.4 L329.0 512.0 L331.0 511.0 L332.4 512.0 L333.6 507.0 L335.0 503.6 L336.4 510.0 L338.0 522.0 L339.6 512.0 L341.0 511.0 L342.4 514.0 L343.6 517.0 L345.0 514.0 L346.4 515.0 L348.0 511.0 L349.6 510.6 L351.0 518.0 L352.6 521.4 L354.0 512.0 L355.6 505.6 L357.0 502.0 L358.6 500.0 L360.0 494.0 L361.6 491.6 L363.0 505.0 L364.4 508.0 L366.0 517.0 L367.6 509.0 L369.0 499.0 L370.6 495.0 L372.4 494.0 L374.0 506.0 L375.6 514.0 L377.0 510.0 L378.4 528.0 L379.4 546.0 L380.4 534.0 L381.0 545.6 L382.0 524.0 L383.0 500.0 L384.4 495.0 L385.2 501.0 L386.0 493.0 L387.4 494.0 L388.6 509.0 L390.0 515.0 L391.6 509.0 L393.0 498.0 L394.4 497.0 L395.6 489.0 L397.0 498.0 L398.4 504.0 L399.6 503.0 L401.0 516.0 L402.4 506.0 L404.0 498.0 L405.4 501.0 L406.6 492.0 L408.0 491.0 L409.0 506.0 L410.0 520.0 L410.6 538.0 L411.6 514.0 L412.4 532.0 L413.6 506.0 L415.0 500.0 L416.0 510.0 L417.4 497.0 L418.4 502.0 L419.4 516.0 L420.0 528.0 L421.0 510.0 L422.0 524.0 L423.2 535.0 L424.0 518.0 L425.0 498.0 L426.0 484.0 L427.0 496.0 L428.0 510.0 L429.2 523.0 L430.4 498.0 L431.6 486.0 L432.2 481.0 L433.2 490.0 L434.4 494.0 L435.6 500.0 L437.0 508.0 L438.0 516.0 L438.8 540.0 L439.6 516.0 L441.0 506.0 L442.4 492.0 L443.6 486.0 L444.6 481.0 L445.6 496.0 L446.6 505.0 L448.0 484.0 L449.2 482.0 L450.4 486.0 L451.6 494.0 L453.0 506.0 L454.4 514.0 L455.2 531.0 L456.4 512.0 L457.4 518.0 L458.6 533.0 L460.0 514.0 L461.2 500.0 L462.0 493.0 L463.2 497.0 L464.4 496.0 L466.0 510.0 L467.2 514.0 L468.6 498.0 L470.0 480.0 L471.2 464.0 L472.4 454.0 L474.0 451.0 L475.4 459.0 L476.4 446.0 L477.4 444.0 L478.4 449.0 L480.0 452.0 L481.6 455.0 L482.4 460.0 L483.6 443.0 L484.8 450.0 L486.0 460.0 L487.2 472.0 L488.4 468.0 L489.6 486.0 L490.6 501.0 L492.0 495.0 L493.2 504.0 L494.6 518.0 L496.0 508.0 L497.6 498.0 L499.0 492.0 L500.4 476.0 L502.0 471.0 L503.0 481.0 L504.4 483.0 L506.0 492.0 L507.4 504.0 L508.6 513.0 L510.0 506.0 L511.6 494.0 L513.2 481.0 L514.6 484.0 L516.0 486.0 L517.6 501.0 L519.0 494.0 L520.4 488.0 L522.0 483.0 L523.6 478.0 L525.2 481.0 L526.8 476.0 L528.4 478.0 L529.6 492.0 L531.0 504.0 L532.6 514.0 L534.0 506.0 L535.4 498.0 L537.0 484.0 L538.4 478.0 L540.0 475.0 L541.6 477.0 L543.4 470.0 L544.6 479.0 L545.6 485.0 L547.0 478.0 L548.4 479.0 L550.0 482.0 L551.2 483.0 L552.4 496.0 L553.6 516.0 L554.8 498.0 L556.0 490.0 L557.2 498.0 L558.4 516.0 L559.6 522.0 L560.6 518.0 L561.6 543.0 L562.6 530.0 L563.6 526.0 L564.6 532.0 L566.0 516.0 L567.2 507.0 L568.4 505.0 L569.6 514.0 L570.6 532.0 L571.6 516.0 L572.6 504.0 L574.0 506.0 L574.8 526.0 L575.6 565.0 L576.4 536.0 L577.2 560.0 L578.4 526.0 L579.4 510.0 L580.4 499.0 L581.4 518.0 L582.6 534.0 L583.6 547.0 L584.6 510.0 L585.6 488.0 L586.8 472.0 L588.0 464.0 L589.0 473.0 L590.0 460.0 L591.6 454.0 L593.0 451.0 L594.0 448.0 L595.2 455.0 L596.4 469.0 L597.6 477.0 L598.8 476.0 L600.0 465.0 L601.4 476.0 L602.6 467.0 L604.0 458.0 L605.4 450.0 L606.6 480.0 L608.0 492.0 L609.6 503.0 L610.6 492.0 L612.0 503.0 L613.4 490.0 L614.6 482.0 L616.0 470.0 L617.4 468.0 L618.8 460.0 L620.0 456.0 L621.4 460.0 L622.6 462.0 L624.0 472.0 L625.2 465.0 L626.4 473.0 L627.6 478.0 L628.8 489.0 L630.0 482.0 L631.2 534.0 L632.4 518.0 L633.4 532.0 L634.4 490.0 L635.6 494.0 L636.6 506.0 L638.0 492.0 L639.2 474.0 L640.4 467.0 L641.6 466.0 L643.0 465.0 L644.4 474.0 L645.6 482.0 L646.6 496.0 L648.0 490.0 L649.2 487.0 L650.6 483.0 L652.0 476.0 L653.2 474.0 L654.4 483.0 L655.6 496.0 L657.0 486.0 L658.4 472.0 L659.6 465.0 L661.0 463.0 L662.4 461.0 L663.6 468.0 L665.0 460.0 L666.4 465.0 L667.6 458.0 L669.0 452.0 L670.0 460.0 L671.4 457.0 L672.8 455.0 L674.0 459.0 L675.4 458.0 L676.6 461.0 L678.0 451.0 L679.2 471.0 L680.4 459.0 L681.6 469.0 L683.0 484.0 L684.4 495.0 L685.6 478.0 L687.0 469.0 L688.4 482.0 L689.6 476.0 L691.0 479.0 L692.4 506.0 L693.6 490.0 L694.8 481.0 L696.0 483.0 L697.4 480.0 L698.6 485.0 L700.0 473.0 L701.4 477.0 L702.6 472.0 L704.0 478.0 L705.2 471.0 L706.6 480.0 L708.0 485.0 L709.2 504.0 L710.0 515.0 L711.0 503.0 L711.6 517.0 L712.8 496.0 L714.0 486.0 L715.2 492.0 L716.4 496.0 L717.4 527.0 L718.6 533.0 L719.4 496.0 L720.6 490.0 L722.0 481.0 L723.2 492.0 L724.4 480.0 L725.6 492.0 L726.8 482.0 L728.0 470.0 L729.4 467.0 L730.8 466.0 L732.0 473.0 L732.8 487.0 L733.6 466.0 L735.0 465.0 L736.4 463.0 L738.0 462.0 L739.2 465.0 L740.4 470.0 L741.6 473.0 L742.8 468.0 L744.0 474.0 L745.4 467.0 L746.6 471.0 L748.0 481.0 L749.2 472.0 L750.6 465.0 L751.6 472.0 L752.8 467.0 L754.0 470.0 L755.2 463.0 L756.2 456.0 L757.2 489.0 L758.4 469.0 L759.6 486.0 L760.8 477.0 L762.0 480.0 L763.6 466.0 L765.0 473.0 L766.2 471.0 L767.2 482.0 L768.4 473.0 L769.4 479.0 L770.0 496.0 L770.8 508.0" stroke="#000" stroke-width="1.25" fill="none" stroke-linejoin="miter" stroke-miterlimit="3"/>
<line x1="16" y1="455.5" x2="778.5" y2="455.5" stroke="#000088" stroke-width="1.15" />
<line x1="16" y1="525.5" x2="778.5" y2="525.5" stroke="#000088" stroke-width="1.15" />
<rect x="17" y="573" width="109" height="13" fill="#fff"/>
<rect x="19" y="578" width="9" height="2" fill="#000"/>
<text transform="translate(32,583) scale(1.1,1)" font-size="10" textLength="83.6" lengthAdjust="spacing" class="b">$NAA200R 32.17</text>
<text x="791.8" y="587.7" font-size="10" text-anchor="end" font-weight="normal" fill="#000" letter-spacing="0.4" class="a">80</text>
<text x="791.8" y="603.4" font-size="10" text-anchor="end" font-weight="normal" fill="#000" letter-spacing="0.4" class="a">70</text>
<text x="791.8" y="619.1" font-size="10" text-anchor="end" font-weight="normal" fill="#000" letter-spacing="0.4" class="a">60</text>
<text x="791.8" y="634.8" font-size="10" text-anchor="end" font-weight="normal" fill="#000" letter-spacing="0.4" class="a">50</text>
<text x="791.8" y="650.5" font-size="10" text-anchor="end" font-weight="normal" fill="#000" letter-spacing="0.4" class="a">40</text>
<text x="791.8" y="666.2" font-size="10" text-anchor="end" font-weight="normal" fill="#000" letter-spacing="0.4" class="a">30</text>
<text x="791.8" y="682.0" font-size="10" text-anchor="end" font-weight="normal" fill="#000" letter-spacing="0.4" class="a">20</text>
<text x="791.8" y="697.7" font-size="10" text-anchor="end" font-weight="normal" fill="#000" letter-spacing="0.4" class="a">10</text>
<path d="M443.6 629.0 L444.4 623.0 L445.2 637.0 L446.0 645.0 L446.8 653.0 L447.6 635.0 L448.6 629.0 L449.6 630.0 L450.4 639.0 L451.2 637.0 L452.0 649.0 L453.0 661.0 L454.0 673.0 L454.8 688.0 L455.6 681.0 L456.2 682.0 L456.8 683.0 L457.4 688.9 L458.0 691.0 L458.6 688.4 L459.2 683.0 L459.8 677.6 L460.4 673.0 L461.4 655.0 L462.2 667.0 L463.2 654.0 L464.0 659.0 L465.0 664.0 L466.0 661.0 L466.6 653.0 L467.2 647.0 L467.8 643.4 L468.4 639.0 L469.2 625.0 L470.0 611.0 L471.0 599.0 L472.0 589.0 L473.0 591.0 L474.0 583.0 L474.6 587.0 L475.2 592.0 L475.8 587.6 L476.4 583.0 L477.4 580.0 L478.0 584.2 L478.6 587.0 L479.6 585.0 L480.2 588.4 L480.8 591.0 L481.4 594.5 L482.0 596.0 L482.6 592.9 L483.2 586.0 L483.8 587.7 L484.4 592.0 L485.0 595.1 L485.6 595.0 L486.6 603.0 L487.6 615.0 L488.4 608.0 L489.4 631.0 L490.4 649.0 L491.2 643.0 L492.2 645.0 L493.2 659.0 L494.0 669.0 L494.8 679.0 L495.6 667.0 L496.2 663.0 L496.8 663.0 L497.4 660.2 L498.0 659.0 L498.6 653.3 L499.2 645.0 L499.8 638.0 L500.4 633.0 L501.4 629.0 L502.4 623.0 L503.2 634.0 L504.0 627.0 L505.0 636.0 L506.0 639.0 L506.6 643.3 L507.2 649.0 L507.8 654.2 L508.4 659.0 L509.4 649.0 L510.0 645.2 L510.6 643.0 L511.3 638.7 L512.0 635.0 L512.6 631.1 L513.2 627.0 L513.8 631.7 L514.4 637.0 L515.0 632.4 L515.6 629.0 L516.2 631.3 L516.8 635.0 L517.4 638.4 L518.0 644.0 L518.6 638.1 L519.2 631.0 L519.8 633.7 L520.4 630.0 L521.0 627.1 L521.6 625.0 L522.2 621.4 L522.8 621.0 L523.4 621.0 L524.0 617.0 L524.6 619.2 L525.2 619.0 L525.8 615.7 L526.4 613.0 L527.0 614.9 L527.6 618.0 L528.6 627.0 L529.6 633.0 L530.2 637.7 L530.8 643.0 L531.4 648.3 L532.0 653.0 L532.8 666.0 L533.4 658.4 L534.0 653.0 L534.6 652.2 L535.2 651.0 L535.8 645.2 L536.4 644.0 L537.0 639.9 L537.6 638.0 L538.2 634.4 L538.8 633.0 L539.4 632.5 L540.0 633.0 L540.6 632.3 L541.2 632.0 L541.8 632.7 L542.4 634.0 L543.0 625.6 L543.6 617.0 L544.2 626.7 L544.8 634.0 L545.4 630.5 L546.0 622.0 L546.6 622.1 L547.2 623.0 L547.8 624.4 L548.4 625.0 L549.0 627.2 L549.6 630.0 L550.2 629.6 L550.8 629.0 L551.4 634.4 L552.0 641.0 L553.0 657.0 L553.6 655.6 L554.2 655.0 L554.8 645.8 L555.4 636.0 L556.0 643.9 L556.6 649.0 L557.6 645.0 L558.2 652.1 L558.8 659.0 L559.4 660.9 L560.0 663.0 L560.6 668.2 L561.2 674.0 L562.0 683.0 L562.6 678.7 L563.2 677.0 L563.8 679.5 L564.4 684.0 L565.0 679.6 L565.6 675.0 L566.2 670.9 L566.8 665.0 L567.4 661.1 L568.0 657.0 L568.6 655.1 L569.2 655.0 L570.0 665.0 L570.8 677.0 L571.6 661.0 L572.6 648.0 L573.6 651.0 L574.4 669.0 L575.2 685.0 L576.0 701.0 L576.6 701.9 L577.2 703.0 L577.8 700.4 L578.4 696.0 L579.0 695.5 L579.6 695.0 L580.2 694.0 L580.8 691.0 L581.4 689.0 L582.0 690.0 L582.6 694.8 L583.2 699.0 L583.8 686.9 L584.4 677.0 L585.0 665.1 L585.6 657.0 L586.6 641.0 L587.6 647.0 L588.6 612.0 L589.6 619.0 L590.4 597.0 L591.0 594.0 L591.6 591.0 L592.2 592.5 L592.8 593.0 L593.4 589.5 L594.0 585.0 L594.6 588.2 L595.2 589.0 L595.8 596.6 L596.4 604.0 L597.0 604.6 L597.6 610.0 L598.2 608.2 L598.8 605.0 L599.4 608.9 L600.0 611.0 L600.6 617.1 L601.2 624.0 L601.8 617.0 L602.4 611.0 L603.0 610.0 L603.6 609.0 L604.2 607.0 L604.8 605.0 L605.4 611.8 L606.0 621.0 L606.6 629.0 L607.2 635.0 L607.8 640.8 L608.4 643.0 L609.4 661.0 L610.4 642.0 L611.4 645.0 L612.2 661.0 L613.2 645.0 L613.8 639.6 L614.4 633.0 L615.0 627.2 L615.6 621.0 L616.2 619.6 L616.8 625.0 L617.4 621.5 L618.0 617.0 L618.6 616.0 L619.2 614.0 L619.8 612.1 L620.4 609.0 L621.0 606.2 L621.6 603.0 L622.2 604.6 L622.8 608.0 L623.4 605.2 L624.0 602.0 L624.6 606.4 L625.2 611.0 L625.8 614.1 L626.4 617.0 L627.0 621.9 L627.6 625.0 L628.4 641.0 L629.0 638.3 L629.6 635.0 L630.6 653.0 L631.4 691.0 L632.4 679.0 L633.0 682.6 L633.6 687.0 L634.6 656.0 L635.6 661.0 L636.4 685.0 L637.2 661.0 L637.8 659.0 L638.4 659.0 L639.0 650.1 L639.6 645.0 L640.4 625.0 L641.0 624.8 L641.6 621.0 L642.2 618.7 L642.8 617.0 L643.4 622.1 L644.0 625.0 L644.6 628.4 L645.2 631.0 L645.8 642.1 L646.4 653.0 L647.0 643.5 L647.6 633.0 L648.2 634.1 L648.8 635.0 L649.4 633.6 L650.0 629.0 L650.6 626.5 L651.2 625.0 L651.8 621.3 L652.4 618.0 L653.0 626.4 L653.6 635.0 L654.2 642.4 L654.8 649.0 L655.4 658.0 L656.4 641.0 L657.0 635.5 L657.6 627.0 L658.2 621.3 L658.8 617.0 L659.4 610.5 L660.0 609.0 L660.6 607.4 L661.2 605.0 L661.8 608.7 L662.4 611.0 L663.0 615.4 L663.6 620.0 L664.2 614.0 L664.8 608.0 L665.4 610.7 L666.0 612.0 L666.6 606.6 L667.2 603.0 L667.8 598.0 L668.4 595.0 L669.0 595.8 L669.6 600.0 L670.2 602.3 L670.8 605.0 L671.4 600.1 L672.0 597.0 L672.6 599.3 L673.2 602.0 L673.8 600.3 L674.4 601.0 L675.0 602.4 L675.6 608.0 L676.2 607.6 L676.8 605.0 L677.4 602.4 L678.0 599.0 L678.6 607.1 L679.2 613.0 L679.8 608.8 L680.4 602.0 L681.0 607.8 L681.6 617.0 L682.2 626.8 L682.8 635.0 L683.4 640.8 L684.0 649.0 L684.6 637.8 L685.2 631.0 L685.8 634.8 L686.4 641.0 L687.2 621.0 L687.8 635.4 L688.4 651.0 L689.0 643.8 L689.6 633.0 L690.2 638.7 L690.8 645.0 L691.6 659.0 L692.4 674.0 L693.0 661.3 L693.6 649.0 L694.2 642.4 L694.8 635.0 L695.4 634.3 L696.0 633.0 L696.6 636.3 L697.2 640.0 L697.8 637.6 L698.4 631.0 L699.0 625.9 L699.6 623.0 L700.2 620.7 L700.8 621.0 L701.4 617.4 L702.0 618.0 L702.6 618.7 L703.2 622.0 L703.8 619.5 L704.4 619.0 L705.0 617.9 L705.6 618.0 L706.2 622.1 L706.8 627.0 L707.4 632.5 L708.0 635.0 L708.6 642.8 L709.2 649.0 L709.8 653.5 L710.4 659.0 L711.2 666.0 L711.8 659.7 L712.4 653.0 L713.0 647.3 L713.6 643.0 L714.2 649.2 L714.8 656.0 L715.4 654.3 L716.0 653.0 L717.0 685.0 L718.0 690.0 L719.0 665.0 L720.0 657.0 L720.6 655.0 L721.2 649.0 L721.8 641.8 L722.4 637.0 L723.0 639.9 L723.6 645.0 L724.2 637.4 L724.8 629.0 L725.4 627.0 L726.0 627.0 L726.6 621.0 L727.2 617.0 L727.8 614.8 L728.4 612.0 L729.0 610.4 L729.6 611.0 L730.2 608.9 L730.8 604.0 L731.4 609.1 L732.0 613.0 L732.6 635.0 L733.4 608.0 L734.0 612.4 L734.6 618.0 L735.2 616.3 L735.8 615.0 L736.4 615.3 L737.0 617.0 L737.6 614.0 L738.2 608.0 L738.8 611.6 L739.4 615.0 L740.0 613.1 L740.6 611.0 L741.2 613.6 L741.8 618.0 L742.4 617.6 L743.0 614.0 L743.6 615.9 L744.2 618.0 L744.8 615.3 L745.4 614.0 L746.0 615.0 L746.6 613.0 L747.6 635.0 L748.2 631.8 L748.8 628.0 L749.4 620.0 L750.0 613.0 L750.8 607.0 L751.6 623.0 L752.2 620.9 L752.8 617.0 L753.4 614.4 L754.0 613.0 L754.6 615.4 L755.2 618.0 L756.0 606.0 L756.8 625.0 L757.6 635.0 L758.4 617.0 L759.2 636.0 L760.0 625.0 L760.8 637.0 L761.4 632.0 L762.0 625.0 L762.6 619.8 L763.2 617.0 L763.8 617.3 L764.4 618.0 L765.0 621.4 L765.6 625.0 L766.2 622.8 L766.8 620.0 L767.4 622.4 L768.0 627.0 L768.8 621.0 L769.6 629.0 L770.2 645.0 L770.8 660.0" stroke="#fff" stroke-opacity="0.85" stroke-width="3" fill="none" stroke-linejoin="round"/>
<path d="M443.6 629.0 L444.4 623.0 L445.2 637.0 L446.0 645.0 L446.8 653.0 L447.6 635.0 L448.6 629.0 L449.6 630.0 L450.4 639.0 L451.2 637.0 L452.0 649.0 L453.0 661.0 L454.0 673.0 L454.8 688.0 L455.6 681.0 L456.2 682.0 L456.8 683.0 L457.4 688.9 L458.0 691.0 L458.6 688.4 L459.2 683.0 L459.8 677.6 L460.4 673.0 L461.4 655.0 L462.2 667.0 L463.2 654.0 L464.0 659.0 L465.0 664.0 L466.0 661.0 L466.6 653.0 L467.2 647.0 L467.8 643.4 L468.4 639.0 L469.2 625.0 L470.0 611.0 L471.0 599.0 L472.0 589.0 L473.0 591.0 L474.0 583.0 L474.6 587.0 L475.2 592.0 L475.8 587.6 L476.4 583.0 L477.4 580.0 L478.0 584.2 L478.6 587.0 L479.6 585.0 L480.2 588.4 L480.8 591.0 L481.4 594.5 L482.0 596.0 L482.6 592.9 L483.2 586.0 L483.8 587.7 L484.4 592.0 L485.0 595.1 L485.6 595.0 L486.6 603.0 L487.6 615.0 L488.4 608.0 L489.4 631.0 L490.4 649.0 L491.2 643.0 L492.2 645.0 L493.2 659.0 L494.0 669.0 L494.8 679.0 L495.6 667.0 L496.2 663.0 L496.8 663.0 L497.4 660.2 L498.0 659.0 L498.6 653.3 L499.2 645.0 L499.8 638.0 L500.4 633.0 L501.4 629.0 L502.4 623.0 L503.2 634.0 L504.0 627.0 L505.0 636.0 L506.0 639.0 L506.6 643.3 L507.2 649.0 L507.8 654.2 L508.4 659.0 L509.4 649.0 L510.0 645.2 L510.6 643.0 L511.3 638.7 L512.0 635.0 L512.6 631.1 L513.2 627.0 L513.8 631.7 L514.4 637.0 L515.0 632.4 L515.6 629.0 L516.2 631.3 L516.8 635.0 L517.4 638.4 L518.0 644.0 L518.6 638.1 L519.2 631.0 L519.8 633.7 L520.4 630.0 L521.0 627.1 L521.6 625.0 L522.2 621.4 L522.8 621.0 L523.4 621.0 L524.0 617.0 L524.6 619.2 L525.2 619.0 L525.8 615.7 L526.4 613.0 L527.0 614.9 L527.6 618.0 L528.6 627.0 L529.6 633.0 L530.2 637.7 L530.8 643.0 L531.4 648.3 L532.0 653.0 L532.8 666.0 L533.4 658.4 L534.0 653.0 L534.6 652.2 L535.2 651.0 L535.8 645.2 L536.4 644.0 L537.0 639.9 L537.6 638.0 L538.2 634.4 L538.8 633.0 L539.4 632.5 L540.0 633.0 L540.6 632.3 L541.2 632.0 L541.8 632.7 L542.4 634.0 L543.0 625.6 L543.6 617.0 L544.2 626.7 L544.8 634.0 L545.4 630.5 L546.0 622.0 L546.6 622.1 L547.2 623.0 L547.8 624.4 L548.4 625.0 L549.0 627.2 L549.6 630.0 L550.2 629.6 L550.8 629.0 L551.4 634.4 L552.0 641.0 L553.0 657.0 L553.6 655.6 L554.2 655.0 L554.8 645.8 L555.4 636.0 L556.0 643.9 L556.6 649.0 L557.6 645.0 L558.2 652.1 L558.8 659.0 L559.4 660.9 L560.0 663.0 L560.6 668.2 L561.2 674.0 L562.0 683.0 L562.6 678.7 L563.2 677.0 L563.8 679.5 L564.4 684.0 L565.0 679.6 L565.6 675.0 L566.2 670.9 L566.8 665.0 L567.4 661.1 L568.0 657.0 L568.6 655.1 L569.2 655.0 L570.0 665.0 L570.8 677.0 L571.6 661.0 L572.6 648.0 L573.6 651.0 L574.4 669.0 L575.2 685.0 L576.0 701.0 L576.6 701.9 L577.2 703.0 L577.8 700.4 L578.4 696.0 L579.0 695.5 L579.6 695.0 L580.2 694.0 L580.8 691.0 L581.4 689.0 L582.0 690.0 L582.6 694.8 L583.2 699.0 L583.8 686.9 L584.4 677.0 L585.0 665.1 L585.6 657.0 L586.6 641.0 L587.6 647.0 L588.6 612.0 L589.6 619.0 L590.4 597.0 L591.0 594.0 L591.6 591.0 L592.2 592.5 L592.8 593.0 L593.4 589.5 L594.0 585.0 L594.6 588.2 L595.2 589.0 L595.8 596.6 L596.4 604.0 L597.0 604.6 L597.6 610.0 L598.2 608.2 L598.8 605.0 L599.4 608.9 L600.0 611.0 L600.6 617.1 L601.2 624.0 L601.8 617.0 L602.4 611.0 L603.0 610.0 L603.6 609.0 L604.2 607.0 L604.8 605.0 L605.4 611.8 L606.0 621.0 L606.6 629.0 L607.2 635.0 L607.8 640.8 L608.4 643.0 L609.4 661.0 L610.4 642.0 L611.4 645.0 L612.2 661.0 L613.2 645.0 L613.8 639.6 L614.4 633.0 L615.0 627.2 L615.6 621.0 L616.2 619.6 L616.8 625.0 L617.4 621.5 L618.0 617.0 L618.6 616.0 L619.2 614.0 L619.8 612.1 L620.4 609.0 L621.0 606.2 L621.6 603.0 L622.2 604.6 L622.8 608.0 L623.4 605.2 L624.0 602.0 L624.6 606.4 L625.2 611.0 L625.8 614.1 L626.4 617.0 L627.0 621.9 L627.6 625.0 L628.4 641.0 L629.0 638.3 L629.6 635.0 L630.6 653.0 L631.4 691.0 L632.4 679.0 L633.0 682.6 L633.6 687.0 L634.6 656.0 L635.6 661.0 L636.4 685.0 L637.2 661.0 L637.8 659.0 L638.4 659.0 L639.0 650.1 L639.6 645.0 L640.4 625.0 L641.0 624.8 L641.6 621.0 L642.2 618.7 L642.8 617.0 L643.4 622.1 L644.0 625.0 L644.6 628.4 L645.2 631.0 L645.8 642.1 L646.4 653.0 L647.0 643.5 L647.6 633.0 L648.2 634.1 L648.8 635.0 L649.4 633.6 L650.0 629.0 L650.6 626.5 L651.2 625.0 L651.8 621.3 L652.4 618.0 L653.0 626.4 L653.6 635.0 L654.2 642.4 L654.8 649.0 L655.4 658.0 L656.4 641.0 L657.0 635.5 L657.6 627.0 L658.2 621.3 L658.8 617.0 L659.4 610.5 L660.0 609.0 L660.6 607.4 L661.2 605.0 L661.8 608.7 L662.4 611.0 L663.0 615.4 L663.6 620.0 L664.2 614.0 L664.8 608.0 L665.4 610.7 L666.0 612.0 L666.6 606.6 L667.2 603.0 L667.8 598.0 L668.4 595.0 L669.0 595.8 L669.6 600.0 L670.2 602.3 L670.8 605.0 L671.4 600.1 L672.0 597.0 L672.6 599.3 L673.2 602.0 L673.8 600.3 L674.4 601.0 L675.0 602.4 L675.6 608.0 L676.2 607.6 L676.8 605.0 L677.4 602.4 L678.0 599.0 L678.6 607.1 L679.2 613.0 L679.8 608.8 L680.4 602.0 L681.0 607.8 L681.6 617.0 L682.2 626.8 L682.8 635.0 L683.4 640.8 L684.0 649.0 L684.6 637.8 L685.2 631.0 L685.8 634.8 L686.4 641.0 L687.2 621.0 L687.8 635.4 L688.4 651.0 L689.0 643.8 L689.6 633.0 L690.2 638.7 L690.8 645.0 L691.6 659.0 L692.4 674.0 L693.0 661.3 L693.6 649.0 L694.2 642.4 L694.8 635.0 L695.4 634.3 L696.0 633.0 L696.6 636.3 L697.2 640.0 L697.8 637.6 L698.4 631.0 L699.0 625.9 L699.6 623.0 L700.2 620.7 L700.8 621.0 L701.4 617.4 L702.0 618.0 L702.6 618.7 L703.2 622.0 L703.8 619.5 L704.4 619.0 L705.0 617.9 L705.6 618.0 L706.2 622.1 L706.8 627.0 L707.4 632.5 L708.0 635.0 L708.6 642.8 L709.2 649.0 L709.8 653.5 L710.4 659.0 L711.2 666.0 L711.8 659.7 L712.4 653.0 L713.0 647.3 L713.6 643.0 L714.2 649.2 L714.8 656.0 L715.4 654.3 L716.0 653.0 L717.0 685.0 L718.0 690.0 L719.0 665.0 L720.0 657.0 L720.6 655.0 L721.2 649.0 L721.8 641.8 L722.4 637.0 L723.0 639.9 L723.6 645.0 L724.2 637.4 L724.8 629.0 L725.4 627.0 L726.0 627.0 L726.6 621.0 L727.2 617.0 L727.8 614.8 L728.4 612.0 L729.0 610.4 L729.6 611.0 L730.2 608.9 L730.8 604.0 L731.4 609.1 L732.0 613.0 L732.6 635.0 L733.4 608.0 L734.0 612.4 L734.6 618.0 L735.2 616.3 L735.8 615.0 L736.4 615.3 L737.0 617.0 L737.6 614.0 L738.2 608.0 L738.8 611.6 L739.4 615.0 L740.0 613.1 L740.6 611.0 L741.2 613.6 L741.8 618.0 L742.4 617.6 L743.0 614.0 L743.6 615.9 L744.2 618.0 L744.8 615.3 L745.4 614.0 L746.0 615.0 L746.6 613.0 L747.6 635.0 L748.2 631.8 L748.8 628.0 L749.4 620.0 L750.0 613.0 L750.8 607.0 L751.6 623.0 L752.2 620.9 L752.8 617.0 L753.4 614.4 L754.0 613.0 L754.6 615.4 L755.2 618.0 L756.0 606.0 L756.8 625.0 L757.6 635.0 L758.4 617.0 L759.2 636.0 L760.0 625.0 L760.8 637.0 L761.4 632.0 L762.0 625.0 L762.6 619.8 L763.2 617.0 L763.8 617.3 L764.4 618.0 L765.0 621.4 L765.6 625.0 L766.2 622.8 L766.8 620.0 L767.4 622.4 L768.0 627.0 L768.8 621.0 L769.6 629.0 L770.2 645.0 L770.8 660.0" stroke="#000" stroke-width="1.25" fill="none" stroke-linejoin="miter" stroke-miterlimit="3"/>
<line x1="16" y1="600.5" x2="778.5" y2="600.5" stroke="#000088" stroke-width="1.15" />
<line x1="16" y1="663.5" x2="778.5" y2="663.5" stroke="#000088" stroke-width="1.15" />
<rect x="17" y="710" width="109" height="13" fill="#fff"/>
<rect x="19" y="715" width="9" height="2" fill="#000"/>
<text transform="translate(32,720) scale(1.1,1)" font-size="10" textLength="83.6" lengthAdjust="spacing" class="b">$NAA150R 28.95</text>
<text x="791.8" y="727.0" font-size="10" text-anchor="end" font-weight="normal" fill="#000" letter-spacing="0.4" class="a">80</text>
<text x="791.8" y="742.5" font-size="10" text-anchor="end" font-weight="normal" fill="#000" letter-spacing="0.4" class="a">70</text>
<text x="791.8" y="758.0" font-size="10" text-anchor="end" font-weight="normal" fill="#000" letter-spacing="0.4" class="a">60</text>
<text x="791.8" y="773.5" font-size="10" text-anchor="end" font-weight="normal" fill="#000" letter-spacing="0.4" class="a">50</text>
<text x="791.8" y="789.0" font-size="10" text-anchor="end" font-weight="normal" fill="#000" letter-spacing="0.4" class="a">40</text>
<text x="791.8" y="804.5" font-size="10" text-anchor="end" font-weight="normal" fill="#000" letter-spacing="0.4" class="a">30</text>
<text x="791.8" y="820.0" font-size="10" text-anchor="end" font-weight="normal" fill="#000" letter-spacing="0.4" class="a">20</text>
<text x="791.8" y="835.5" font-size="10" text-anchor="end" font-weight="normal" fill="#000" letter-spacing="0.4" class="a">10</text>
<path d="M443.6 763.0 L444.4 753.0 L445.2 768.0 L446.0 776.0 L446.8 783.0 L447.6 764.0 L448.6 761.0 L449.6 768.0 L450.4 780.0 L451.2 776.0 L452.0 790.0 L453.0 804.0 L454.0 814.0 L454.8 830.0 L455.6 818.0 L456.2 817.8 L456.8 820.0 L457.4 824.2 L458.0 829.0 L458.6 822.6 L459.2 818.0 L459.8 812.1 L460.4 806.0 L461.0 786.0 L461.6 772.0 L462.4 789.0 L463.2 768.0 L464.0 776.0 L465.0 790.0 L466.0 785.0 L466.8 792.0 L467.6 780.0 L468.4 774.0 L469.2 762.0 L470.0 744.0 L471.0 734.0 L472.0 724.0 L473.0 726.0 L473.6 719.0 L474.4 726.0 L475.2 733.0 L476.0 724.0 L476.6 720.4 L477.2 717.0 L478.0 726.0 L478.6 727.1 L479.2 728.0 L480.0 738.0 L480.6 735.6 L481.2 733.0 L482.0 746.0 L482.6 736.4 L483.2 729.0 L483.8 733.1 L484.4 738.0 L485.0 739.7 L485.6 741.0 L486.6 754.0 L487.6 766.0 L488.4 754.0 L489.4 778.0 L490.4 794.0 L491.2 788.0 L492.2 787.0 L493.2 804.0 L494.0 810.0 L494.8 820.0 L495.6 806.0 L496.2 804.2 L496.8 800.0 L497.4 796.3 L498.0 792.0 L498.6 783.0 L499.2 774.0 L499.8 769.0 L500.4 760.0 L501.4 756.0 L502.4 749.0 L503.2 764.0 L504.0 758.0 L505.0 768.0 L506.0 774.0 L506.6 779.5 L507.2 786.0 L507.8 795.3 L508.4 802.0 L509.4 790.0 L510.0 785.6 L510.6 780.0 L511.3 772.8 L512.0 768.0 L512.6 763.4 L513.2 759.0 L513.8 765.3 L514.4 770.0 L515.0 764.3 L515.6 761.0 L516.2 766.9 L516.8 770.0 L517.4 774.5 L518.0 780.0 L518.6 773.4 L519.2 766.0 L519.8 771.2 L520.4 777.0 L521.0 770.9 L521.6 764.0 L522.2 761.2 L522.8 760.0 L523.4 758.6 L524.0 754.0 L524.6 754.2 L525.2 756.0 L525.8 753.6 L526.4 748.0 L527.0 749.6 L527.6 752.0 L528.6 766.0 L529.6 774.0 L530.2 779.1 L530.8 786.0 L531.4 792.8 L532.0 798.0 L532.8 811.0 L533.4 802.6 L534.0 794.0 L534.6 791.7 L535.2 790.0 L535.8 783.2 L536.4 779.0 L537.0 774.7 L537.6 771.0 L538.2 767.3 L538.8 764.0 L539.4 762.6 L540.0 763.0 L540.6 760.7 L541.2 761.0 L541.8 761.0 L542.4 763.0 L543.0 755.9 L543.6 751.0 L544.2 763.5 L544.8 774.0 L545.4 767.8 L546.0 760.0 L546.6 761.5 L547.2 764.0 L547.8 763.9 L548.4 766.0 L549.0 768.8 L549.6 772.0 L550.2 770.9 L550.8 769.0 L551.4 774.8 L552.0 782.0 L553.0 798.0 L553.6 795.8 L554.2 794.0 L554.8 784.0 L555.4 772.0 L556.0 779.7 L556.6 788.0 L557.6 780.0 L558.2 788.5 L558.8 798.0 L559.4 802.2 L560.0 804.0 L560.6 808.8 L561.2 814.0 L562.0 821.0 L562.6 817.4 L563.2 814.0 L563.8 816.5 L564.4 821.0 L565.0 815.5 L565.6 808.0 L566.2 802.2 L566.8 796.0 L567.4 789.6 L568.0 784.0 L568.6 784.8 L569.2 786.0 L570.0 796.0 L570.8 806.0 L571.6 786.0 L572.6 775.0 L573.6 786.0 L574.4 800.0 L575.2 820.0 L576.0 838.0 L576.6 839.8 L577.2 839.0 L577.8 834.8 L578.4 831.0 L579.0 831.3 L579.6 832.0 L580.2 828.6 L580.8 825.0 L581.4 824.5 L582.0 824.0 L582.6 829.4 L583.2 833.0 L584.0 812.0 L584.8 786.0 L585.4 777.6 L586.0 770.0 L587.0 754.0 L587.8 742.5 L588.6 732.0 L589.6 750.0 L590.4 734.0 L591.0 729.7 L591.6 727.0 L592.2 728.6 L592.8 730.0 L593.4 724.1 L594.0 721.0 L594.6 724.9 L595.2 730.0 L595.8 739.3 L596.4 752.0 L597.0 755.8 L597.6 760.0 L598.2 756.7 L598.8 754.0 L599.4 750.7 L600.0 748.0 L600.6 760.9 L601.2 775.0 L601.8 763.5 L602.4 754.0 L603.0 753.1 L603.6 752.0 L604.2 745.2 L604.8 743.0 L605.4 752.3 L606.0 764.0 L606.6 772.6 L607.2 778.0 L607.8 782.2 L608.4 786.0 L609.4 805.0 L610.4 786.0 L611.4 788.0 L612.2 805.0 L613.2 786.0 L613.8 776.4 L614.4 764.0 L615.0 760.9 L615.6 754.0 L616.2 756.1 L616.8 758.0 L617.4 751.0 L618.0 746.0 L618.6 742.4 L619.2 738.0 L619.8 739.5 L620.4 743.0 L621.0 741.5 L621.6 740.0 L622.2 747.2 L622.8 754.0 L623.4 752.5 L624.0 748.0 L624.6 751.3 L625.2 755.0 L625.8 759.3 L626.4 764.0 L627.0 766.7 L627.6 770.0 L628.4 790.0 L629.0 787.3 L629.6 780.0 L630.6 800.0 L631.4 831.0 L632.4 818.0 L633.0 820.8 L633.6 824.0 L634.6 789.0 L635.6 796.0 L636.4 822.0 L637.2 794.0 L637.8 789.8 L638.4 784.0 L639.0 771.1 L639.6 760.0 L640.4 746.0 L641.0 744.5 L641.6 744.0 L642.2 747.2 L642.8 745.0 L643.4 749.6 L644.0 756.0 L644.6 762.5 L645.2 768.0 L645.8 784.5 L646.4 800.0 L647.0 788.5 L647.6 776.0 L648.2 778.5 L648.8 779.0 L649.4 776.2 L650.0 774.0 L650.6 771.5 L651.2 766.0 L651.8 761.3 L652.4 756.0 L653.0 764.7 L653.6 774.0 L654.2 779.5 L654.8 784.0 L655.4 795.0 L656.4 776.0 L657.0 768.1 L657.6 760.0 L658.2 754.8 L658.8 750.0 L659.4 748.0 L660.0 745.0 L660.6 742.6 L661.2 742.0 L661.8 745.4 L662.4 748.0 L663.0 753.1 L663.6 759.0 L664.2 747.9 L664.8 742.0 L665.4 748.0 L666.0 752.0 L666.6 745.9 L667.2 740.0 L667.8 736.7 L668.4 734.0 L669.0 736.6 L669.6 740.0 L670.2 744.9 L670.8 753.0 L671.4 743.7 L672.0 737.0 L672.6 738.9 L673.2 740.0 L673.8 741.1 L674.4 743.0 L675.0 747.1 L675.6 749.0 L676.2 749.4 L676.8 746.0 L677.4 741.4 L678.0 738.0 L678.6 746.4 L679.2 758.0 L679.8 749.3 L680.4 738.0 L681.0 749.6 L681.6 760.0 L682.2 769.6 L682.8 776.0 L683.4 786.2 L684.0 796.0 L684.6 786.2 L685.2 776.0 L685.8 780.2 L686.4 786.0 L687.2 758.0 L687.8 776.6 L688.4 792.0 L689.0 783.0 L689.6 774.0 L690.2 780.4 L690.8 784.0 L691.6 800.0 L692.4 813.0 L693.0 799.5 L693.6 786.0 L694.2 776.4 L694.8 768.0 L695.4 767.2 L696.0 765.0 L696.6 771.5 L697.2 776.0 L697.8 768.6 L698.4 766.0 L699.0 761.5 L699.6 758.0 L700.2 758.0 L700.8 757.0 L701.4 755.1 L702.0 751.0 L702.6 754.5 L703.2 758.0 L703.8 755.7 L704.4 755.0 L705.0 757.8 L705.6 760.0 L706.2 763.6 L706.8 768.0 L707.4 770.2 L708.0 778.0 L708.6 785.1 L709.2 796.0 L709.8 802.4 L710.4 808.0 L711.2 809.0 L711.8 801.7 L712.4 796.0 L713.0 788.6 L713.6 780.0 L714.2 787.9 L714.8 794.0 L715.4 788.5 L716.0 788.0 L717.0 825.0 L718.0 827.0 L719.0 802.0 L720.0 788.0 L720.6 786.1 L721.2 784.0 L721.8 771.4 L722.4 762.0 L723.0 772.5 L723.6 781.0 L724.2 767.5 L724.8 758.0 L725.4 760.2 L726.0 760.0 L726.6 753.6 L727.2 748.0 L727.8 744.9 L728.4 742.0 L729.0 743.6 L729.6 745.0 L730.2 745.6 L730.8 748.0 L731.4 752.8 L732.0 758.0 L732.6 783.0 L733.4 750.0 L734.0 757.7 L734.6 759.0 L735.2 755.5 L735.8 752.0 L736.4 753.2 L737.0 756.0 L737.6 753.7 L738.2 747.0 L738.8 752.4 L739.4 756.0 L740.0 754.1 L740.6 752.0 L741.2 757.3 L741.8 762.0 L742.4 758.5 L743.0 758.0 L743.6 759.5 L744.2 762.0 L744.8 759.0 L745.4 758.0 L746.0 759.1 L746.6 757.0 L747.6 779.0 L748.2 775.5 L748.8 770.0 L749.4 760.1 L750.0 750.0 L750.8 744.0 L751.6 764.0 L752.2 759.9 L752.8 758.0 L753.4 752.3 L754.0 750.0 L754.6 752.3 L755.2 756.0 L756.0 746.0 L756.8 768.0 L757.6 776.0 L758.4 756.0 L759.2 780.0 L760.0 782.0 L760.8 770.0 L761.4 767.9 L762.0 768.0 L762.6 761.0 L763.2 754.0 L763.8 752.9 L764.4 755.0 L765.0 759.7 L765.6 764.0 L766.2 760.9 L766.8 758.0 L767.4 761.6 L768.0 767.0 L768.8 758.0 L769.6 768.0 L770.2 786.0 L770.8 802.0" stroke="#fff" stroke-opacity="0.85" stroke-width="3" fill="none" stroke-linejoin="round"/>
<path d="M443.6 763.0 L444.4 753.0 L445.2 768.0 L446.0 776.0 L446.8 783.0 L447.6 764.0 L448.6 761.0 L449.6 768.0 L450.4 780.0 L451.2 776.0 L452.0 790.0 L453.0 804.0 L454.0 814.0 L454.8 830.0 L455.6 818.0 L456.2 817.8 L456.8 820.0 L457.4 824.2 L458.0 829.0 L458.6 822.6 L459.2 818.0 L459.8 812.1 L460.4 806.0 L461.0 786.0 L461.6 772.0 L462.4 789.0 L463.2 768.0 L464.0 776.0 L465.0 790.0 L466.0 785.0 L466.8 792.0 L467.6 780.0 L468.4 774.0 L469.2 762.0 L470.0 744.0 L471.0 734.0 L472.0 724.0 L473.0 726.0 L473.6 719.0 L474.4 726.0 L475.2 733.0 L476.0 724.0 L476.6 720.4 L477.2 717.0 L478.0 726.0 L478.6 727.1 L479.2 728.0 L480.0 738.0 L480.6 735.6 L481.2 733.0 L482.0 746.0 L482.6 736.4 L483.2 729.0 L483.8 733.1 L484.4 738.0 L485.0 739.7 L485.6 741.0 L486.6 754.0 L487.6 766.0 L488.4 754.0 L489.4 778.0 L490.4 794.0 L491.2 788.0 L492.2 787.0 L493.2 804.0 L494.0 810.0 L494.8 820.0 L495.6 806.0 L496.2 804.2 L496.8 800.0 L497.4 796.3 L498.0 792.0 L498.6 783.0 L499.2 774.0 L499.8 769.0 L500.4 760.0 L501.4 756.0 L502.4 749.0 L503.2 764.0 L504.0 758.0 L505.0 768.0 L506.0 774.0 L506.6 779.5 L507.2 786.0 L507.8 795.3 L508.4 802.0 L509.4 790.0 L510.0 785.6 L510.6 780.0 L511.3 772.8 L512.0 768.0 L512.6 763.4 L513.2 759.0 L513.8 765.3 L514.4 770.0 L515.0 764.3 L515.6 761.0 L516.2 766.9 L516.8 770.0 L517.4 774.5 L518.0 780.0 L518.6 773.4 L519.2 766.0 L519.8 771.2 L520.4 777.0 L521.0 770.9 L521.6 764.0 L522.2 761.2 L522.8 760.0 L523.4 758.6 L524.0 754.0 L524.6 754.2 L525.2 756.0 L525.8 753.6 L526.4 748.0 L527.0 749.6 L527.6 752.0 L528.6 766.0 L529.6 774.0 L530.2 779.1 L530.8 786.0 L531.4 792.8 L532.0 798.0 L532.8 811.0 L533.4 802.6 L534.0 794.0 L534.6 791.7 L535.2 790.0 L535.8 783.2 L536.4 779.0 L537.0 774.7 L537.6 771.0 L538.2 767.3 L538.8 764.0 L539.4 762.6 L540.0 763.0 L540.6 760.7 L541.2 761.0 L541.8 761.0 L542.4 763.0 L543.0 755.9 L543.6 751.0 L544.2 763.5 L544.8 774.0 L545.4 767.8 L546.0 760.0 L546.6 761.5 L547.2 764.0 L547.8 763.9 L548.4 766.0 L549.0 768.8 L549.6 772.0 L550.2 770.9 L550.8 769.0 L551.4 774.8 L552.0 782.0 L553.0 798.0 L553.6 795.8 L554.2 794.0 L554.8 784.0 L555.4 772.0 L556.0 779.7 L556.6 788.0 L557.6 780.0 L558.2 788.5 L558.8 798.0 L559.4 802.2 L560.0 804.0 L560.6 808.8 L561.2 814.0 L562.0 821.0 L562.6 817.4 L563.2 814.0 L563.8 816.5 L564.4 821.0 L565.0 815.5 L565.6 808.0 L566.2 802.2 L566.8 796.0 L567.4 789.6 L568.0 784.0 L568.6 784.8 L569.2 786.0 L570.0 796.0 L570.8 806.0 L571.6 786.0 L572.6 775.0 L573.6 786.0 L574.4 800.0 L575.2 820.0 L576.0 838.0 L576.6 839.8 L577.2 839.0 L577.8 834.8 L578.4 831.0 L579.0 831.3 L579.6 832.0 L580.2 828.6 L580.8 825.0 L581.4 824.5 L582.0 824.0 L582.6 829.4 L583.2 833.0 L584.0 812.0 L584.8 786.0 L585.4 777.6 L586.0 770.0 L587.0 754.0 L587.8 742.5 L588.6 732.0 L589.6 750.0 L590.4 734.0 L591.0 729.7 L591.6 727.0 L592.2 728.6 L592.8 730.0 L593.4 724.1 L594.0 721.0 L594.6 724.9 L595.2 730.0 L595.8 739.3 L596.4 752.0 L597.0 755.8 L597.6 760.0 L598.2 756.7 L598.8 754.0 L599.4 750.7 L600.0 748.0 L600.6 760.9 L601.2 775.0 L601.8 763.5 L602.4 754.0 L603.0 753.1 L603.6 752.0 L604.2 745.2 L604.8 743.0 L605.4 752.3 L606.0 764.0 L606.6 772.6 L607.2 778.0 L607.8 782.2 L608.4 786.0 L609.4 805.0 L610.4 786.0 L611.4 788.0 L612.2 805.0 L613.2 786.0 L613.8 776.4 L614.4 764.0 L615.0 760.9 L615.6 754.0 L616.2 756.1 L616.8 758.0 L617.4 751.0 L618.0 746.0 L618.6 742.4 L619.2 738.0 L619.8 739.5 L620.4 743.0 L621.0 741.5 L621.6 740.0 L622.2 747.2 L622.8 754.0 L623.4 752.5 L624.0 748.0 L624.6 751.3 L625.2 755.0 L625.8 759.3 L626.4 764.0 L627.0 766.7 L627.6 770.0 L628.4 790.0 L629.0 787.3 L629.6 780.0 L630.6 800.0 L631.4 831.0 L632.4 818.0 L633.0 820.8 L633.6 824.0 L634.6 789.0 L635.6 796.0 L636.4 822.0 L637.2 794.0 L637.8 789.8 L638.4 784.0 L639.0 771.1 L639.6 760.0 L640.4 746.0 L641.0 744.5 L641.6 744.0 L642.2 747.2 L642.8 745.0 L643.4 749.6 L644.0 756.0 L644.6 762.5 L645.2 768.0 L645.8 784.5 L646.4 800.0 L647.0 788.5 L647.6 776.0 L648.2 778.5 L648.8 779.0 L649.4 776.2 L650.0 774.0 L650.6 771.5 L651.2 766.0 L651.8 761.3 L652.4 756.0 L653.0 764.7 L653.6 774.0 L654.2 779.5 L654.8 784.0 L655.4 795.0 L656.4 776.0 L657.0 768.1 L657.6 760.0 L658.2 754.8 L658.8 750.0 L659.4 748.0 L660.0 745.0 L660.6 742.6 L661.2 742.0 L661.8 745.4 L662.4 748.0 L663.0 753.1 L663.6 759.0 L664.2 747.9 L664.8 742.0 L665.4 748.0 L666.0 752.0 L666.6 745.9 L667.2 740.0 L667.8 736.7 L668.4 734.0 L669.0 736.6 L669.6 740.0 L670.2 744.9 L670.8 753.0 L671.4 743.7 L672.0 737.0 L672.6 738.9 L673.2 740.0 L673.8 741.1 L674.4 743.0 L675.0 747.1 L675.6 749.0 L676.2 749.4 L676.8 746.0 L677.4 741.4 L678.0 738.0 L678.6 746.4 L679.2 758.0 L679.8 749.3 L680.4 738.0 L681.0 749.6 L681.6 760.0 L682.2 769.6 L682.8 776.0 L683.4 786.2 L684.0 796.0 L684.6 786.2 L685.2 776.0 L685.8 780.2 L686.4 786.0 L687.2 758.0 L687.8 776.6 L688.4 792.0 L689.0 783.0 L689.6 774.0 L690.2 780.4 L690.8 784.0 L691.6 800.0 L692.4 813.0 L693.0 799.5 L693.6 786.0 L694.2 776.4 L694.8 768.0 L695.4 767.2 L696.0 765.0 L696.6 771.5 L697.2 776.0 L697.8 768.6 L698.4 766.0 L699.0 761.5 L699.6 758.0 L700.2 758.0 L700.8 757.0 L701.4 755.1 L702.0 751.0 L702.6 754.5 L703.2 758.0 L703.8 755.7 L704.4 755.0 L705.0 757.8 L705.6 760.0 L706.2 763.6 L706.8 768.0 L707.4 770.2 L708.0 778.0 L708.6 785.1 L709.2 796.0 L709.8 802.4 L710.4 808.0 L711.2 809.0 L711.8 801.7 L712.4 796.0 L713.0 788.6 L713.6 780.0 L714.2 787.9 L714.8 794.0 L715.4 788.5 L716.0 788.0 L717.0 825.0 L718.0 827.0 L719.0 802.0 L720.0 788.0 L720.6 786.1 L721.2 784.0 L721.8 771.4 L722.4 762.0 L723.0 772.5 L723.6 781.0 L724.2 767.5 L724.8 758.0 L725.4 760.2 L726.0 760.0 L726.6 753.6 L727.2 748.0 L727.8 744.9 L728.4 742.0 L729.0 743.6 L729.6 745.0 L730.2 745.6 L730.8 748.0 L731.4 752.8 L732.0 758.0 L732.6 783.0 L733.4 750.0 L734.0 757.7 L734.6 759.0 L735.2 755.5 L735.8 752.0 L736.4 753.2 L737.0 756.0 L737.6 753.7 L738.2 747.0 L738.8 752.4 L739.4 756.0 L740.0 754.1 L740.6 752.0 L741.2 757.3 L741.8 762.0 L742.4 758.5 L743.0 758.0 L743.6 759.5 L744.2 762.0 L744.8 759.0 L745.4 758.0 L746.0 759.1 L746.6 757.0 L747.6 779.0 L748.2 775.5 L748.8 770.0 L749.4 760.1 L750.0 750.0 L750.8 744.0 L751.6 764.0 L752.2 759.9 L752.8 758.0 L753.4 752.3 L754.0 750.0 L754.6 752.3 L755.2 756.0 L756.0 746.0 L756.8 768.0 L757.6 776.0 L758.4 756.0 L759.2 780.0 L760.0 782.0 L760.8 770.0 L761.4 767.9 L762.0 768.0 L762.6 761.0 L763.2 754.0 L763.8 752.9 L764.4 755.0 L765.0 759.7 L765.6 764.0 L766.2 760.9 L766.8 758.0 L767.4 761.6 L768.0 767.0 L768.8 758.0 L769.6 768.0 L770.2 786.0 L770.8 802.0" stroke="#000" stroke-width="1.25" fill="none" stroke-linejoin="miter" stroke-miterlimit="3"/>
<line x1="16" y1="739.5" x2="778.5" y2="739.5" stroke="#000088" stroke-width="1.15" />
<line x1="16" y1="801.5" x2="778.5" y2="801.5" stroke="#000088" stroke-width="1.15" />
<rect x="17" y="847" width="102" height="13" fill="#fff"/>
<rect x="19" y="852" width="9" height="2" fill="#000"/>
<text transform="translate(32,857) scale(1.1,1)" font-size="10" textLength="77.3" lengthAdjust="spacing" class="b">$NAA50R 17.03</text>
<text x="791.8" y="865.1" font-size="10" text-anchor="end" font-weight="normal" fill="#000" letter-spacing="0.4" class="a">80</text>
<text x="791.8" y="880.4" font-size="10" text-anchor="end" font-weight="normal" fill="#000" letter-spacing="0.4" class="a">70</text>
<text x="791.8" y="895.6" font-size="10" text-anchor="end" font-weight="normal" fill="#000" letter-spacing="0.4" class="a">60</text>
<text x="791.8" y="910.9" font-size="10" text-anchor="end" font-weight="normal" fill="#000" letter-spacing="0.4" class="a">50</text>
<text x="791.8" y="926.1" font-size="10" text-anchor="end" font-weight="normal" fill="#000" letter-spacing="0.4" class="a">40</text>
<text x="791.8" y="941.4" font-size="10" text-anchor="end" font-weight="normal" fill="#000" letter-spacing="0.4" class="a">30</text>
<text x="791.8" y="956.6" font-size="10" text-anchor="end" font-weight="normal" fill="#000" letter-spacing="0.4" class="a">20</text>
<text x="791.8" y="971.9" font-size="10" text-anchor="end" font-weight="normal" fill="#000" letter-spacing="0.4" class="a">10</text>
<path d="M443.6 875.0 L444.4 869.0 L444.8 906.0 L445.6 932.0 L446.4 939.0 L447.2 902.0 L448.0 910.0 L448.8 897.0 L449.6 900.0 L450.4 920.0 L451.2 916.0 L452.0 940.0 L452.8 942.0 L453.6 956.0 L454.6 967.0 L455.4 950.0 L456.0 922.0 L457.0 921.0 L457.8 940.0 L458.6 951.0 L459.4 920.0 L460.4 890.0 L461.4 867.0 L462.2 890.0 L463.0 922.0 L464.0 900.0 L464.8 936.0 L465.6 941.0 L466.6 934.0 L467.4 928.0 L468.2 902.0 L469.0 888.0 L469.8 864.0 L470.6 862.0 L471.6 854.0 L472.6 860.0 L473.4 873.0 L474.2 876.0 L475.0 898.0 L475.6 912.0 L476.4 880.0 L477.2 864.0 L478.0 879.0 L478.8 896.0 L479.6 888.0 L480.4 899.0 L481.2 908.0 L482.0 910.0 L482.8 892.0 L483.6 867.0 L484.4 876.0 L485.2 890.0 L486.0 906.0 L486.8 931.0 L487.6 906.0 L488.4 918.0 L489.4 948.0 L490.2 949.0 L491.0 928.0 L492.0 914.0 L492.8 932.0 L493.6 946.0 L494.4 959.0 L495.2 940.0 L496.0 920.0 L496.8 902.0 L497.6 892.0 L498.4 906.0 L499.2 886.0 L500.0 884.0 L500.8 877.0 L501.6 883.0 L502.4 874.0 L503.2 910.0 L504.0 926.0 L504.8 909.0 L505.6 920.0 L506.4 927.0 L507.2 940.0 L507.8 953.0 L508.6 932.0 L509.4 916.0 L510.2 902.0 L511.0 890.0 L512.0 880.0 L513.0 878.0 L514.0 898.0 L514.8 918.0 L515.6 902.0 L516.4 906.0 L517.2 922.0 L518.0 931.0 L518.8 912.0 L519.6 900.0 L520.4 897.0 L521.2 890.0 L522.0 892.0 L522.8 881.0 L523.6 892.0 L524.4 886.0 L525.2 897.0 L526.0 890.0 L526.8 900.0 L527.6 898.0 L528.4 910.0 L529.2 924.0 L530.0 936.0 L530.8 951.0 L531.6 934.0 L532.4 953.0 L533.2 926.0 L534.0 908.0 L534.8 890.0 L535.6 898.0 L536.4 881.0 L537.2 894.0 L538.0 892.0 L538.8 904.0 L539.6 898.0 L540.4 906.0 L541.2 910.0 L542.0 900.0 L542.8 908.0 L543.6 888.0 L544.4 910.0 L545.2 926.0 L546.0 908.0 L546.8 893.0 L547.6 902.0 L548.4 910.0 L549.2 900.0 L550.0 912.0 L550.8 902.0 L551.6 916.0 L552.4 930.0 L553.0 945.0 L553.8 932.0 L554.6 908.0 L555.4 882.0 L556.4 883.0 L557.2 908.0 L558.0 928.0 L558.6 949.0 L559.4 932.0 L560.2 948.0 L560.8 928.0 L561.4 957.0 L562.2 928.0 L563.0 940.0 L563.8 928.0 L564.6 944.0 L565.4 920.0 L566.2 906.0 L567.0 900.0 L567.8 894.0 L568.6 910.0 L569.4 924.0 L570.2 940.0 L570.8 953.0 L571.6 916.0 L572.4 897.0 L573.2 908.0 L574.0 920.0 L574.8 952.0 L575.6 976.0 L576.4 964.0 L577.2 976.0 L578.0 952.0 L578.8 936.0 L579.6 916.0 L580.4 894.0 L581.2 902.0 L582.0 920.0 L582.8 940.0 L583.6 960.0 L584.2 920.0 L585.0 876.0 L585.8 866.0 L586.6 858.0 L587.4 883.0 L588.4 866.0 L589.2 876.0 L589.8 899.2 L590.4 922.0 L591.4 878.0 L592.4 887.0 L593.2 868.0 L594.0 880.0 L594.8 896.0 L595.6 920.0 L596.4 937.0 L597.2 926.0 L598.0 912.0 L598.8 890.0 L599.6 870.0 L600.4 876.0 L601.2 910.0 L602.0 932.0 L602.8 890.0 L603.6 884.0 L604.4 882.0 L605.2 875.0 L605.8 918.0 L606.4 954.0 L607.2 955.0 L608.0 944.0 L608.6 952.0 L609.4 962.0 L610.0 920.0 L610.8 906.0 L611.6 932.0 L612.4 904.0 L613.2 896.0 L614.0 882.0 L614.8 870.0 L615.6 875.0 L616.4 886.0 L617.2 894.0 L618.0 883.0 L618.8 876.0 L619.6 889.0 L620.4 888.0 L621.2 902.0 L622.0 896.0 L622.8 912.0 L623.6 929.0 L624.4 906.0 L625.2 890.0 L626.0 906.0 L626.8 930.0 L627.6 950.0 L628.4 895.0 L629.2 908.0 L630.0 944.0 L630.8 968.0 L631.6 972.0 L632.4 964.0 L633.2 958.0 L634.0 904.0 L634.8 874.0 L635.6 900.0 L636.4 945.0 L637.2 904.0 L638.0 916.0 L638.8 888.0 L639.6 870.0 L640.4 861.0 L641.2 871.0 L642.0 892.0 L642.8 896.0 L643.6 910.0 L644.4 928.0 L645.2 938.0 L646.0 956.0 L646.8 926.0 L647.6 900.0 L648.4 898.0 L649.2 902.0 L650.0 894.0 L650.8 896.0 L651.6 888.0 L652.4 872.0 L653.2 902.0 L654.0 928.0 L654.8 934.0 L655.4 953.0 L656.2 924.0 L657.0 904.0 L657.8 884.0 L658.6 865.0 L659.4 865.0 L660.2 878.0 L661.0 884.0 L661.8 892.0 L662.6 898.0 L663.4 923.0 L664.2 900.0 L665.0 880.0 L665.8 878.0 L666.6 906.0 L667.4 886.0 L668.2 870.0 L669.0 875.0 L669.8 894.0 L670.6 917.0 L671.4 900.0 L672.2 886.0 L673.0 875.0 L673.8 890.0 L674.6 900.0 L675.4 908.0 L676.2 892.0 L677.0 883.0 L677.8 873.0 L678.6 876.0 L679.4 912.0 L680.2 880.0 L681.0 892.0 L681.8 918.0 L682.6 949.0 L683.4 946.0 L684.2 947.0 L685.0 912.0 L685.8 892.0 L686.6 876.0 L687.4 864.0 L688.2 906.0 L689.0 926.0 L689.8 901.0 L690.6 912.0 L691.4 940.0 L692.2 958.0 L693.0 936.0 L693.8 900.0 L694.6 888.0 L695.4 887.0 L696.2 906.0 L697.0 899.0 L697.8 921.0 L698.6 910.0 L699.4 890.0 L700.2 879.0 L701.0 883.0 L701.8 892.0 L702.6 888.0 L703.4 900.0 L704.2 912.0 L705.0 906.0 L705.8 894.0 L706.6 910.0 L707.4 919.0 L708.2 928.0 L709.0 955.0 L709.8 940.0 L710.6 931.0 L711.4 946.0 L712.2 910.0 L713.0 894.0 L713.8 890.0 L714.6 906.0 L715.4 916.0 L716.2 952.0 L716.8 969.0 L717.6 960.0 L718.4 954.0 L719.2 908.0 L720.0 880.0 L720.8 876.0 L721.6 862.0 L722.4 865.0 L723.2 890.0 L724.0 926.0 L724.8 906.0 L725.6 930.0 L726.4 890.0 L727.2 875.0 L728.0 880.0 L728.8 886.0 L729.6 904.0 L730.4 890.0 L731.2 898.0 L732.0 920.0 L732.6 946.0 L733.4 884.0 L734.2 896.0 L735.0 880.0 L735.8 879.0 L736.6 898.0 L737.4 883.0 L738.2 896.0 L739.0 892.0 L739.8 898.0 L740.6 894.0 L741.4 920.0 L742.2 898.0 L743.0 914.0 L743.8 898.0 L744.6 896.0 L745.4 900.0 L746.2 887.0 L747.0 896.0 L747.6 931.0 L748.4 914.0 L749.2 904.0 L750.0 877.0 L750.8 865.0 L751.6 884.0 L752.4 914.0 L753.2 902.0 L754.0 888.0 L754.8 874.0 L755.6 902.0 L756.4 876.0 L757.2 948.0 L758.0 910.0 L758.8 892.0 L759.6 920.0 L760.4 933.0 L761.2 908.0 L762.0 898.0 L762.8 883.0 L763.6 877.0 L764.4 886.0 L765.2 892.0 L766.0 918.0 L766.8 906.0 L767.6 912.0 L768.4 893.0 L769.2 910.0 L769.8 934.0 L770.6 957.0" stroke="#fff" stroke-opacity="0.85" stroke-width="3" fill="none" stroke-linejoin="round"/>
<path d="M443.6 875.0 L444.4 869.0 L444.8 906.0 L445.6 932.0 L446.4 939.0 L447.2 902.0 L448.0 910.0 L448.8 897.0 L449.6 900.0 L450.4 920.0 L451.2 916.0 L452.0 940.0 L452.8 942.0 L453.6 956.0 L454.6 967.0 L455.4 950.0 L456.0 922.0 L457.0 921.0 L457.8 940.0 L458.6 951.0 L459.4 920.0 L460.4 890.0 L461.4 867.0 L462.2 890.0 L463.0 922.0 L464.0 900.0 L464.8 936.0 L465.6 941.0 L466.6 934.0 L467.4 928.0 L468.2 902.0 L469.0 888.0 L469.8 864.0 L470.6 862.0 L471.6 854.0 L472.6 860.0 L473.4 873.0 L474.2 876.0 L475.0 898.0 L475.6 912.0 L476.4 880.0 L477.2 864.0 L478.0 879.0 L478.8 896.0 L479.6 888.0 L480.4 899.0 L481.2 908.0 L482.0 910.0 L482.8 892.0 L483.6 867.0 L484.4 876.0 L485.2 890.0 L486.0 906.0 L486.8 931.0 L487.6 906.0 L488.4 918.0 L489.4 948.0 L490.2 949.0 L491.0 928.0 L492.0 914.0 L492.8 932.0 L493.6 946.0 L494.4 959.0 L495.2 940.0 L496.0 920.0 L496.8 902.0 L497.6 892.0 L498.4 906.0 L499.2 886.0 L500.0 884.0 L500.8 877.0 L501.6 883.0 L502.4 874.0 L503.2 910.0 L504.0 926.0 L504.8 909.0 L505.6 920.0 L506.4 927.0 L507.2 940.0 L507.8 953.0 L508.6 932.0 L509.4 916.0 L510.2 902.0 L511.0 890.0 L512.0 880.0 L513.0 878.0 L514.0 898.0 L514.8 918.0 L515.6 902.0 L516.4 906.0 L517.2 922.0 L518.0 931.0 L518.8 912.0 L519.6 900.0 L520.4 897.0 L521.2 890.0 L522.0 892.0 L522.8 881.0 L523.6 892.0 L524.4 886.0 L525.2 897.0 L526.0 890.0 L526.8 900.0 L527.6 898.0 L528.4 910.0 L529.2 924.0 L530.0 936.0 L530.8 951.0 L531.6 934.0 L532.4 953.0 L533.2 926.0 L534.0 908.0 L534.8 890.0 L535.6 898.0 L536.4 881.0 L537.2 894.0 L538.0 892.0 L538.8 904.0 L539.6 898.0 L540.4 906.0 L541.2 910.0 L542.0 900.0 L542.8 908.0 L543.6 888.0 L544.4 910.0 L545.2 926.0 L546.0 908.0 L546.8 893.0 L547.6 902.0 L548.4 910.0 L549.2 900.0 L550.0 912.0 L550.8 902.0 L551.6 916.0 L552.4 930.0 L553.0 945.0 L553.8 932.0 L554.6 908.0 L555.4 882.0 L556.4 883.0 L557.2 908.0 L558.0 928.0 L558.6 949.0 L559.4 932.0 L560.2 948.0 L560.8 928.0 L561.4 957.0 L562.2 928.0 L563.0 940.0 L563.8 928.0 L564.6 944.0 L565.4 920.0 L566.2 906.0 L567.0 900.0 L567.8 894.0 L568.6 910.0 L569.4 924.0 L570.2 940.0 L570.8 953.0 L571.6 916.0 L572.4 897.0 L573.2 908.0 L574.0 920.0 L574.8 952.0 L575.6 976.0 L576.4 964.0 L577.2 976.0 L578.0 952.0 L578.8 936.0 L579.6 916.0 L580.4 894.0 L581.2 902.0 L582.0 920.0 L582.8 940.0 L583.6 960.0 L584.2 920.0 L585.0 876.0 L585.8 866.0 L586.6 858.0 L587.4 883.0 L588.4 866.0 L589.2 876.0 L589.8 899.2 L590.4 922.0 L591.4 878.0 L592.4 887.0 L593.2 868.0 L594.0 880.0 L594.8 896.0 L595.6 920.0 L596.4 937.0 L597.2 926.0 L598.0 912.0 L598.8 890.0 L599.6 870.0 L600.4 876.0 L601.2 910.0 L602.0 932.0 L602.8 890.0 L603.6 884.0 L604.4 882.0 L605.2 875.0 L605.8 918.0 L606.4 954.0 L607.2 955.0 L608.0 944.0 L608.6 952.0 L609.4 962.0 L610.0 920.0 L610.8 906.0 L611.6 932.0 L612.4 904.0 L613.2 896.0 L614.0 882.0 L614.8 870.0 L615.6 875.0 L616.4 886.0 L617.2 894.0 L618.0 883.0 L618.8 876.0 L619.6 889.0 L620.4 888.0 L621.2 902.0 L622.0 896.0 L622.8 912.0 L623.6 929.0 L624.4 906.0 L625.2 890.0 L626.0 906.0 L626.8 930.0 L627.6 950.0 L628.4 895.0 L629.2 908.0 L630.0 944.0 L630.8 968.0 L631.6 972.0 L632.4 964.0 L633.2 958.0 L634.0 904.0 L634.8 874.0 L635.6 900.0 L636.4 945.0 L637.2 904.0 L638.0 916.0 L638.8 888.0 L639.6 870.0 L640.4 861.0 L641.2 871.0 L642.0 892.0 L642.8 896.0 L643.6 910.0 L644.4 928.0 L645.2 938.0 L646.0 956.0 L646.8 926.0 L647.6 900.0 L648.4 898.0 L649.2 902.0 L650.0 894.0 L650.8 896.0 L651.6 888.0 L652.4 872.0 L653.2 902.0 L654.0 928.0 L654.8 934.0 L655.4 953.0 L656.2 924.0 L657.0 904.0 L657.8 884.0 L658.6 865.0 L659.4 865.0 L660.2 878.0 L661.0 884.0 L661.8 892.0 L662.6 898.0 L663.4 923.0 L664.2 900.0 L665.0 880.0 L665.8 878.0 L666.6 906.0 L667.4 886.0 L668.2 870.0 L669.0 875.0 L669.8 894.0 L670.6 917.0 L671.4 900.0 L672.2 886.0 L673.0 875.0 L673.8 890.0 L674.6 900.0 L675.4 908.0 L676.2 892.0 L677.0 883.0 L677.8 873.0 L678.6 876.0 L679.4 912.0 L680.2 880.0 L681.0 892.0 L681.8 918.0 L682.6 949.0 L683.4 946.0 L684.2 947.0 L685.0 912.0 L685.8 892.0 L686.6 876.0 L687.4 864.0 L688.2 906.0 L689.0 926.0 L689.8 901.0 L690.6 912.0 L691.4 940.0 L692.2 958.0 L693.0 936.0 L693.8 900.0 L694.6 888.0 L695.4 887.0 L696.2 906.0 L697.0 899.0 L697.8 921.0 L698.6 910.0 L699.4 890.0 L700.2 879.0 L701.0 883.0 L701.8 892.0 L702.6 888.0 L703.4 900.0 L704.2 912.0 L705.0 906.0 L705.8 894.0 L706.6 910.0 L707.4 919.0 L708.2 928.0 L709.0 955.0 L709.8 940.0 L710.6 931.0 L711.4 946.0 L712.2 910.0 L713.0 894.0 L713.8 890.0 L714.6 906.0 L715.4 916.0 L716.2 952.0 L716.8 969.0 L717.6 960.0 L718.4 954.0 L719.2 908.0 L720.0 880.0 L720.8 876.0 L721.6 862.0 L722.4 865.0 L723.2 890.0 L724.0 926.0 L724.8 906.0 L725.6 930.0 L726.4 890.0 L727.2 875.0 L728.0 880.0 L728.8 886.0 L729.6 904.0 L730.4 890.0 L731.2 898.0 L732.0 920.0 L732.6 946.0 L733.4 884.0 L734.2 896.0 L735.0 880.0 L735.8 879.0 L736.6 898.0 L737.4 883.0 L738.2 896.0 L739.0 892.0 L739.8 898.0 L740.6 894.0 L741.4 920.0 L742.2 898.0 L743.0 914.0 L743.8 898.0 L744.6 896.0 L745.4 900.0 L746.2 887.0 L747.0 896.0 L747.6 931.0 L748.4 914.0 L749.2 904.0 L750.0 877.0 L750.8 865.0 L751.6 884.0 L752.4 914.0 L753.2 902.0 L754.0 888.0 L754.8 874.0 L755.6 902.0 L756.4 876.0 L757.2 948.0 L758.0 910.0 L758.8 892.0 L759.6 920.0 L760.4 933.0 L761.2 908.0 L762.0 898.0 L762.8 883.0 L763.6 877.0 L764.4 886.0 L765.2 892.0 L766.0 918.0 L766.8 906.0 L767.6 912.0 L768.4 893.0 L769.2 910.0 L769.8 934.0 L770.6 957.0" stroke="#000" stroke-width="1.25" fill="none" stroke-linejoin="miter" stroke-miterlimit="3"/>
<line x1="16" y1="877.5" x2="778.5" y2="877.5" stroke="#000088" stroke-width="1.15" />
<line x1="16" y1="938.5" x2="778.5" y2="938.5" stroke="#000088" stroke-width="1.15" />
<text x="34.55" y="432.2" font-size="10" text-anchor="middle" font-weight="normal" fill="#000" letter-spacing="0.4" class="a">81</text>
<text x="34.55" y="994.2" font-size="10" text-anchor="middle" font-weight="normal" fill="#000" letter-spacing="0.4" class="a">81</text>
<text x="54.00899999999999" y="432.2" font-size="10" text-anchor="middle" font-weight="normal" fill="#000" letter-spacing="0.4" class="a">82</text>
<text x="54.00899999999999" y="994.2" font-size="10" text-anchor="middle" font-weight="normal" fill="#000" letter-spacing="0.4" class="a">82</text>
<text x="73.468" y="432.2" font-size="10" text-anchor="middle" font-weight="normal" fill="#000" letter-spacing="0.4" class="a">83</text>
<text x="73.468" y="994.2" font-size="10" text-anchor="middle" font-weight="normal" fill="#000" letter-spacing="0.4" class="a">83</text>
<text x="92.92699999999999" y="432.2" font-size="10" text-anchor="middle" font-weight="normal" fill="#000" letter-spacing="0.4" class="a">84</text>
<text x="92.92699999999999" y="994.2" font-size="10" text-anchor="middle" font-weight="normal" fill="#000" letter-spacing="0.4" class="a">84</text>
<text x="112.386" y="432.2" font-size="10" text-anchor="middle" font-weight="normal" fill="#000" letter-spacing="0.4" class="a">85</text>
<text x="112.386" y="994.2" font-size="10" text-anchor="middle" font-weight="normal" fill="#000" letter-spacing="0.4" class="a">85</text>
<text x="131.945" y="432.2" font-size="10" text-anchor="middle" font-weight="normal" fill="#000" letter-spacing="0.4" class="a">86</text>
<text x="131.945" y="994.2" font-size="10" text-anchor="middle" font-weight="normal" fill="#000" letter-spacing="0.4" class="a">86</text>
<text x="151.304" y="432.2" font-size="10" text-anchor="middle" font-weight="normal" fill="#000" letter-spacing="0.4" class="a">87</text>
<text x="151.304" y="994.2" font-size="10" text-anchor="middle" font-weight="normal" fill="#000" letter-spacing="0.4" class="a">87</text>
<text x="170.763" y="432.2" font-size="10" text-anchor="middle" font-weight="normal" fill="#000" letter-spacing="0.4" class="a">88</text>
<text x="170.763" y="994.2" font-size="10" text-anchor="middle" font-weight="normal" fill="#000" letter-spacing="0.4" class="a">88</text>
<text x="190.222" y="432.2" font-size="10" text-anchor="middle" font-weight="normal" fill="#000" letter-spacing="0.4" class="a">89</text>
<text x="190.222" y="994.2" font-size="10" text-anchor="middle" font-weight="normal" fill="#000" letter-spacing="0.4" class="a">89</text>
<text x="209.681" y="432.2" font-size="10" text-anchor="middle" font-weight="normal" fill="#000" letter-spacing="0.4" class="a">90</text>
<text x="209.681" y="994.2" font-size="10" text-anchor="middle" font-weight="normal" fill="#000" letter-spacing="0.4" class="a">90</text>
<text x="229.14000000000001" y="432.2" font-size="10" text-anchor="middle" font-weight="normal" fill="#000" letter-spacing="0.4" class="a">91</text>
<text x="229.14000000000001" y="994.2" font-size="10" text-anchor="middle" font-weight="normal" fill="#000" letter-spacing="0.4" class="a">91</text>
<text x="248.59900000000002" y="432.2" font-size="10" text-anchor="middle" font-weight="normal" fill="#000" letter-spacing="0.4" class="a">92</text>
<text x="248.59900000000002" y="994.2" font-size="10" text-anchor="middle" font-weight="normal" fill="#000" letter-spacing="0.4" class="a">92</text>
<text x="268.05799999999994" y="432.2" font-size="10" text-anchor="middle" font-weight="normal" fill="#000" letter-spacing="0.4" class="a">93</text>
<text x="268.05799999999994" y="994.2" font-size="10" text-anchor="middle" font-weight="normal" fill="#000" letter-spacing="0.4" class="a">93</text>
<text x="287.51699999999994" y="432.2" font-size="10" text-anchor="middle" font-weight="normal" fill="#000" letter-spacing="0.4" class="a">94</text>
<text x="287.51699999999994" y="994.2" font-size="10" text-anchor="middle" font-weight="normal" fill="#000" letter-spacing="0.4" class="a">94</text>
<text x="306.97599999999994" y="432.2" font-size="10" text-anchor="middle" font-weight="normal" fill="#000" letter-spacing="0.4" class="a">95</text>
<text x="306.97599999999994" y="994.2" font-size="10" text-anchor="middle" font-weight="normal" fill="#000" letter-spacing="0.4" class="a">95</text>
<text x="326.43499999999995" y="432.2" font-size="10" text-anchor="middle" font-weight="normal" fill="#000" letter-spacing="0.4" class="a">96</text>
<text x="326.43499999999995" y="994.2" font-size="10" text-anchor="middle" font-weight="normal" fill="#000" letter-spacing="0.4" class="a">96</text>
<text x="345.89399999999995" y="432.2" font-size="10" text-anchor="middle" font-weight="normal" fill="#000" letter-spacing="0.4" class="a">97</text>
<text x="345.89399999999995" y="994.2" font-size="10" text-anchor="middle" font-weight="normal" fill="#000" letter-spacing="0.4" class="a">97</text>
<text x="365.35299999999995" y="432.2" font-size="10" text-anchor="middle" font-weight="normal" fill="#000" letter-spacing="0.4" class="a">98</text>
<text x="365.35299999999995" y="994.2" font-size="10" text-anchor="middle" font-weight="normal" fill="#000" letter-spacing="0.4" class="a">98</text>
<text x="384.81199999999995" y="432.2" font-size="10" text-anchor="middle" font-weight="normal" fill="#000" letter-spacing="0.4" class="a">99</text>
<text x="384.81199999999995" y="994.2" font-size="10" text-anchor="middle" font-weight="normal" fill="#000" letter-spacing="0.4" class="a">99</text>
<text x="404.27099999999996" y="432.2" font-size="10" text-anchor="middle" font-weight="normal" fill="#000" letter-spacing="0.4" class="a">00</text>
<text x="404.27099999999996" y="994.2" font-size="10" text-anchor="middle" font-weight="normal" fill="#000" letter-spacing="0.4" class="a">00</text>
<text x="423.72999999999996" y="432.2" font-size="10" text-anchor="middle" font-weight="normal" fill="#000" letter-spacing="0.4" class="a">01</text>
<text x="423.72999999999996" y="994.2" font-size="10" text-anchor="middle" font-weight="normal" fill="#000" letter-spacing="0.4" class="a">01</text>
<text x="443.18899999999996" y="432.2" font-size="10" text-anchor="middle" font-weight="normal" fill="#000" letter-spacing="0.4" class="a">02</text>
<text x="443.18899999999996" y="994.2" font-size="10" text-anchor="middle" font-weight="normal" fill="#000" letter-spacing="0.4" class="a">02</text>
<text x="462.64799999999997" y="432.2" font-size="10" text-anchor="middle" font-weight="normal" fill="#000" letter-spacing="0.4" class="a">03</text>
<text x="462.64799999999997" y="994.2" font-size="10" text-anchor="middle" font-weight="normal" fill="#000" letter-spacing="0.4" class="a">03</text>
<text x="482.10699999999997" y="432.2" font-size="10" text-anchor="middle" font-weight="normal" fill="#000" letter-spacing="0.4" class="a">04</text>
<text x="482.10699999999997" y="994.2" font-size="10" text-anchor="middle" font-weight="normal" fill="#000" letter-spacing="0.4" class="a">04</text>
<text x="501.5659999999999" y="432.2" font-size="10" text-anchor="middle" font-weight="normal" fill="#000" letter-spacing="0.4" class="a">05</text>
<text x="501.5659999999999" y="994.2" font-size="10" text-anchor="middle" font-weight="normal" fill="#000" letter-spacing="0.4" class="a">05</text>
<text x="520.725" y="432.2" font-size="10" text-anchor="middle" font-weight="normal" fill="#000" letter-spacing="0.4" class="a">06</text>
<text x="520.725" y="994.2" font-size="10" text-anchor="middle" font-weight="normal" fill="#000" letter-spacing="0.4" class="a">06</text>
<text x="540.4839999999999" y="432.2" font-size="10" text-anchor="middle" font-weight="normal" fill="#000" letter-spacing="0.4" class="a">07</text>
<text x="540.4839999999999" y="994.2" font-size="10" text-anchor="middle" font-weight="normal" fill="#000" letter-spacing="0.4" class="a">07</text>
<text x="559.943" y="432.2" font-size="10" text-anchor="middle" font-weight="normal" fill="#000" letter-spacing="0.4" class="a">08</text>
<text x="559.943" y="994.2" font-size="10" text-anchor="middle" font-weight="normal" fill="#000" letter-spacing="0.4" class="a">08</text>
<text x="579.4019999999999" y="432.2" font-size="10" text-anchor="middle" font-weight="normal" fill="#000" letter-spacing="0.4" class="a">09</text>
<text x="579.4019999999999" y="994.2" font-size="10" text-anchor="middle" font-weight="normal" fill="#000" letter-spacing="0.4" class="a">09</text>
<text x="598.861" y="432.2" font-size="10" text-anchor="middle" font-weight="normal" fill="#000" letter-spacing="0.4" class="a">10</text>
<text x="598.861" y="994.2" font-size="10" text-anchor="middle" font-weight="normal" fill="#000" letter-spacing="0.4" class="a">10</text>
<text x="618.3199999999999" y="432.2" font-size="10" text-anchor="middle" font-weight="normal" fill="#000" letter-spacing="0.4" class="a">11</text>
<text x="618.3199999999999" y="994.2" font-size="10" text-anchor="middle" font-weight="normal" fill="#000" letter-spacing="0.4" class="a">11</text>
<text x="637.779" y="432.2" font-size="10" text-anchor="middle" font-weight="normal" fill="#000" letter-spacing="0.4" class="a">12</text>
<text x="637.779" y="994.2" font-size="10" text-anchor="middle" font-weight="normal" fill="#000" letter-spacing="0.4" class="a">12</text>
<text x="657.2379999999999" y="432.2" font-size="10" text-anchor="middle" font-weight="normal" fill="#000" letter-spacing="0.4" class="a">13</text>
<text x="657.2379999999999" y="994.2" font-size="10" text-anchor="middle" font-weight="normal" fill="#000" letter-spacing="0.4" class="a">13</text>
<text x="676.6969999999999" y="432.2" font-size="10" text-anchor="middle" font-weight="normal" fill="#000" letter-spacing="0.4" class="a">14</text>
<text x="676.6969999999999" y="994.2" font-size="10" text-anchor="middle" font-weight="normal" fill="#000" letter-spacing="0.4" class="a">14</text>
<text x="696.156" y="432.2" font-size="10" text-anchor="middle" font-weight="normal" fill="#000" letter-spacing="0.4" class="a">15</text>
<text x="696.156" y="994.2" font-size="10" text-anchor="middle" font-weight="normal" fill="#000" letter-spacing="0.4" class="a">15</text>
<text x="715.6149999999999" y="432.2" font-size="10" text-anchor="middle" font-weight="normal" fill="#000" letter-spacing="0.4" class="a">16</text>
<text x="715.6149999999999" y="994.2" font-size="10" text-anchor="middle" font-weight="normal" fill="#000" letter-spacing="0.4" class="a">16</text>
<text x="735.074" y="432.2" font-size="10" text-anchor="middle" font-weight="normal" fill="#000" letter-spacing="0.4" class="a">17</text>
<text x="735.074" y="994.2" font-size="10" text-anchor="middle" font-weight="normal" fill="#000" letter-spacing="0.4" class="a">17</text>
<text x="754.5329999999999" y="432.2" font-size="10" text-anchor="middle" font-weight="normal" fill="#000" letter-spacing="0.4" class="a">18</text>
<text x="754.5329999999999" y="994.2" font-size="10" text-anchor="middle" font-weight="normal" fill="#000" letter-spacing="0.4" class="a">18</text>
<rect x="17" y="29" width="170" height="13" fill="#fff" fill-opacity="0.93"/>
<rect x="19" y="31" width="1" height="1" fill="#000"/>
<rect x="20" y="31" width="1" height="6" fill="#000"/>
<rect x="21" y="35" width="1" height="1" fill="#000"/>
<rect x="23" y="34" width="1" height="6" fill="#000"/>
<rect x="22" y="38" width="1" height="1" fill="#000"/>
<rect x="24" y="38" width="1" height="1" fill="#000"/>
<rect x="26" y="31" width="1" height="7" fill="#000"/>
<rect x="27" y="34" width="1" height="1" fill="#000"/>
<rect x="25" y="37" width="1" height="1" fill="#000"/>
<text transform="translate(32,38.8) scale(1.1,1)" font-size="10" textLength="138.2" lengthAdjust="spacing" class="b">$COMPQ (Weekly) 7496.89</text>
<text x="16.7" y="13.5" font-size="12.3" text-anchor="start" font-weight="bold" fill="#000" textLength="54.3" lengthAdjust="spacing" stroke="#000" stroke-width="0.25">$COMPQ</text>
<text x="75.7" y="13.3" font-size="10.6" text-anchor="start" font-weight="normal" fill="#000" textLength="89.3" lengthAdjust="spacing" >Nasdaq Composite</text>
<text x="170.5" y="13.2" font-size="8.8" text-anchor="start" font-weight="normal" fill="#000" textLength="23.3" lengthAdjust="spacing" >INDX</text>
<text x="16.8" y="25.8" font-size="9.4" text-anchor="start" font-weight="normal" fill="#000" textLength="57.2" lengthAdjust="spacingAndGlyphs" >12-Oct-2018</text>
<text x="282.4" y="26.2" font-size="10.6" text-anchor="start" font-weight="bold" fill="#000" textLength="27.2" lengthAdjust="spacingAndGlyphs" >Open</text>
<text x="314" y="26.2" font-size="10.6" text-anchor="start" font-weight="normal" fill="#000" textLength="38" lengthAdjust="spacingAndGlyphs" >7747.10</text>
<text x="358.6" y="26.2" font-size="10.6" text-anchor="start" font-weight="bold" fill="#000" textLength="23.4" lengthAdjust="spacingAndGlyphs" >High</text>
<text x="386" y="26.2" font-size="10.6" text-anchor="start" font-weight="normal" fill="#000" textLength="38" lengthAdjust="spacingAndGlyphs" >7799.75</text>
<text x="431" y="26.2" font-size="10.6" text-anchor="start" font-weight="bold" fill="#000" textLength="23" lengthAdjust="spacingAndGlyphs" >Low</text>
<text x="458" y="26.2" font-size="10.6" text-anchor="start" font-weight="normal" fill="#000" textLength="38.4" lengthAdjust="spacingAndGlyphs" >7274.04</text>
<text x="503" y="26.2" font-size="10.6" text-anchor="start" font-weight="bold" fill="#000" textLength="30.6" lengthAdjust="spacingAndGlyphs" >Close</text>
<text x="538" y="26.2" font-size="10.6" text-anchor="start" font-weight="normal" fill="#000" textLength="37.6" lengthAdjust="spacingAndGlyphs" >7496.89</text>
<text x="583" y="26.2" font-size="10.6" text-anchor="start" font-weight="bold" fill="#000" textLength="42" lengthAdjust="spacingAndGlyphs" >Volume</text>
<text x="630" y="26.2" font-size="10.6" text-anchor="start" font-weight="normal" fill="#000" textLength="26.8" lengthAdjust="spacingAndGlyphs" >13.4B</text>
<text x="663" y="26.2" font-size="10.6" text-anchor="start" font-weight="bold" fill="#000" textLength="21.2" lengthAdjust="spacingAndGlyphs" >Chg</text>
<text x="688" y="26.2" font-size="10.6" text-anchor="start" font-weight="normal" fill="#000" textLength="78.3" lengthAdjust="spacingAndGlyphs" >-291.55 (-3.74%)</text>
<path d="M769.3 21.2h7l-3.5 3.9z" fill="#990033"/>
<text x="686.7" y="13" font-size="10.3" text-anchor="start" font-weight="normal" fill="#3a3a3a" textLength="89.5" lengthAdjust="spacing" stroke="#3a3a3a" stroke-width="0.2"><tspan font-size="8.5" dy="-0.6">&#169;</tspan><tspan dy="0.6">StockCharts.com</tspan></text>
</svg></div></body></html>
